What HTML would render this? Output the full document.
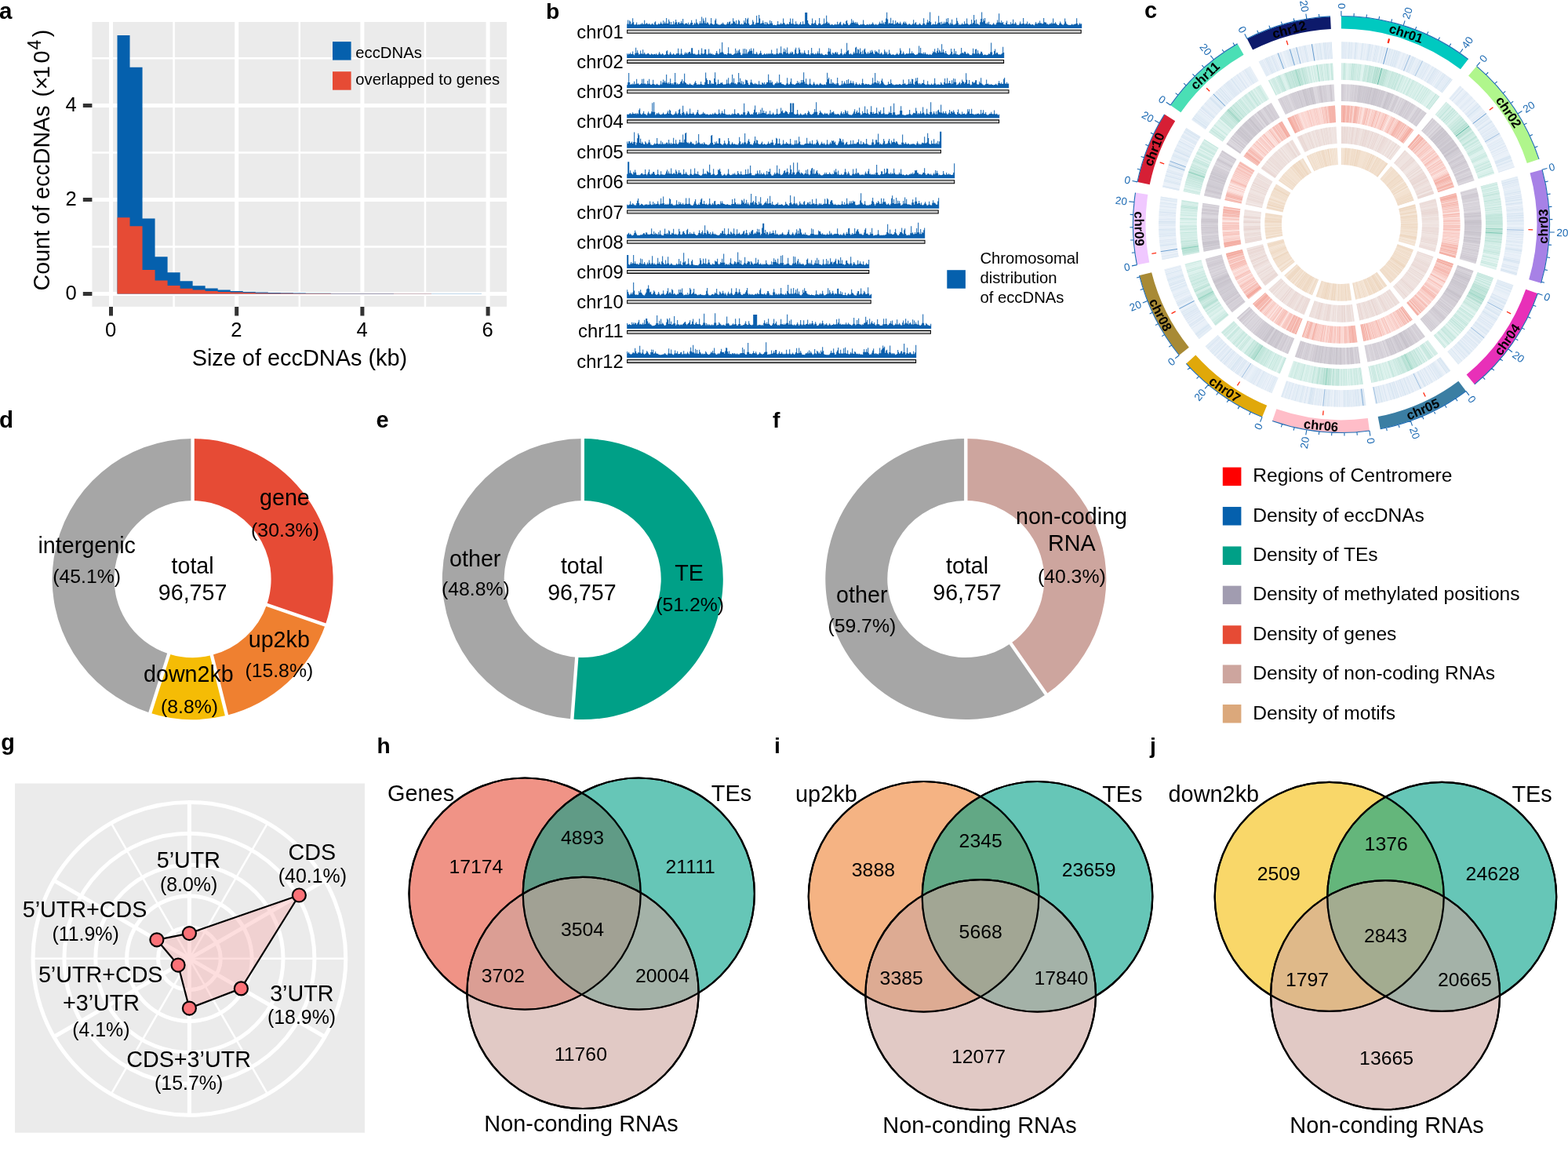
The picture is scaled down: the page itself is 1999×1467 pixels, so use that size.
<!DOCTYPE html>
<html lang="en"><head><meta charset="utf-8"><title>eccDNA figure</title>
<style>
html,body{margin:0;padding:0;background:#fff}
body{width:1999px;height:1467px;overflow:hidden}
svg{display:block;font-family:"Liberation Sans",sans-serif;fill:#000}
</style></head><body>
<svg width="1999" height="1467" viewBox="0 0 1999 1467">
<rect width="1999" height="1467" fill="#fff"/>
<text x="-1" y="23.6" font-size="29.5" font-weight="bold">a</text>
<text x="696" y="23.6" font-size="28.3" font-weight="bold">b</text>
<text x="1459" y="23.4" font-size="29" font-weight="bold">c</text>
<text x="-1" y="545.4" font-size="29.5" font-weight="bold">d</text>
<text x="479.5" y="545.3" font-size="29" font-weight="bold">e</text>
<text x="985" y="545.3" font-size="28.3" font-weight="bold">f</text>
<text x="1.2" y="956.4" font-size="28.8" font-weight="bold">g</text>
<text x="480.5" y="959.8" font-size="28.1" font-weight="bold">h</text>
<text x="987" y="959.8" font-size="28.3" font-weight="bold">i</text>
<text x="1466" y="959.8" font-size="28.3" font-weight="bold">j</text>
<g id="pa">
<rect x="117.4" y="28" width="528.6" height="362.9" fill="#ebebeb"/>
<path d="M221.6 28V390.9M381.8 28V390.9M542 28V390.9M117.4 314.55H646M117.4 194.45H646M117.4 74.35H646" stroke="#fff" stroke-width="2.5" fill="none"/>
<path d="M141.5 28V390.9M301.7 28V390.9M461.9 28V390.9M622.1 28V390.9M117.4 374.6H646M117.4 254.5H646M117.4 134.4H646" stroke="#fff" stroke-width="5" fill="none"/>
<path d="M149.51 374.6V44.93H165.53V85.76H181.55V278.52H197.57V327.34H213.59V347.22H229.61V358.21H245.63V364.21H261.65V367.39H277.67V369.62H293.69V371H309.71V371.9H325.73V372.5H341.75V372.92H357.77V373.22H373.79V373.46H389.81V373.64H405.83V373.76H421.85V373.88H437.87V373.94H453.89V374H469.91V374.06H485.93V374.12H501.95V374.18H517.97V374.18H533.99V374.24H550.01V374.24H566.03V374.3H582.05V374.3H598.07V374.3H614.09V374.6Z" fill="#0560ad"/>
<path d="M149.51 374.6V277.32H165.53V288.13H181.55V343.97H197.57V357.43H213.59V364.03H229.61V367.63H245.63V369.62H261.65V371H277.67V371.9H293.69V372.56H309.71V373.04H325.73V373.4H341.75V373.64H357.77V373.82H373.79V373.94H389.81V374.06H405.83V374.12H421.85V374.18H437.87V374.24H453.89V374.24H469.91V374.3H485.93V374.3H501.95V374.36H517.97V374.36H533.99V374.36H550.01V374.42H566.03V374.42H582.05V374.42H598.07V374.42H614.09V374.6Z" fill="#e64b35"/>
<path d="M141.5 390.9V402.5M301.7 390.9V402.5M461.9 390.9V402.5M622.1 390.9V402.5M105.8 374.6H117.4M105.8 254.5H117.4M105.8 134.4H117.4" stroke="#333" stroke-width="5" fill="none"/>
<text x="141.1" y="429.3" font-size="25.6" text-anchor="middle">0</text>
<text x="301.3" y="429.3" font-size="25.6" text-anchor="middle">2</text>
<text x="461.5" y="429.3" font-size="25.6" text-anchor="middle">4</text>
<text x="621.7" y="429.3" font-size="25.6" text-anchor="middle">6</text>
<text x="97.8" y="382.4" font-size="25.6" text-anchor="end">0</text>
<text x="97.8" y="262.3" font-size="25.6" text-anchor="end">2</text>
<text x="97.8" y="142.2" font-size="25.6" text-anchor="end">4</text>
<text x="381.9" y="465.8" font-size="28.9" text-anchor="middle">Size of eccDNAs (kb)</text>
<text transform="translate(62.9,370.4) rotate(-90)" font-size="28.7">Count of eccDNAs <tspan dx="3">(</tspan><tspan dx="-0.4">×</tspan><tspan dx="-2.5">1</tspan><tspan dx="3.5">0</tspan><tspan dy="-11.2" font-size="23" dx="1">4</tspan><tspan dy="11.2" dx="3.5">)</tspan></text>
<rect x="424" y="53.1" width="23.6" height="23.5" fill="#0560ad"/>
<rect x="424" y="91.2" width="23.6" height="23.5" fill="#e64b35"/>
<text x="453.3" y="74.1" font-size="20.3">eccDNAs</text>
<text x="453.3" y="108.2" font-size="20.3">overlapped to genes</text>
</g>
<g id="pb">
<text x="794.8" y="48.75" font-size="23.8" text-anchor="end">chr01</text>
<text x="794.8" y="86.9" font-size="23.8" text-anchor="end">chr02</text>
<text x="794.8" y="125.2" font-size="23.8" text-anchor="end">chr03</text>
<text x="794.8" y="163.3" font-size="23.8" text-anchor="end">chr04</text>
<text x="794.8" y="201.6" font-size="23.8" text-anchor="end">chr05</text>
<text x="794.8" y="240.2" font-size="23.8" text-anchor="end">chr06</text>
<text x="794.8" y="278.5" font-size="23.8" text-anchor="end">chr07</text>
<text x="794.8" y="316.7" font-size="23.8" text-anchor="end">chr08</text>
<text x="794.8" y="354.9" font-size="23.8" text-anchor="end">chr09</text>
<text x="794.8" y="393.2" font-size="23.8" text-anchor="end">chr10</text>
<text x="794.8" y="430.2" font-size="23.8" text-anchor="end">chr11</text>
<text x="794.8" y="468.9" font-size="23.8" text-anchor="end">chr12</text>
<path d="M799.2 35.9V30.47h1V25.6h1V30.7h1V26.14h1V27.45h1V30.92h1V29.59h1V23.32h1V28.13h1V31.33h1V31.64h1V30.87h1V28.51h1V31.43h1V31.56h1V31.08h1V31.5h1V30.6h1V30.84h1V29.28h1V30.84h1V30.73h1V25.72h1V30.73h1V30.23h1V29.28h1V30.62h1V31.03h1V29.65h1V31.03h1V31.62h1V30.84h1V29.81h1V31.11h1V31.43h1V28.52h1V27.29h1V31.12h1V31.8h1V31.12h1V29.83h1V31.12h1V30.03h1V27.65h1V30.03h1V30.84h1V26.18h1V30.11h1V27.81h1V30.06h1V23.05h1V30.06h1V30h1V24.78h1V27.54h1V31.19h1V27.92h1V31.28h1V31.12h1V27.26h1V31.12h1V28.67h1V24.94h1V28.24h1V31.08h1V28.75h1V27.88h1V30.14h1V29.52h1V26.64h1V29.52h1V23.88h1V30.27h1V31.15h1V29.9h1V29.53h1V29.84h1V31.12h1V28.72h1V31.48h1V30.63h1V29.08h1V25.76h1V29.08h1V32.01h1V30.67h1V28.94h1V30.45h1V24.61h1V28.79h1V30.32h1V31.36h1V29.73h1V27.05h1V29.68h1V21.51h1V29.68h1V23.53h1V26.51h1V29.45h1V22.59h1V29.95h1V28.33h1V29.32h1V30.86h1V31.74h1V30.05h1V22.98h1V30.05h1V31.09h1V31.58h1V30.81h1V26.04h1V23.71h1V30.23h1V30.46h1V31.43h1V31.18h1V31.79h1V31.29h1V30.18h1V30.57h1V28.75h1V30.57h1V31.32h1V31.5h1V31.42h1V30.26h1V28.12h1V30.26h1V28.11h1V27.34h1V31.13h1V30.1h1V30.09h1V23.16h1V27.26h1V27.83h1V30.11h1V26.1h1V30.82h1V30.62h1V25.3h1V26.75h1V30.93h1V31.24h1V30.07h1V31.24h1V30.84h1V26.16h1V28.76h1V22.93h1V30.03h1V24.43h1V22.8h1V30h1V31.65h1V31.95h1V31.49h1V30.67h1V25.48h1V27.85h1V31.26h1V31.33h1V29.29h1V19.97h1V29.29h1V29.07h1V19.08h1V23.58h1V30.19h1V29.7h1V29.37h1V26.34h1V29.37h1V30.88h1V28.06h1V31.31h1V28.35h1V29.64h1V30.73h1V30.8h1V26h1V29.7h1V27h1V29.7h1V31.84h1V31.92h1V31.43h1V31.92h1V32.23h1V31.03h1V26.92h1V31.03h1V31.27h1V30.79h1V29.23h1V30.82h1V30.17h1V23.47h1V29.06h1V30.41h1V31.41h1V31.18h1V29.95h1V31.08h1V30.68h1V28.03h1V23.47h1V30.17h1V30.23h1V23.71h1V30.23h1V31.25h1V31.09h1V27.17h1V30.44h1V30.38h1V31.38h1V31.31h1V30.22h1V27.94h1V31.29h1V31.09h1V27.15h1V30.73h1V30.71h1V15.9h1V15.9h1V15.9h1V25.92h1V29.83h1V31.11h1V31.95h1V32.05h1V30.11h1V23.57h1V30.11h1V30.58h1V28.98h1V25.7h1V30.73h1V31.95h1V31.83h1V30.02h1V22.88h1V30.02h1V31.46h1V31.65h1V31.07h1V30.17h1V23.47h1V30.17h1V29.25h1V19.79h1V27.71h1V29.89h1V28.73h1V30.56h1V31.8h1V31.5h1V30.85h1V31.62h1V32.08h1V31.39h1V30.38h1V31.39h1V31.26h1V27.85h1V31.26h1V30.62h1V28.85h1V27.65h1V31.21h1V32.18h1V30.76h1V29.13h1V30.76h1V31.07h1V27.1h1V25.63h1V29.83h1V31.66h1V31.96h1V30.98h1V29.57h1V24.29h1V29.01h1V26.36h1V28.48h1V29.5h1V27.9h1V30.27h1V28.14h1V30.27h1V31.48h1V31.94h1V31.62h1V30.84h1V31.62h1V30.67h1V25.49h1V30.67h1V31.74h1V31.94h1V31.47h1V30.85h1V31.43h1V31.49h1V30.57h1V31.49h1V30.72h1V30.46h1V28.51h1V30.46h1V31.58h1V31.39h1V30.38h1V31.39h1V31.84h1V31.33h1V30.12h1V27.85h1V30.12h1V30.17h1V26.34h1V30.17h1V28.51h1V30.79h1V27.9h1V23.39h1V15.85h1V24.58h1V30.45h1V28.88h1V29.96h1V22.63h1V29.96h1V29.81h1V25.82h1V30.76h1V30.7h1V26.23h1V29.89h1V28.49h1V28.61h1V30.34h1V30.03h1V27.66h1V30.03h1V31.83h1V30.54h1V28.68h1V27.38h1V30.09h1V27.78h1V30.09h1V31.38h1V31.39h1V30.39h1V30.18h1V31.29h1V31.73h1V31.35h1V30.3h1V25.31h1V30.63h1V29.18h1V28.27h1V31.36h1V31.51h1V31.56h1V30.72h1V29.58h1V30.99h1V31.88h1V31.7h1V30.09h1V23.15h1V30.09h1V31.64h1V31.16h1V28.87h1V25.34h1V28.87h1V26.99h1V15.59h1V28.2h1V31.7h1V31.27h1V30.14h1V31.27h1V30.95h1V27.57h1V31.19h1V30.82h1V29.35h1V20.21h1V29.35h1V28.24h1V31.26h1V27.84h1V30.62h1V30.1h1V27.81h1V30.1h1V28.13h1V23.87h1V28.13h1V23.04h1V30.06h1V31.5h1V28.8h1V30.51h1V24.86h1V30.51h1V31.85h1V31.3h1V31.17h1V29.95h1V22.77h1V26.83h1V29.62h1V31.66h1V30.95h1V31.67h1V31h1V29.59h1V31h1V31.12h1V27.29h1V30.46h1V30.16h1V23.45h1V30.16h1V31.2h1V31.74h1V31.09h1V30.52h1V24.88h1V30.52h1V29.07h1V19.09h1V26.1h1V30.49h1V24.76h1V30.49h1V30.14h1V31.27h1V31.69h1V28.24h1V24.07h1V15.53h1V28.18h1V23.78h1V26.62h1V23.07h1V30.07h1V30.51h1V28.61h1V30.51h1V27.72h1V31.23h1V30.69h1V31.55h1V31.64h1V30.85h1V29.31h1V30.85h1V31.65h1V30.91h1V28.91h1V25.42h1V28.6h1V17.19h1V28.6h1V29.3h1V26.19h1V29.3h1V27.93h1V30.96h1V31.32h1V31.52h1V28.88h1V26.58h1V30.94h1V31.07h1V30.93h1V31.37h1V28.28h1V30.87h1V30.11h1V24.71h1V30.48h1V30.32h1V28.25h1V30.32h1V32.01h1V31.62h1V32.01h1V30.28h1V27.6h1V30.28h1V30.86h1V30.08h1V23.12h1V30.08h1V31.25h1V30.35h1V30.37h1V27.39h1V31.15h1V30.32h1V29.6h1V31h1V31.54h1V31.29h1V30.86h1V31.63h1V32.2h1V30.23h1V28.06h1V30.23h1V30.61h1V28.83h1V29.5h1V26.6h1V29.5h1V29.48h1V30.47h1V30.04h1V22.98h1V28.21h1V28.43h1V28.63h1V30.63h1V30.61h1V31.5h1V31.12h1V29.83h1V30.56h1V28.71h1V30.15h1V23.39h1V29.89h1V29.79h1V28.26h1V30.28h1V31.34h1V32.11h1V31.9h1V29.91h1V27.41h1V29.54h1V30.97h1V31.54h1V31.76h1V30.19h1V23.57h1V27.59h1V30.25h1V31.32h1V31.39h1V31.89h1V31.76h1V31.95h1V31.5h1V30.6h1V31.5h1V31.5h1V30.61h1V30.92h1V30.08h1V23.13h1V30.08h1V31.88h1V30.78h1V29.17h1V30.78h1V30.29h1V35.9ZM799.2 74.05V68.3h1V69.44h1V68.32h1V68.93h1V67.3h1V68.93h1V68.73h1V65.44h1V69.27h1V70.25h1V68.11h1V60.79h1V67.46h1V64.36h1V67.46h1V69.56h1V69.03h1V64.46h1V68.2h1V68.69h1V63.13h1V68.69h1V66.97h1V68.76h1V69.59h1V68.63h1V68.32h1V67.68h1V69.01h1V69.78h1V69.41h1V68.26h1V69.06h1V69.72h1V69.09h1V68.86h1V69.42h1V68.29h1V69.42h1V70.05h1V68.43h1V66.32h1V68.43h1V69.38h1V69.23h1V67.9h1V69.23h1V70.15h1V69.8h1V69.23h1V65.27h1V64.33h1V68.99h1V69.9h1V68.44h1V66.33h1V68.44h1V69.8h1V69.31h1V68.06h1V69.31h1V70.08h1V69.27h1V67.99h1V68.32h1V61.63h1V68.32h1V70.08h1V68.5h1V62.36h1V68.5h1V70.01h1V69.71h1V68.57h1V66.59h1V68.57h1V67.01h1V68.78h1V66.98h1V66h1V66.12h1V68.21h1V61.17h1V61.26h1V68.23h1V68.89h1V68.22h1V69.39h1V69.41h1V69.68h1V68.87h1V63.85h1V68.87h1V70.03h1V68.31h1V61.59h1V68.31h1V68.91h1V68.12h1V62.91h1V63.09h1V68.68h1V69.69h1V68.51h1V62.38h1V68.51h1V67.58h1V69.07h1V68.34h1V69.45h1V69.34h1V69.94h1V69.77h1V67.78h1V65.02h1V67.78h1V69.37h1V68.5h1V62.35h1V67.3h1V66.44h1V54.1h1V66.44h1V68.22h1V69.13h1V69.07h1V69.19h1V69.87h1V67.99h1V60.29h1V67.99h1V68.95h1V67.96h1V69.25h1V69.93h1V69.78h1V69.01h1V68.36h1V61.78h1V68.36h1V64.53h1V67.59h1V64.62h1V62.86h1V66.95h1V69.65h1V70.36h1V68.51h1V62.37h1V68.42h1V62.02h1V68.42h1V62.96h1V68.53h1V66.51h1V65.55h1V62.82h1V65.03h1V61.45h1V64.66h1V68.38h1V61.87h1V68.38h1V69.06h1V68.38h1V66.2h1V68.38h1V69.64h1V68.73h1V67.71h1V64.86h1V67.71h1V69.71h1V69.84h1V69.17h1V68.08h1V69.31h1V69.28h1V68.01h1V69.28h1V68.05h1V69.12h1V67.69h1V68.78h1V63.45h1V68.16h1V68.47h1V69.51h1V68.85h1V69.51h1V68.36h1V61.81h1V68.33h1V68.93h1V67.3h1V67.73h1V59.29h1V67.73h1V69.3h1V66.16h1V61.76h1V66.16h1V63.17h1V68.07h1V60.61h1V67.53h1V69.04h1V68.28h1V66.16h1V67.99h1V65.74h1V66.72h1V69.33h1V68.7h1V63.16h1V60.81h1V68.12h1V69.01h1V68.11h1V60.77h1V63.36h1V66.95h1V68.79h1V67.03h1V68.79h1V67.38h1V64.21h1V67.38h1V68.86h1V69.21h1V68.89h1V63.92h1V68.89h1V70.32h1V68.17h1V61.02h1V68.17h1V67.53h1V69.04h1V69.16h1V67.78h1V69.16h1V67.95h1V65.61h1V68.26h1V61.39h1V68.26h1V69.18h1V67.81h1V69.18h1V69.98h1V70.26h1V69.72h1V68.89h1V69.58h1V70.06h1V65.86h1V61.16h1V65.86h1V62.33h1V68.49h1V69.67h1V67.04h1V67.87h1V68.73h1V66.9h1V65.88h1V68.34h1V66.48h1V69.14h1V69.84h1V69.13h1V68.05h1V62.29h1V68.48h1V70.16h1V69.05h1V67.55h1V69.05h1V66.59h1V54.73h1V64.64h1V63.67h1V68.83h1V69.28h1V68.01h1V69.28h1V69.83h1V68.24h1V65.93h1V68.1h1V60.76h1V59.83h1V67.87h1V62.51h1V63.15h1V68.26h1V61.4h1V66.25h1V69.02h1V64.41h1V68.74h1V63.33h1V61.68h1V66.39h1V68.47h1V68.42h1V66.3h1V68.42h1V67.57h1V64.59h1V66.89h1V63.69h1V65.8h1V68.17h1V68.97h1V64.24h1V66.14h1V65.31h1V66.4h1V68.06h1V62.88h1V68.63h1V68.61h1V66.68h1V68.61h1V69.7h1V68.71h1V63.19h1V65.86h1V68.21h1V66.24h1V69.47h1V68.79h1V63.5h1V67.8h1V69.18h1V69.92h1V69.62h1V69.13h1V69.84h1V70.17h1V69.83h1V69.07h1V67.58h1V69.07h1V69.94h1V68.26h1V61.39h1V64.53h1V69.04h1V68.15h1V65.75h1V68.15h1V69.83h1V69.11h1V67.97h1V68.54h1V68.41h1V68.24h1V61.39h1V68.26h1V68.08h1V65.62h1V68.08h1V67.46h1V69h1V69.63h1V69.94h1V69.33h1V69.13h1V67.52h1V58.42h1V67.52h1V61.07h1V68.18h1V67.82h1V68.74h1V66.74h1V68.65h1V66.76h1V68.65h1V69.46h1V68.82h1V69.68h1V69.7h1V68.86h1V69.7h1V69.78h1V68.05h1V65.54h1V66.39h1V62.22h1V66.39h1V67.67h1V64.8h1V61.24h1V67.08h1V63.6h1V65.17h1V66.95h1V56.14h1V66.74h1V62.94h1V66.74h1V68.23h1V65.07h1V67.78h1V68.9h1V69.52h1V69.98h1V69.41h1V68.44h1V62.11h1V65.94h1V69.4h1V68.42h1V62.04h1V68.42h1V65.32h1V69.24h1V69.24h1V69.65h1V69.89h1V69.24h1V68.16h1V61h1V67.66h1V67.11h1V68.14h1V65.72h1V66.07h1V68.31h1V68.99h1V67.43h1V68.19h1V69.37h1V70.24h1V70.03h1V70.18h1V68.33h1V61.68h1V68.33h1V68.6h1V62.73h1V62.46h1V68.53h1V64.17h1V67.84h1V69.19h1V68.17h1V65.78h1V66.03h1V68.29h1V70.32h1V69.89h1V69.22h1V69.89h1V70.19h1V69.96h1V69.38h1V68.33h1V68.94h1V66.56h1V54.59h1V66.56h1V70.21h1V69.17h1V65.03h1V62.39h1V68.51h1V66.96h1V67.33h1V68.94h1V69.73h1V68.92h1V69.65h1V68.75h1V67.74h1V59.74h1V66.89h1V74.05ZM799.2 112.35V108.31h1V104.88h1V92.97h1V104.88h1V107.99h1V107.12h1V107.73h1V106.6h1V107.58h1V103.76h1V107.58h1V106.85h1V100.83h1V106.85h1V106.2h1V107.53h1V107.97h1V107.09h1V106.19h1V100.81h1V106.74h1V100.4h1V106.74h1V106.39h1V107.62h1V107.33h1V103.02h1V106.83h1V100.75h1V106.83h1V108.02h1V107.97h1V107.06h1V101.69h1V107.06h1V107.66h1V108.17h1V107.48h1V106.67h1V107.76h1V108.18h1V108.51h1V107.45h1V103.24h1V107.45h1V105.22h1V101.58h1V105.22h1V102.97h1V105.4h1V95.05h1V105.4h1V106.8h1V104.74h1V106.72h1V100.32h1V106.11h1V107.45h1V106.05h1V107.45h1V104.91h1V93.07h1V104.91h1V107.51h1V106.18h1V107.51h1V107.37h1V106.68h1V104.5h1V103.4h1V100.88h1V106.22h1V103.6h1V93.79h1V105.08h1V105.95h1V107.4h1V107.22h1V108.03h1V107.54h1V106.23h1V107.54h1V107.97h1V108.21h1V108.39h1V107.05h1V105.26h1V103.35h1V106.1h1V108.12h1V107.44h1V107.58h1V107.87h1V107.23h1V104.12h1V107.15h1V108h1V108.15h1V108.04h1V104.79h1V92.62h1V99.75h1V101.9h1V107.11h1V107.14h1V102.01h1V102.7h1V107.31h1V105.86h1V106.97h1V106.63h1V99.95h1V92.13h1V104.67h1V108.23h1V107.01h1V101.49h1V107.01h1V107.01h1V105.56h1V105.76h1V105.11h1V106.98h1V107.99h1V107.14h1V107.85h1V106.85h1V101.43h1V106.47h1V99.34h1V106.47h1V107.48h1V106.12h1V104.63h1V94.97h1V105.38h1V99.66h1V106.55h1V106.37h1V107.61h1V107.3h1V104.92h1V93.12h1V104.92h1V99.86h1V106.6h1V103.21h1V107.44h1V104.25h1V107.7h1V107.03h1V101.59h1V102.36h1V102.4h1V105.63h1V108.02h1V108.29h1V105.21h1V101.57h1V105.21h1V106.62h1V107.34h1V107.3h1V105.76h1V107.13h1V106.69h1V107.77h1V107.43h1V103.16h1V107.43h1V107.86h1V107.96h1V105.3h1V105.78h1V107.31h1V104.92h1V107.87h1V106.77h1V104.69h1V105.04h1V94.79h1V102.28h1V105.57h1V102.2h1V105.41h1V104.28h1V107.71h1V108.48h1V107.35h1V105.86h1V106.37h1V103.9h1V106.37h1V105.41h1V95.09h1V105.41h1V105.01h1V106.93h1V107.28h1V107.15h1V108h1V108.54h1V108.17h1V106.47h1V99.34h1V106.47h1V107.88h1V106.92h1V104.42h1V100.06h1V106.65h1V107.52h1V107.24h1V108.05h1V107.77h1V106.69h1V106.01h1V103.17h1V106.01h1V104.61h1V106.73h1V105.43h1V102.01h1V105.17h1V102.09h1V92.27h1V104.2h1V106.71h1V100.29h1V106.71h1V107.81h1V108.22h1V106.78h1V100.58h1V106.78h1V108.08h1V108.45h1V106.68h1V104.5h1V106.68h1V108.39h1V107.78h1V106.71h1V107.78h1V108.48h1V107.32h1V105.8h1V106.76h1V107.81h1V107.85h1V108.17h1V107.48h1V107.55h1V108.2h1V104.84h1V92.8h1V100.95h1V99.02h1V106.39h1V106.87h1V100.91h1V106.87h1V105.09h1V105.65h1V107.25h1V106.49h1V107.67h1V106.36h1V98.91h1V106.36h1V108.56h1V108.63h1V108.55h1V107.4h1V103.05h1V107.4h1V106.28h1V103.71h1V106.28h1V107.15h1V102.04h1V106.86h1V100.88h1V106.86h1V105.82h1V102.79h1V105.82h1V106.14h1V103.44h1V106.14h1V108.48h1V106.89h1V104.94h1V106.89h1V108.14h1V107.7h1V106.55h1V107.7h1V108.25h1V106.18h1V100.5h1V105.97h1V107.41h1V107.83h1V106.81h1V106.98h1V107.73h1V107.15h1V107.36h1V108.11h1V108.37h1V107.89h1V106.47h1V99.32h1V106.47h1V104.91h1V93.1h1V104.91h1V106.21h1V102.87h1V106.17h1V103.72h1V107.57h1V106.41h1V102.78h1V100.16h1V104.5h1V106.45h1V107.65h1V108.16h1V108.44h1V108.23h1V107.69h1V104.19h1V106.95h1V106.94h1V101.22h1V105.91h1V107.38h1V107.41h1V108.13h1V108.16h1V108.07h1V107.28h1V108.07h1V107.55h1V107.92h1V106.98h1V107.21h1V108.03h1V108.13h1V107.01h1V101.5h1V107.01h1V106.11h1V107.48h1V107.98h1V107.77h1V106.87h1V100.93h1V106.87h1V103.92h1V106.75h1V100.45h1V100.92h1V106.87h1V107.92h1V104.15h1V99.46h1V103.18h1V98.92h1V106.37h1V107.38h1V105.91h1V107.38h1V107.34h1V105.83h1V105.94h1V101.86h1V107.1h1V107.84h1V108.17h1V107.46h1V103.31h1V107.46h1V107.6h1V108.23h1V107.63h1V106.42h1V107.63h1V107.97h1V106.57h1V99.74h1V106.57h1V108.23h1V107.61h1V107.82h1V107.16h1V108.01h1V107.82h1V104.73h1V106.55h1V107.7h1V107.88h1V104.98h1V99.92h1V106.62h1V106.49h1V99.42h1V106.49h1V105.91h1V102.97h1V105.91h1V107.22h1V102.33h1V106.63h1V99.96h1V104.68h1V100.52h1V104.68h1V108.21h1V107.82h1V107.35h1V105.86h1V104.44h1V107.45h1V106.05h1V101.46h1V103.72h1V104.52h1V106.68h1V104.97h1V93.34h1V101.72h1V107.07h1V106.52h1V102.01h1V107.14h1V108.52h1V107.7h1V104.25h1V104.59h1V106.08h1V104.74h1V102.13h1V102.31h1V107.21h1V107.79h1V107.59h1V103.79h1V105.77h1V99.22h1V106.44h1V107.58h1V108.22h1V108.6h1V108.3h1V107.03h1V101.59h1V107.03h1V106.55h1V107.7h1V107.48h1V107.97h1V107.08h1V107.97h1V107.92h1V108.39h1V108.05h1V107.86h1V106.86h1V107.86h1V108.62h1V106.05h1V103.26h1V106.05h1V107.06h1V105.27h1V107.06h1V106.81h1V100.69h1V99.07h1V106.41h1V106.77h1V104.7h1V106.77h1V106.42h1V112.35ZM799.2 150.45V145.8h1V145.81h1V145.79h1V144.63h1V144.22h1V145.58h1V145.16h1V143.37h1V145.09h1V144.65h1V145.23h1V144.33h1V145.59h1V144.24h1V145.28h1V140.27h1V138.17h1V144.75h1V146.03h1V145.55h1V144.16h1V141.69h1V145.14h1V145.33h1V146.14h1V146.8h1V144.58h1V142.21h1V144.58h1V145.54h1V144.61h1V142.27h1V131.14h1V142.8h1V130.33h1V142.8h1V146.5h1V145.46h1V143.98h1V145.27h1V143.59h1V145.27h1V146.07h1V146.2h1V145.45h1V145.17h1V143.38h1V145.17h1V146.09h1V145.22h1V145.29h1V143.62h1V141.34h1V145.12h1V139.63h1V140.9h1V144.89h1V145.92h1V146.43h1V146.13h1V145.38h1V144.48h1V142h1V144.48h1V145.64h1V144.33h1V140.1h1V138.65h1V144.88h1V146.59h1V143.91h1V134.78h1V142.63h1V144.79h1V146.57h1V144.47h1V141.98h1V144.47h1V146.05h1V144.84h1V138.53h1V144.84h1V145.28h1V145.08h1V143.21h1V145.08h1V146.5h1V146.32h1V144.84h1V142.73h1V139.88h1V144.85h1V145.9h1V146.17h1V145.4h1V145.44h1V144.72h1V142.72h1V144.84h1V144.49h1V145.72h1V145.81h1V145.29h1V146.12h1V146.43h1V145.9h1V145.3h1V146.12h1V145.78h1V144.62h1V145.78h1V144.85h1V143.52h1V144.91h1V145.38h1V146.04h1V145.09h1V139.53h1V144.34h1V145.65h1V144.19h1V141.43h1V144.19h1V145.05h1V139.36h1V145.05h1V146.34h1V145.74h1V146.34h1V146.21h1V145.46h1V146.21h1V146.58h1V145.71h1V144.47h1V145.71h1V145.05h1V139.35h1V145.02h1V145.98h1V145.43h1V143.92h1V144.5h1V145.73h1V146.65h1V146.09h1V145.23h1V146.04h1V143.16h1V131.8h1V143.16h1V146.41h1V146.33h1V144.24h1V141.53h1V142.51h1V144.73h1V145.99h1V145.99h1V145.03h1V145.99h1V143.38h1V139.8h1V134.46h1V143.51h1V142.76h1V145.9h1V145.13h1V143.31h1V145.13h1V139.79h1V144.6h1V137.54h1V144h1V141.04h1V144h1V144.44h1V142.06h1V145.63h1V145.79h1V144.64h1V145.55h1V141.35h1V145.48h1V145.96h1V145.18h1V143.41h1V145.18h1V146.49h1V146.04h1V144.9h1V138.74h1V144.9h1V146.01h1V145.07h1V144.6h1V137.54h1V141.9h1V140.45h1V143.7h1V144.35h1V142.84h1V141.35h1V141.89h1V142.95h1V144.95h1V145.42h1V143.33h1V131.45h1V131.45h1V143.04h1V131.45h1V131.45h1V145.3h1V145.73h1V145.9h1V145.19h1V139.9h1V145.19h1V146.69h1V145.7h1V144.45h1V145.7h1V146.6h1V146.36h1V145.77h1V145.53h1V144.11h1V145.53h1V146.41h1V144.07h1V141.19h1V142.71h1V145.18h1V145.85h1V146.17h1V145.38h1V144.97h1V143.29h1V139.02h1V142.8h1V130.35h1V142.8h1V146.51h1V146.31h1V143.98h1V141.01h1V142.91h1V144.23h1V144.85h1V145.9h1V145.32h1V143.69h1V145.32h1V144.71h1V144.58h1V145.76h1V146.39h1V144.42h1V140h1V144.42h1V142.78h1V143.27h1V141.81h1V144.38h1V146.01h1V145.06h1V146.01h1V145.21h1V144.89h1V145.92h1V146.74h1V144.45h1V141.95h1V144.45h1V145.58h1V143.02h1V145.27h1V140.24h1V141.71h1V144.33h1V141.48h1V145.58h1V146.07h1V146.51h1V146.32h1V146.64h1V145.73h1V144.51h1V142.22h1V139.16h1V145h1V142.82h1V140.86h1V143.91h1V143.35h1V137.19h1V144.51h1V146.61h1V145.67h1V141.84h1V144.57h1V144.07h1V135.42h1V144.07h1V145h1V139.14h1V144.23h1V145.59h1V145.88h1V142.68h1V135.33h1V143.01h1V144.88h1V142.81h1V144.88h1V144.9h1V143.89h1V137.32h1V144.54h1V145.64h1V141.73h1V143.08h1V140.51h1V145.34h1V145.32h1V144.43h1V136.87h1V144.43h1V145.94h1V144.93h1V145.94h1V145.56h1V144.77h1V142.58h1V144.03h1V135.36h1V144.05h1V146.27h1V143.14h1V131.71h1V143.14h1V146.18h1V146.56h1V146.41h1V145.87h1V145.93h1V145.49h1V141.12h1V135.28h1V141.12h1V146.37h1V146.32h1V146.63h1V146.68h1V146.73h1V146.33h1V145.71h1V146.33h1V145.23h1V140.06h1V145.23h1V146.3h1V146.5h1V145.31h1V143.66h1V144h1V144.59h1V137.5h1V141.57h1V145.42h1V143.88h1V145.42h1V144.48h1V141.87h1V145.34h1V144.32h1V136.42h1V143.53h1V145.24h1V146.51h1V144.87h1V138.63h1V144.87h1V145.28h1V146.1h1V142.77h1V130.24h1V142.77h1V145.79h1V144.51h1V142.06h1V144.51h1V145.71h1V142h1V145.42h1V140.81h1V139.66h1V142.67h1V143.61h1V133.58h1V143.61h1V144.49h1V142.03h1V144.24h1V144.41h1V141.86h1V144.41h1V145.86h1V145.39h1V143.83h1V139.97h1V145.01h1V142.32h1V141.96h1V143.68h1V140.41h1V142.86h1V144.9h1V145.84h1V145.94h1V142.9h1V139.39h1V145.06h1V144.6h1V145.77h1V145.82h1V142.45h1V145.18h1V145.06h1V144.56h1V145.75h1V145.73h1V144.51h1V139.14h1V142.2h1V139.33h1V145.04h1V144.9h1V138.74h1V144.9h1V145.42h1V145.52h1V146.14h1V145.32h1V145.84h1V144.74h1V145.06h1V144.58h1V145.76h1V145.24h1V140.11h1V145.24h1V143.8h1V140.16h1V145.25h1V145.06h1V142.99h1V145.83h1V146.51h1V146.46h1V145.85h1V144.74h1V144.91h1V142.87h1V144.91h1V145.43h1V145.15h1V140.42h1V145.15h1V145.85h1V144.74h1V145.85h1V146.8h1V145.85h1V150.45ZM799.2 188.75V180.62h1V183.08h1V180.17h1V179.9h1V182.58h1V181.73h1V180.55h1V182.9h1V181.07h1V168.54h1V181.07h1V184.63h1V181.75h1V176.2h1V170.04h1V172.32h1V182.02h1V176.79h1V182.97h1V180.69h1V182.42h1V183.83h1V184.01h1V180.27h1V181.65h1V183.45h1V183.14h1V181.47h1V178.24h1V181.75h1V184.2h1V184.53h1V184.89h1V184.63h1V183.84h1V182.43h1V183.84h1V182.96h1V176.09h1V182.96h1V184.11h1V182.96h1V183.84h1V179.62h1V183.84h1V181.31h1V183.22h1V184.03h1V182.82h1V183.56h1V181.87h1V181.8h1V183.42h1V177.93h1V182.6h1V183.66h1V182.06h1V183.66h1V182.89h1V175.81h1V182.89h1V183.52h1V178.35h1V182.67h1V183.96h1V183.2h1V181.59h1V177.92h1V181.59h1V181.27h1V181.79h1V171.42h1V181.79h1V177.65h1V170.05h1V168.88h1V181.16h1V182.21h1V181.38h1V183.32h1V181.82h1V180.6h1V181.2h1V183.23h1V182.81h1V183.87h1V184.56h1V183.82h1V179.54h1V183.36h1V181.69h1V171.03h1V181.69h1V183.49h1V183.18h1V183.39h1V182.52h1V183.88h1V181.3h1V182.86h1V184.05h1V183.72h1V184.49h1V184.83h1V184.53h1V183.81h1V182.2h1V173.04h1V171.89h1V181.91h1V184.25h1V184.1h1V180.65h1V182.69h1V180.13h1V182.69h1V182.97h1V176.13h1V176.23h1V182.99h1V183.76h1V184.48h1V184.43h1V183.01h1V179.37h1V182.39h1V183.82h1V184.58h1V182.92h1V175.92h1V179.65h1V183.85h1V184.57h1V183.26h1V181.27h1V183.26h1V184.09h1V182.94h1V184.09h1V184.57h1V184.09h1V184.64h1V182.65h1V174.83h1V180.27h1V184h1V183.27h1V181.63h1V183.44h1V181.44h1V170.01h1V181.44h1V183.78h1V182.43h1V179.61h1V177.15h1V180.7h1V184.11h1V183.58h1V184.41h1V184.4h1V182.49h1V179.74h1V173.99h1V182.44h1V178.3h1V178.89h1V182.9h1V184.08h1V183.87h1V183.78h1V182.31h1V180.61h1V184.09h1V184.09h1V182.94h1V184.09h1V184.45h1V183.98h1V182.92h1V180.58h1V182.92h1V183.49h1V181.74h1V181.74h1V178.22h1V181.74h1V184.79h1V184.75h1V182.86h1V175.7h1V176.8h1V183.14h1V183.11h1V176.7h1V183.11h1V184.81h1V184.38h1V183.57h1V178.54h1V183.33h1V183.66h1V183.1h1V180.95h1V183.1h1V182.77h1V184.01h1V183.16h1V176.88h1V183.16h1V184.67h1V184.08h1V184.67h1V183.6h1V178.64h1V183.57h1V178.73h1V183.57h1V182.51h1V174.29h1V180.54h1V183.99h1V184.73h1V184.29h1V184.77h1V184.54h1V183.83h1V183.04h1V182.89h1V175.81h1V182.79h1V183.2h1V182.8h1V180.34h1V182.8h1V183.61h1V178.69h1V183.61h1V184.17h1V183.1h1V184.17h1V182.25h1V177.97h1V180.14h1V182.7h1V184.66h1V184.51h1V183.03h1V180.81h1V183.03h1V183.74h1V182.27h1V183.76h1V184.71h1V183.48h1V178.15h1V183.48h1V184.42h1V183.29h1V181.33h1V183.29h1V178.98h1V180.04h1V179.05h1V181.76h1V180.43h1V183.95h1V185.02h1V184.71h1V182.7h1V180.16h1V176.35h1V176.9h1V179.38h1V181.42h1V177.59h1V181.42h1V184.52h1V183.52h1V181.79h1V180.78h1V183.92h1V184.58h1V183.97h1V183.69h1V179h1V183.69h1V183.6h1V178.65h1V183.6h1V183.08h1V183.59h1V183.32h1V181.39h1V181.22h1V177.53h1V183.32h1V183.88h1V179.77h1V183.88h1V183.41h1V180.95h1V182.43h1V183.84h1V183.17h1V176.92h1V183.17h1V184.3h1V184.4h1V184.82h1V184.87h1V184.49h1V181.43h1V177.61h1V181.43h1V184.38h1V183.49h1V178.22h1V178.25h1V181.58h1V170.56h1V181.58h1V183.99h1V182.72h1V183.99h1V184.35h1V182.44h1V177.1h1V179.66h1V183.85h1V183.32h1V183.47h1V182.38h1V179.51h1V177.03h1V182.25h1V183.75h1V179.28h1V181.47h1V181.04h1V176.83h1V181.04h1V182.25h1V180.02h1V180.82h1V183.03h1V184.26h1V184.55h1V183.92h1V184.58h1V181.82h1V171.53h1V181.82h1V183.43h1V183.3h1V181.35h1V183.3h1V183.97h1V182.69h1V183.28h1V184.26h1V184.2h1V183.14h1V184.1h1V182.95h1V183.56h1V183.48h1V184.36h1V184.69h1V182.7h1V180.15h1V182.7h1V184.25h1V183.25h1V184.25h1V183.56h1V181.86h1V182.22h1V182.47h1V174.15h1V182.47h1V182.38h1V181.4h1V169.84h1V175.88h1V182.91h1V183.89h1V183.77h1V179.33h1V183.1h1V183.28h1V177.37h1V183.28h1V183.45h1V181.65h1V183.45h1V179.64h1V183.7h1V180.37h1V167.75h1V167.75h1V188.75ZM799.2 227.35V221.68h1V206.35h1V206.35h1V220.59h1V217.34h1V220.59h1V221.59h1V222.55h1V218.66h1V220.13h1V216.41h1V219.74h1V222.82h1V223h1V223.31h1V222.76h1V223.31h1V222.37h1V220.89h1V220.7h1V222.27h1V222.61h1V221.91h1V216.08h1V221.91h1V223.25h1V221.49h1V219.13h1V216.04h1V221.9h1V222.68h1V221.51h1V221.18h1V218.92h1V219h1V221.42h1V222.89h1V222.96h1V221.98h1V216.37h1V221.98h1V223.28h1V222.47h1V218.34h1V222.15h1V222.41h1V222.58h1V222.97h1V222.6h1V221.23h1V218.6h1V216.37h1V221.17h1V218.48h1V221.17h1V221.53h1V214.56h1V221.53h1V222.1h1V220.87h1V220.42h1V221.96h1V216.29h1V218.45h1V222.08h1V220.31h1V216.97h1V220.41h1V219.93h1V221.87h1V222.86h1V221.84h1V215.8h1V221.84h1V221.5h1V219.15h1V221.5h1V222.83h1V223.09h1V223.47h1V221.75h1V215.45h1V221.75h1V222.82h1V223.05h1V221.48h1V214.38h1V221.48h1V221.53h1V221.93h1V218.56h1V222.34h1V223.09h1V223.48h1V223.63h1V223.25h1V221.71h1V215.3h1V221.71h1V221.53h1V221.32h1V222.17h1V217.67h1V218.91h1V220.34h1V209.81h1V220.34h1V222.69h1V222.8h1V221.73h1V215.36h1V221.73h1V223.22h1V223.3h1V223.07h1V221.93h1V216.17h1V216.77h1V214.9h1V218.74h1V222.32h1V223.63h1V223.39h1V222.68h1V221.52h1V222.68h1V223.76h1V222.71h1V221.58h1V215.43h1V221.75h1V223.1h1V223.31h1V222.77h1V222.52h1V221.18h1V222.19h1V220.52h1V222.19h1V222.92h1V222.35h1V217.95h1V220.66h1V222.26h1V222.35h1V218.4h1V221.98h1V222.91h1V222.25h1V223.05h1V221.89h1V215.99h1V221.89h1V221.79h1V215.6h1V221.79h1V220.66h1V211.09h1V220.66h1V223.33h1V223.31h1V223.13h1V223.46h1V222.51h1V221.17h1V221.74h1V217.43h1V220.74h1V222.13h1V216.97h1V222.13h1V220.43h1V222.14h1V222h1V220.14h1V222h1V223.19h1V222.36h1V217.91h1V222.36h1V218.9h1V219.09h1V215.01h1V221.64h1V223.44h1V223.64h1V223.46h1V222.36h1V219.93h1V222.08h1V220.59h1V210.79h1V220.59h1V221.67h1V215.14h1V221.67h1V223.32h1V222.8h1V222.18h1V220.5h1V217.9h1V216.91h1V220.38h1V219.35h1V214.85h1V219.35h1V222.61h1V220.54h1V210.61h1V216.06h1V221.9h1V219.67h1V207.13h1V219.67h1V222.84h1V221.83h1V219.69h1V207.2h1V218.83h1V216.5h1V220.17h1V221.76h1V219.67h1V220.68h1V221.53h1V222.65h1V221.44h1V221.06h1V216.66h1V221.81h1V215.69h1V221.81h1V223.25h1V222.27h1V217.52h1V214.75h1V214.11h1V221.41h1V215.74h1V221.82h1V221.22h1V218.59h1V217.02h1V220.44h1V222.61h1V221.36h1V222.61h1V223.25h1V223.39h1V223.21h1V222.57h1V221.94h1V220.03h1V221.88h1V219.91h1V221.88h1V222.01h1V221.77h1V219.7h1V221.77h1V221.71h1V222.61h1V221.37h1V222.12h1V217.15h1V219.56h1V215.28h1V219.56h1V222.24h1V217.41h1V222.24h1V223.05h1V222.72h1V221.58h1V222.72h1V222.84h1V222.29h1V219.6h1V215.35h1V219.6h1V222.49h1V221.13h1V218.77h1V221.31h1V223.19h1V223.39h1V223.5h1V221.79h1V215.6h1V221.43h1V222.31h1V220.78h1V214.64h1V221.55h1V220.06h1V220.47h1V222.16h1V223.13h1V222.41h1V222.68h1V222.6h1V222.6h1V223.22h1V221.25h1V218.65h1V221.25h1V221.65h1V218.27h1V215.21h1V221.69h1V221.43h1V222.64h1V222.02h1V222.45h1V222.52h1V221.58h1V222.72h1V220.37h1V209.94h1V220.37h1V222.73h1V222.83h1V223.34h1V221.88h1V218.21h1V218.38h1V222.04h1V221.64h1V215.02h1V221.27h1V219.64h1V214.71h1V215.37h1V221.62h1V221.17h1V221.95h1V220.04h1V221.95h1V221.02h1V221.58h1V214.76h1V220.55h1V222.06h1V222.76h1V221.67h1V222.74h1V221.63h1V219.66h1V221.75h1V215.46h1V221.75h1V223.03h1V222.22h1V223.03h1V223.46h1V222.91h1V221.97h1V222.71h1V223.28h1V222.84h1V221.83h1V222.35h1V220.86h1V221.94h1V220.03h1V221.94h1V220.87h1V217.09h1V217.54h1V216.84h1V220.35h1V220.51h1V222.18h1V221.83h1V222.23h1V222.76h1V222.03h1V220.2h1V219.94h1V214.36h1V221.35h1V223.05h1V222.57h1V221.28h1V221.2h1V221.76h1V222.64h1V221.44h1V222.64h1V223.45h1V222.19h1V220.54h1V222.13h1V216.98h1V220.82h1V217.79h1V220.82h1V223.18h1V222.51h1V223.02h1V223.28h1V222.96h1V222.41h1V218.1h1V221.56h1V222.71h1V222.87h1V219.92h1V222.2h1V222.56h1V221.28h1V222.56h1V222.26h1V223.05h1V223.11h1V222.38h1V219.92h1V208.14h1V227.35ZM799.2 265.65V260.79h1V261.4h1V261.31h1V260.48h1V256.48h1V260.73h1V260.63h1V259.11h1V260.25h1V261.2h1V261.62h1V261.5h1V258.97h1V255.78h1V252.95h1V258.92h1V261.41h1V261h1V259.85h1V260.04h1V261.09h1V261.78h1V261.33h1V260.51h1V260.63h1V260.17h1V261.16h1V260.78h1V260.71h1V256.38h1V260.19h1V261.17h1V260.87h1V257.01h1V260.53h1V258.92h1V260.53h1V260.37h1V259.8h1V256.5h1V259.8h1V261.31h1V259.81h1V252.8h1V259.81h1V259.21h1V250.4h1V259.21h1V261.03h1V259.92h1V260.97h1V259.8h1V260.97h1V259.77h1V252.63h1V254.1h1V260.14h1V259.45h1V260.8h1V261.63h1V261.32h1V261.73h1V260.42h1V255.22h1V260.42h1V260.67h1V257.24h1V259.98h1V258.11h1V260.13h1V260.49h1V258.83h1V260.49h1V261.03h1V259.72h1V252.42h1V259.72h1V260.22h1V259.76h1V252.58h1V259.76h1V261.19h1V261.61h1V261.88h1V261.3h1V259.4h1V256.66h1V254.07h1V259.79h1V261.17h1V260.89h1V259.62h1V260.89h1V257.76h1V254.26h1V252.81h1V259.82h1V259.95h1V255.93h1V259.95h1V260.77h1V259.39h1V260.77h1V261.13h1V259.85h1V252.96h1V259.85h1V261.37h1V260.49h1V258.84h1V260.49h1V256.51h1V255.93h1V260.6h1V261.16h1V260.36h1V260.02h1V260.19h1V260.72h1V256.41h1V259.29h1V256.43h1V259.29h1V260.1h1V259.88h1V260.91h1V260.58h1V260.82h1V260.03h1V261.09h1V261.33h1V260.92h1V261.41h1V260.1h1V253.96h1V260.1h1V259.86h1V252.97h1V257.95h1V260.05h1V260.79h1V259.43h1V260.79h1V259.76h1V260.95h1V259.75h1V254.79h1V255.83h1V258.26h1V253.39h1V259.96h1V258.82h1V254.82h1V260.17h1V258.19h1V260.17h1V261.52h1V258.39h1V247.11h1V258.39h1V257.6h1V255.98h1V260.61h1V257.84h1V250.01h1V259.11h1V261.06h1V260.83h1V256.95h1V259.42h1V251.23h1V259.42h1V261.4h1V261.37h1V260.4h1V258.65h1V258.34h1V256.44h1V259.29h1V252.9h1V259.84h1V259.06h1V249.8h1V259.06h1V260.85h1V256.96h1V260.85h1V260.95h1V261.55h1V260.98h1V259.8h1V260.35h1V258.36h1V261.2h1V261.02h1V260.83h1V261.1h1V260.05h1V261.1h1V261.71h1V261.82h1V260.95h1V257.36h1V259.69h1V260.61h1V261.38h1V261.9h1V258.89h1V249.1h1V258.14h1V260.15h1V260.54h1V259.23h1V250.46h1V259.23h1V260.47h1V258.78h1V260.47h1V262.03h1V260.8h1V256.74h1V259.29h1V260.72h1V259.78h1V260.96h1V257.58h1V256.15h1V260.65h1V261.37h1V260.12h1V258.09h1V258.35h1V260.25h1V256.99h1V260.86h1V260.13h1V254.06h1V259.77h1V258.96h1V260.55h1V259.92h1V253.24h1V259.92h1V261.53h1V260.54h1V258.94h1V260.38h1V259.18h1V260.67h1V260.94h1V259.73h1V259.65h1V253.39h1V259.65h1V259.78h1V252.67h1V254.28h1V260.18h1V260.38h1V257.11h1V255.2h1V255.22h1V258.68h1V260.42h1V261.01h1V259.86h1V261.01h1V261.15h1V261.28h1V260.42h1V260.91h1V261.02h1V261.21h1V260.27h1V256.46h1V260.27h1V261.07h1V257.85h1V261.07h1V259.8h1V252.74h1V259.42h1V260.78h1V259.37h1V256.59h1V259.37h1V256.4h1V258.94h1V255.74h1V257.37h1V256.87h1V260.83h1V261.53h1V260.91h1V261.27h1V260.4h1V260.52h1V255.62h1V246.13h1V258.14h1V259.61h1V260.88h1V260.14h1V256.35h1V260.7h1V261.83h1V261.53h1V261.55h1V261.48h1V260.81h1V261.16h1V260.08h1V256.22h1V252.12h1V257.14h1V259.79h1V261.69h1V260.11h1V258.08h1V259.01h1V255.94h1V257.82h1V259.99h1V259.78h1V252.67h1V259.78h1V257.58h1V253.01h1V257.58h1V256.9h1V259.53h1V261.05h1V260.18h1V259.37h1V260.76h1V261.54h1V259.78h1V252.66h1V249.27h1V258.93h1V254.01h1V260.12h1V259.64h1V252.11h1V259.64h1V255.85h1V259.19h1V256.23h1V259.19h1V261.72h1V261.28h1V260.62h1V256.04h1V259.47h1V251.44h1V259.47h1V253.8h1V260.06h1V261.09h1V260.02h1V261.09h1V260.74h1V261.44h1V258.2h1V254.26h1V258.2h1V260.66h1V256.78h1V251.42h1V256.78h1V260.05h1V259.04h1V255.94h1V259.04h1V260.66h1V258.19h1V261.16h1V261.4h1V260.65h1V259.24h1V257.32h1V259.74h1V261.42h1V261.86h1V260.79h1V256.71h1V260.74h1V261.44h1V261.41h1V258.66h1V255.16h1V258.4h1V258.42h1V259.48h1V260.66h1V260.72h1V256.44h1V252.29h1V265.65ZM799.2 303.85V299.11h1V297.86h1V296.76h1V299.02h1V297.7h1V299.02h1V300.15h1V299.95h1V299.14h1V297.1h1V293.84h1V296.42h1V298.39h1V299.97h1V299.72h1V300.04h1V299.84h1V299.32h1V299.25h1V299.33h1V298.3h1V297.07h1V297.52h1V298.94h1V296.22h1V296.53h1V298.46h1V298.92h1V298.43h1V298.9h1V298.07h1V291.23h1V298.07h1V298.98h1V294.89h1V298.55h1V296.74h1V298.55h1V298.04h1V299.17h1V296.12h1V298.67h1V293.64h1V298.67h1V299.63h1V299.99h1V299.93h1V298.11h1V291.41h1V298.11h1V298.62h1V296.89h1V298.62h1V293.59h1V294.77h1V298.91h1V298.86h1V296.75h1V297.62h1V291.85h1V298.22h1V299.07h1V297.79h1V299.07h1V299.51h1V298.18h1V291.67h1V295.04h1V298.82h1V299.23h1V298.26h1V295.28h1V294.57h1V297.09h1V298.72h1V298.56h1V293.17h1V291.83h1V298.22h1V298.16h1V295.96h1V298.16h1V297.6h1V298.15h1V297.95h1V295.55h1V297.95h1V299.09h1V299.72h1V299.85h1V299.34h1V296.92h1V293.49h1V296.92h1V298.23h1V296.12h1V293.79h1V298.71h1V297.07h1V287.24h1V297.07h1V298.57h1V293.21h1V295.08h1V297.72h1V298.31h1V295.99h1V299.16h1V297.82h1V295.29h1V297.82h1V298.81h1V297.71h1V299.03h1V299.2h1V299.78h1V299.65h1V299.85h1V298.67h1V296.99h1V297.38h1V294.42h1V294.16h1V298.03h1V291.07h1V298.03h1V299.39h1V299.37h1V298.05h1V291.16h1V298.05h1V299.05h1V295.14h1V296.53h1V298.44h1V297.39h1V291.18h1V298.06h1V299.69h1V298.31h1V292.18h1V298.31h1V297.66h1V296.52h1V298.43h1V299.33h1V298.31h1V297.78h1V295.21h1V293.88h1V298.73h1V297.22h1V292.88h1V297.22h1V299.52h1V299.33h1V296.29h1V297.67h1V294.99h1V293.5h1V293.08h1V298.53h1V297.69h1V296.51h1V297.76h1V295.17h1V291.7h1V296.27h1V292.18h1V296.27h1V299.62h1V297.89h1V290.53h1V284.85h1V284.85h1V296.94h1V292.91h1V298.49h1V295.4h1V296.16h1V299.3h1V297.86h1V295.37h1V297.86h1V297.45h1V297.08h1V293.81h1V297.08h1V298.65h1V293.55h1V298.65h1V297.77h1V298.86h1V299.6h1V299.21h1V298.18h1V298.99h1V297.63h1V296.18h1V298.26h1V299.5h1V298.65h1V299.48h1V299.19h1V298.03h1V295.44h1V292.69h1V298.44h1V299.14h1V299.4h1V298.28h1V296.21h1V298.28h1V299.82h1V298.39h1V296.42h1V292.3h1V298.34h1V293.91h1V297.64h1V290.97h1V292.26h1V296.47h1V298.41h1V299.1h1V297.86h1V299.1h1V296.44h1V299.13h1V298.91h1V299.63h1V300.05h1V300.11h1V299.57h1V298.06h1V291.2h1V298.06h1V292.27h1V298.33h1V299.19h1V299.33h1V298.72h1V299.43h1V298.69h1V293.7h1V295.09h1V295.01h1V297.68h1V298.82h1V297.3h1V298.82h1V298.9h1V298.71h1V299.53h1V298.92h1V297.49h1V298.92h1V298.9h1V294.56h1V298.56h1V296.77h1V298.56h1V299.56h1V298.77h1V298.32h1V297.65h1V298.23h1V298.05h1V291.16h1V298.05h1V299.17h1V299.48h1V298.61h1V299.32h1V299.83h1V298.61h1V296.87h1V298.61h1V300.11h1V297.99h1V295.63h1V297.99h1V291.36h1V290.67h1V297.93h1V299.52h1V298.66h1V296.97h1V298.66h1V298.01h1V291.01h1V297.63h1V294.91h1V293.2h1V291.91h1V295.16h1V297.75h1V298.46h1V297.74h1V298.86h1V299.61h1V299.21h1V296.53h1V292.7h1V290.68h1V297.93h1V297.45h1V298.86h1V299.43h1V299.24h1V295.9h1V297.96h1V290.77h1V297.96h1V300.23h1V299.94h1V299.53h1V299.49h1V299.58h1V298.58h1V293.28h1V298.58h1V300.01h1V299.67h1V299.81h1V299.78h1V299.86h1V299.55h1V299.74h1V299.13h1V298.76h1V295.9h1V285.72h1V296.69h1V298.37h1V292.42h1V298.37h1V297.86h1V299.1h1V298.75h1V298.16h1V295.97h1V291.82h1V297.35h1V298.85h1V299.91h1V299.82h1V297.89h1V295.43h1V296.01h1V290.51h1V297.25h1V298.58h1V293.29h1V291.19h1V298.06h1V299.71h1V299.86h1V299.74h1V299.14h1V299.74h1V297.32h1V288.21h1V297.32h1V296.32h1V298.5h1V298.23h1V296.12h1V298.04h1V291.11h1V296.22h1V283.81h1V296.22h1V298.28h1V292.07h1V298.28h1V295.78h1V296.81h1V293.27h1V290.62h1V303.85ZM799.2 342.05V325.05h1V325.05h1V336.73h1V337.83h1V336.3h1V334.04h1V336.3h1V335.18h1V325.05h1V335.95h1V333.35h1V335.95h1V336.85h1V336.12h1V337.33h1V336.96h1V334.96h1V329.58h1V336.31h1V330.15h1V336.45h1V336.32h1V334.1h1V336.32h1V337.75h1V336.57h1V334.59h1V336.57h1V331.54h1V335.37h1V336.96h1V335.46h1V326.2h1V335.46h1V337.04h1V335.52h1V337.04h1V337.56h1V336.11h1V328.79h1V336.11h1V333.76h1V336.16h1V337.23h1V333.28h1V326.41h1V335.03h1V336.79h1V336.78h1V331.48h1V336.78h1V335.73h1V327.25h1V335.73h1V337.64h1V337.01h1V335.46h1V336.5h1V337.53h1V337.84h1V337.42h1V337.98h1V337.13h1V335.71h1V337.13h1V336.44h1V330.1h1V336.44h1V332.73h1V337.09h1V337.91h1V334.44h1V322.13h1V334.44h1V332.96h1V337.15h1V337.12h1V336.3h1V329.54h1V336.3h1V338.02h1V337.19h1V333.1h1V330.94h1V336.65h1V337.95h1V337.58h1V338.06h1V338.1h1V338.1h1V338.15h1V337.55h1V336.16h1V328.99h1V331.68h1V336.83h1V336.34h1V329.73h1V335.31h1V336.32h1V329.61h1V336.32h1V336.81h1V334.67h1V330.79h1V334.67h1V336.88h1V337.51h1V337.15h1V335.76h1V336.76h1V336.95h1V332.17h1V333.3h1V333.39h1V329.86h1V336.15h1V337.35h1V336.29h1V334.03h1V335.02h1V329.69h1V334.81h1V323.57h1V334.81h1V337.39h1V336.23h1V336.79h1V337.54h1V336.53h1V337.54h1V334.76h1V329.27h1V336.23h1V336.18h1V337.36h1V335.76h1V332.96h1V333.89h1V336.22h1V334.32h1V321.62h1V334.32h1V331.16h1V336.24h1V331.94h1V336.9h1V337.79h1V336.89h1V335.23h1V327.76h1V335.71h1V336.79h1V335.03h1V332.8h1V333.43h1V333.4h1V337.14h1V332.9h1V334.38h1V336.14h1V337.16h1V335.77h1V336.12h1V328.84h1V336.12h1V334.44h1V330.72h1V336.59h1V337.01h1V335.47h1V336.79h1V337.42h1V336.28h1V337.21h1V336.44h1V336.83h1V331.66h1V335.48h1V337.02h1V337.24h1V337.63h1V336.8h1V337.25h1V333.37h1V337.25h1V333.95h1V329.34h1V333.95h1V330.96h1V333.77h1V335.4h1V329.81h1V336.36h1V336.87h1V335.18h1V325.97h1V335.22h1V325.22h1V335.22h1V337.68h1V336.81h1V337.5h1V336.45h1V336.1h1V328.77h1V336.1h1V337.76h1V337.72h1V338.14h1V337.52h1V335.63h1V326.86h1V335.63h1V327.33h1V334.76h1V336.65h1V332.57h1V329.92h1V336.39h1V334.41h1V336.62h1V336.39h1V337.12h1V335.7h1V337.12h1V338.33h1V337.6h1V336.63h1V330.89h1V329.6h1V335.14h1V336.6h1V334.65h1V336.6h1V331.49h1V336.79h1V337.8h1V336.92h1V335.3h1V331.7h1V336.11h1V328.81h1V336.11h1V331.34h1V336.75h1V336.92h1V337.29h1V337.9h1V336.53h1V330.47h1V336.53h1V337.45h1V336.36h1V330.01h1V336.42h1V332.33h1V336.9h1V336.22h1V329.25h1V334.36h1V333.62h1V336.48h1V334.41h1V333.96h1V332.33h1V329.79h1V336.36h1V336.58h1V330.65h1V331.94h1V335.92h1V328.03h1V335.92h1V331.54h1V336.8h1V336.71h1V337.63h1V336.99h1V332.32h1V332.05h1V335.3h1V336.04h1V337.3h1V335.74h1V327.32h1V335.74h1V338.22h1V336.32h1V334.09h1V335.8h1V337.17h1V337.77h1V336.82h1V331.65h1V336.82h1V335.95h1V333.35h1V335.95h1V336.87h1V337.22h1V333.23h1V337.22h1V337.88h1V336.85h1V335.15h1V336.85h1V336.64h1V330.91h1V342.05ZM799.2 380.35V369.3h1V372.12h1V374.48h1V376.29h1V374.94h1V373.03h1V374.94h1V372.63h1V359.99h1V370.52h1V375.27h1V376.09h1V375.33h1V376.09h1V375.4h1V371.06h1V373.01h1V369.16h1V373.01h1V374.48h1V375.66h1V376.33h1V376.4h1V374.85h1V372.84h1V368.45h1V367.65h1V363.51h1V368.14h1V372.49h1V371.8h1V374.87h1V375.22h1V373.58h1V370.21h1V371.77h1V374.86h1V375.85h1V375.8h1V374.41h1V371.97h1V374.41h1V376.17h1V375.49h1V374.62h1V374.62h1V370.19h1V374.62h1V376h1V375.19h1V374.1h1V371.35h1V367.36h1V374.48h1V372.79h1V372.39h1V374.62h1V368.52h1V369.72h1V375.07h1V373.72h1V374.78h1V375.82h1V375.72h1V374.59h1V374.86h1V368.9h1V372.88h1V368.91h1V372.88h1V367.42h1V374.49h1V376.14h1V375.73h1V375.9h1V374.95h1V375.9h1V373.23h1V375.64h1V374.41h1V367.09h1V369.09h1V374.91h1V374.1h1V372.61h1V368.01h1V374.64h1V374.5h1V374.74h1V375.74h1V376.22h1V375.59h1V375.85h1V374.85h1V375.13h1V375.99h1V375.86h1V376.35h1V376.1h1V376.33h1V375.35h1V370.84h1V366.98h1V374.38h1V376.19h1V376.23h1V376.54h1V375.98h1V375.1h1V374.77h1V375.81h1V374.78h1V372.7h1V374h1V367.99h1V374.63h1V375.82h1V375.54h1V371.59h1V372.83h1V374.84h1V373.81h1V370.77h1V373.81h1V375.22h1V373.18h1V375.22h1V376.51h1V374.29h1V371.73h1V374.29h1V375.24h1V373.62h1V367.49h1V374.51h1V375.95h1V375.66h1V374.48h1V372.04h1V367.24h1V372.04h1V374.34h1V372.62h1V368.39h1V372.62h1V374.91h1V375.88h1V375.63h1V374.42h1V374.74h1V374.22h1V372.25h1V369.93h1V366.89h1V374.36h1V375.7h1V374.55h1V375.17h1V375.78h1V374.7h1V375.61h1V375.83h1V375.85h1V374.86h1V374.6h1V375.13h1V373.41h1V374.59h1V375.09h1V369.81h1V367.56h1V374.53h1V374.92h1V374.75h1V375.28h1V373.7h1V375.28h1V375.77h1V373.89h1V370.94h1V371.23h1V374.04h1V376.13h1V375.61h1V376.23h1V376.16h1V372.61h1V368.36h1V372.61h1V375.52h1V374.19h1V375.52h1V375.51h1V374.18h1V375.51h1V374.37h1V366.92h1V374.37h1V375.31h1V374.68h1V375.77h1V375.42h1V373.98h1V375.39h1V371.03h1V363.06h1V373.4h1V374.83h1V374.61h1V367.87h1V374.61h1V374.4h1V367.05h1V374.4h1V373.28h1V369.3h1V374.6h1V367.86h1V374.6h1V371.61h1V375.54h1V376.29h1V376.15h1V375.03h1V369.58h1V373.04h1V367.33h1V370.69h1V371.06h1V373.7h1V374.75h1V375.53h1V375.25h1V376.05h1V376h1V375.14h1V376h1V376.08h1V376.19h1V376.52h1V375.18h1V370.19h1V375.18h1V375.15h1V376h1V375.3h1V373.74h1V375.3h1V374.59h1V370.79h1V374.59h1V376.31h1V376.31h1V375.77h1V374.93h1V374.45h1V367.26h1V374.45h1V369.75h1V372.71h1V375.11h1V373.83h1V370.8h1V373.83h1V375.52h1V374.3h1V374.29h1V374.66h1V368.07h1V367.79h1V374.59h1V374.83h1V371.18h1V375.01h1V372.46h1V375.75h1V375.94h1V375.88h1V372.98h1V375.88h1V376.58h1V375.29h1V373.72h1V375.29h1V375.79h1V374.73h1V368.67h1V373.29h1V374.01h1V375.43h1V376.13h1V376.49h1V376.57h1V374.1h1V371.34h1V370.98h1V375.38h1V374.51h1V367.5h1V374.51h1V375.49h1V373.77h1V370.69h1V372.53h1V374.69h1V374.9h1V374.18h1V366.18h1V374.18h1V376.45h1V375.86h1V374.86h1V380.35ZM799.2 418.95V412.11h1V413.78h1V413.71h1V413.01h1V413.98h1V414.3h1V410.85h1V413.37h1V411.3h1V413.34h1V411.23h1V412.11h1V413.78h1V412.22h1V410.52h1V407.77h1V413.53h1V412.85h1V413.38h1V413.5h1V411.55h1V413.5h1V407.67h1V413.1h1V406.05h1V405.93h1V409.41h1V412.43h1V411.27h1V413.36h1V413.62h1V414.54h1V415.22h1V415.27h1V415.09h1V414.68h1V413.9h1V412.12h1V402.11h1V412.12h1V413.8h1V408.84h1V413.21h1V406.48h1V413.21h1V411.42h1V412.8h1V414.13h1V414.9h1V414.35h1V410.69h1V405.93h1V407.58h1V412.96h1V405.48h1V412.96h1V409.77h1V414.03h1V413.16h1V412.34h1V403.01h1V412.34h1V414.73h1V413.6h1V408.06h1V413.6h1V413.57h1V414.51h1V413.64h1V413.4h1V414.22h1V412.98h1V411.95h1V410.76h1V410.04h1V412.75h1V414.22h1V413h1V412.01h1V410.84h1V408.25h1V413.65h1V413.05h1V409.81h1V406.43h1V413.19h1V413.91h1V412.37h1V410.43h1V412.94h1V413.29h1V413.13h1V406.16h1V413.13h1V414.62h1V414.67h1V413.88h1V411.53h1V399.75h1V411.53h1V414.56h1V411.88h1V414.41h1V413.37h1V414.41h1V413.6h1V414.53h1V414.42h1V413.38h1V414.42h1V414.18h1V411.42h1V399.33h1V411.42h1V414.86h1V414.27h1V413.98h1V410.65h1V412.29h1V413.35h1V414.4h1V414.19h1V414.57h1V413.69h1V414.51h1V414.98h1V412.48h1V403.57h1V412.48h1V411.79h1V413.62h1V414.95h1V414.44h1V414.42h1V413.38h1V412.25h1V413.85h1V413.16h1V406.29h1V413.16h1V414.98h1V414.51h1V412.99h1V405.63h1V412.99h1V414.94h1V414.44h1V414.72h1V413.98h1V413.81h1V412.18h1V409.62h1V412.9h1V414.18h1V413.9h1V409.24h1V412.54h1V414h1V414.24h1V414.57h1V413.68h1V400.95h1V400.95h1V400.95h1V400.95h1V400.95h1V414.77h1V414.2h1V414.25h1V413.68h1V414.2h1V414.68h1V413.92h1V414.68h1V411.84h1V408.24h1V411.84h1V413.12h1V410.79h1V413.12h1V406.17h1V412.78h1V414.12h1V414.98h1V415.02h1V413.74h1V412.03h1V406.52h1V413.22h1V411.95h1V409.86h1V413.75h1V414.69h1V413.92h1V414.69h1V413.26h1V406.7h1V413.26h1V412.93h1V414.02h1V412.59h1V414.02h1V412.86h1V411.77h1V400.74h1V411.77h1V413.75h1V408.66h1V413.43h1V407.37h1V413.43h1V414.34h1V414.42h1V413.38h1V414.42h1V414.55h1V413.24h1V411.03h1V413.24h1V414.98h1V413.62h1V408.11h1V413.62h1V414.45h1V413.44h1V408.16h1V413.63h1V414.17h1V412.89h1V412.82h1V407.38h1V413.43h1V413.56h1V411.68h1V413.56h1V412.27h1V409.09h1V412.27h1V414.29h1V412.81h1V410.17h1V412.81h1V415.05h1V414.97h1V414.15h1V412.85h1V411.57h1V413.51h1V412.16h1V408.87h1V412.16h1V414.41h1V413.36h1V413.75h1V412.05h1V413.75h1V415.04h1V413.87h1V412.3h1V413.87h1V414.67h1V413.88h1V413.96h1V412.78h1V413.5h1V413.66h1V413.33h1V406.95h1V413.33h1V411.13h1V406.3h1V413.16h1V412.51h1V413.98h1V413.25h1V413.54h1V413.38h1V413.42h1V413.4h1V411.34h1V413.4h1V413.46h1V411.48h1V413.21h1V413.57h1V414.09h1V414.77h1V414.34h1V412.83h1V404.96h1V412.83h1V414.48h1V413.5h1V407.99h1V413h1V405.63h1V413h1V413.79h1V413.47h1V414.38h1V413.31h1V413.65h1V411.85h1V411.53h1V403.74h1V410.41h1V407.97h1V413.58h1V413.17h1V406.33h1V413.17h1V411.36h1V409.27h1V412.33h1V412.89h1V411.1h1V413.87h1V414.66h1V413.31h1V406.91h1V413.31h1V413.3h1V414.38h1V415h1V414.76h1V414.76h1V413.16h1V406.27h1V413.16h1V413.07h1V405.94h1V413.07h1V414.54h1V413.91h1V412.38h1V411.98h1V409.2h1V412.76h1V408.48h1V413.71h1V414.85h1V413.91h1V412.36h1V413.42h1V407.34h1V413.42h1V413.59h1V411.72h1V413.59h1V414.51h1V414.38h1V411.18h1V408.4h1V413.69h1V412.2h1V406.28h1V411.47h1V412.81h1V408.83h1V413.58h1V412.09h1V411.1h1V413.28h1V413.4h1V407.25h1V413.4h1V408.56h1V413.11h1V410.77h1V413.11h1V413.7h1V408.46h1V413.7h1V414.69h1V414.82h1V413.63h1V411.72h1V400.54h1V411.72h1V414.56h1V414.5h1V411.65h1V412.89h1V414.17h1V414.62h1V414.9h1V415.17h1V412.77h1V418.95ZM799.2 456.05V447.89h1V450.22h1V448.81h1V450.68h1V451.27h1V451.7h1V450.99h1V449.43h1V449.15h1V450.33h1V443.67h1V447.77h1V450.16h1V450.75h1V448.96h1V449.59h1V440.71h1V449.59h1V450.98h1V449.41h1V445.46h1V450.78h1V451.83h1V451.1h1V449.86h1V447.16h1V448.52h1V450.53h1V451.75h1V452.1h1V449.03h1V445.51h1V449.03h1V445.68h1V450.83h1V450.26h1V447.98h1V450.26h1V450.97h1V450.84h1V451.69h1V451.9h1V452.22h1V452.27h1V452.02h1V451.74h1V451.43h1V451.29h1V450.03h1V451.29h1V452.01h1V452.4h1V450.45h1V444.14h1V450.45h1V450.78h1V445.48h1V450.78h1V451.86h1V452.2h1V450.55h1V446.38h1V450.55h1V450.26h1V447.65h1V451.32h1V451.1h1V450.9h1V449.25h1V448.68h1V451.58h1V451.21h1V447.18h1V451.21h1V450.55h1V451.55h1V450.56h1V448.58h1V450.56h1V451.56h1V447.65h1V442.75h1V447.65h1V449.32h1V439.64h1V449.32h1V450.6h1V444.77h1V450.6h1V445.98h1V450.86h1V450.85h1V445.75h1V448.67h1V450.61h1V451.47h1V450.38h1V451.47h1V450.71h1V451.34h1V447.72h1V449.24h1V450.89h1V451.8h1V451.98h1V451.41h1V450.52h1V448.5h1V449.61h1V447.03h1V450.27h1V443.42h1V450.27h1V451.6h1V452.07h1V451.34h1V450.13h1V451.34h1V450.25h1V447.95h1V444.83h1V448.69h1V448.97h1V448.78h1V450.67h1V447.39h1V443.15h1V443.51h1V448.03h1V450.81h1V447.48h1V451.28h1V450.94h1V451.41h1V450.27h1V450.29h1V451.32h1V450.09h1V451.32h1V451.54h1V450.52h1V451.54h1V451.42h1V451.44h1V450.33h1V450.35h1V450.01h1V442.93h1V450.01h1V445.24h1V450.72h1V451.93h1V451.78h1V448.65h1V436.94h1V448.65h1V451.11h1V450.77h1V451.21h1V451.35h1V450.03h1V447.51h1V450.03h1V450.4h1V448.25h1V450.4h1V452.13h1V451.71h1V450.84h1V449.12h1V450.51h1V450.93h1V451.74h1V451.23h1V450.78h1V449h1V448.5h1V436.36h1V448.5h1V452.08h1V451.87h1V451.19h1V451.82h1V451.05h1V446.54h1V451.05h1V449.87h1V447.19h1V449.87h1V445.98h1V445.95h1V450.9h1V451.4h1V450.26h1V447.67h1V451.09h1V450.71h1V448.87h1V450.71h1V451.59h1V450.63h1V451.59h1V450.82h1V445.64h1V450.73h1V451.51h1V450.75h1V445.35h1V450.75h1V451.66h1V451.06h1V449.57h1V451.06h1V451.93h1V450.75h1V448.94h1V443.78h1V450.36h1V450.26h1V443.41h1V449.87h1V447.18h1V449.87h1V451.82h1V451.99h1V452.01h1V452.19h1V451.3h1V450.05h1V450.54h1V448.52h1V450.54h1V446.6h1V450.34h1V448.12h1V449.84h1V451.19h1V452.23h1V450.64h1V444.91h1V450.23h1V451.18h1V447.06h1V448.23h1V450.39h1V449.29h1V450.92h1V446.63h1V448.77h1V442.17h1V447.19h1V451.21h1V451.9h1V451.94h1V452.25h1V452.37h1V452.2h1V452.24h1V451.42h1V449.81h1V447.07h1V449.81h1V449.84h1V444.19h1V449.84h1V452.04h1V451.52h1V448.41h1V446.47h1V443h1V450.16h1V450.85h1V445.76h1V450.47h1V450.56h1V450.43h1V444.07h1V450.13h1V442.86h1V450.13h1V451h1V446.59h1V451h1V451.8h1V450.68h1V448.81h1V450.5h1V444.36h1V450.5h1V451.07h1V448.01h1V448.86h1V450.71h1V451.25h1V450.8h1V451.6h1V450.65h1V451.6h1V451.85h1V451.43h1V451.99h1V448.87h1V444.88h1V448.87h1V448.77h1V444.98h1V448.77h1V443.19h1V450.21h1V452.01h1V451.47h1V451.48h1V449.61h1V446.66h1V444.26h1V450.48h1V451.29h1V450.04h1V451.29h1V450.98h1V451.77h1V450.31h1V443.58h1V450.16h1V446.3h1V444.42h1V440.62h1V443.41h1V441.84h1V449.87h1V446.74h1V445.79h1V449.8h1V451.17h1V448.99h1V440.6h1V449.56h1V451.32h1V450.09h1V451.24h1V449.99h1V451.27h1V452.32h1V451.75h1V450.94h1V446.12h1V448.86h1V450.71h1V450.23h1V447.91h1V447.33h1V450.69h1V448.9h1V437.95h1V448.9h1V451.75h1V450.22h1V443.24h1V450.22h1V450.91h1V449.26h1V448.89h1V450.66h1V451.6h1V451.35h1V447.74h1V451.35h1V449.32h1V439.64h1V456.05Z" fill="#0b5fad"/>
<path d="M799.7 38.3H1378.2V42.2H799.7ZM799.7 76.45H1279.6V80.35H799.7ZM799.7 114.75H1286V118.65H799.7ZM799.7 152.85H1273.6V156.75H799.7ZM799.7 191.15H1199.4V195.05H799.7ZM799.7 229.75H1216.7V233.65H799.7ZM799.7 268.05H1196.2V271.95H799.7ZM799.7 306.25H1179V310.15H799.7ZM799.7 344.45H1107.8V348.35H799.7ZM799.7 382.75H1110.2V386.65H799.7ZM799.7 421.35H1186.4V425.25H799.7ZM799.7 458.45H1167.6V462.35H799.7Z" fill="#cdcdcd" stroke="#000" stroke-width="1.05"/>
<rect x="1207.3" y="344.2" width="23.6" height="23.5" fill="#0560ad"/>
<text x="1249.4" y="335.8" font-size="20.3">Chromosomal</text>
<text x="1249.4" y="360.7" font-size="20.3">distribution</text>
<text x="1249.4" y="385.7" font-size="20.3">of eccDNAs</text>
</g>
<g id="pc" fill="none">
<path d="M1709.9 28.7A257.3 257.3 0 0 1 1866.75 82.04" stroke="#00c9c0" stroke-width="15.8"/>
<path d="M1877.21 90.53A257.3 257.3 0 0 1 1954.27 205.46" stroke="#b0f68c" stroke-width="15.8"/>
<path d="M1958.15 218.35A257.3 257.3 0 0 1 1956.77 358.5" stroke="#a781e6" stroke-width="15.8"/>
<path d="M1952.64 371.33A257.3 257.3 0 0 1 1874.65 483.64" stroke="#e830b8" stroke-width="15.8"/>
<path d="M1864.08 491.99A257.3 257.3 0 0 1 1758.15 538.74" stroke="#3b7ea3" stroke-width="15.8"/>
<path d="M1744.86 540.91A257.3 257.3 0 0 1 1624.79 528.81" stroke="#ffbdc8" stroke-width="15.8"/>
<path d="M1612.19 524.03A257.3 257.3 0 0 1 1518.4 457.85" stroke="#e0a80a" stroke-width="15.8"/>
<path d="M1509.67 447.59A257.3 257.3 0 0 1 1460.48 349.18" stroke="#a88a35" stroke-width="15.8"/>
<path d="M1457.51 336.03A257.3 257.3 0 0 1 1455.6 246.8" stroke="#f0c8ff" stroke-width="15.8"/>
<path d="M1458 233.54A257.3 257.3 0 0 1 1491.48 150" stroke="#d61f35" stroke-width="15.8"/>
<path d="M1498.9 138.76A257.3 257.3 0 0 1 1581.64 62.95" stroke="#4adfb5" stroke-width="15.8"/>
<path d="M1593.49 56.54A257.3 257.3 0 0 1 1696.43 29.05" stroke="#0d1a6b" stroke-width="15.8"/>
<g stroke-width="21.6">
<path d="M1709.9 64A222 222 0 0 1 1845.23 110.02M1854.26 117.35A222 222 0 0 1 1920.74 216.51M1924.09 227.64A222 222 0 0 1 1922.9 348.56M1919.34 359.62A222 222 0 0 1 1852.05 456.52M1842.93 463.73A222 222 0 0 1 1751.53 504.06M1740.06 505.94A222 222 0 0 1 1636.46 495.5M1625.6 491.37A222 222 0 0 1 1544.67 434.27M1537.14 425.42A222 222 0 0 1 1494.7 340.51M1492.14 329.17A222 222 0 0 1 1490.49 252.18M1492.56 240.74A222 222 0 0 1 1521.45 168.66M1527.85 158.96A222 222 0 0 1 1599.24 93.55M1609.46 88.02A222 222 0 0 1 1698.28 64.3" stroke="#e9f0f8"/>
<path d="M1709.9 64A222 222 0 0 1 1845.23 110.02" stroke="#a9c6e2" stroke-opacity="0.08" stroke-dasharray="3.99 4.4 6.58 3.43 4.29 4.73 2.52 3.89 4.96 8.17 2.02 2.11 2 8.59 5.31 0.51 6.9 17.03 5.1 5.08 2.37 0.38 4.41 0.61 2.55 1.68 1.67 3.42 3.92 9.54 4.36 5.41 4.25 5.73" stroke-dashoffset="1.37"/>
<path d="M1854.26 117.35A222 222 0 0 1 1920.74 216.51" stroke="#a9c6e2" stroke-opacity="0.08" stroke-dasharray="3.03 30.58 6.98 9.47 5.39 2.19 2.76 2.01 1.89 7.57 3.7 9.67 3.63 16.16 6.16 0.3 2.65 12.35" stroke-dashoffset="1.41"/>
<path d="M1924.09 227.64A222 222 0 0 1 1922.9 348.56" stroke="#a9c6e2" stroke-opacity="0.08" stroke-dasharray="6.89 2.83 1.9 5.26 5.78 1.87 1.98 2.32 6.8 7.39 2.15 1.71 2.06 0.61 5.88 1.28 4.58 3.27 2.55 6.88 2.22 5.46 2.14 3.03 2.67 1.87 6.84 8.43 3.17 11.11 2.66 2.81" stroke-dashoffset="2.56"/>
<path d="M1919.34 359.62A222 222 0 0 1 1852.05 456.52" stroke="#a9c6e2" stroke-opacity="0.08" stroke-dasharray="5.03 0.83 6.94 1.5 2.92 7.71 3.31 2.06 1.9 0.77 4.71 1.69 4.81 2.62 3.99 16.29 4.16 4.57 6.27 1.31 2.35 12.25 6 1.74 2.54 7.02 6.67 1.39" stroke-dashoffset="2.85"/>
<path d="M1842.93 463.73A222 222 0 0 1 1751.53 504.06" stroke="#a9c6e2" stroke-opacity="0.08" stroke-dasharray="6.35 4.93 3.82 0.85 1.71 16.74 2.81 6.4 2.91 8.98 4.78 2.04 2.46 6.67 1.88 1.6 4.58 9.87 4.88 1.94 6.55 1.44" stroke-dashoffset="0.05"/>
<path d="M1740.06 505.94A222 222 0 0 1 1636.46 495.5" stroke="#a9c6e2" stroke-opacity="0.08" stroke-dasharray="2.98 3.25 1.83 1.27 3.53 4.55 2.22 2.55 6.4 19.99 5.11 6.18 4.71 1.06 1.69 0.39 6.51 6.34 6.8 0.41 5 3.59 5.52 2.22 7 0.69" stroke-dashoffset="1.64"/>
<path d="M1625.6 491.37A222 222 0 0 1 1544.67 434.27" stroke="#a9c6e2" stroke-opacity="0.08" stroke-dasharray="5.55 11.82 5.55 6.38 5.86 12.63 3.44 6.08 6.45 10.54 3.79 8.12 6.25 4.55 4.94 2.71" stroke-dashoffset="1.75"/>
<path d="M1537.14 425.42A222 222 0 0 1 1494.7 340.51" stroke="#a9c6e2" stroke-opacity="0.08" stroke-dasharray="4.85 0.72 5.02 25.34 6.34 6.81 3.64 6.94 4.7 3.2 6.11 0.74 5.63 0.45 4.81 3.58 2.77 6.29" stroke-dashoffset="1.49"/>
<path d="M1492.14 329.17A222 222 0 0 1 1490.49 252.18" stroke="#a9c6e2" stroke-opacity="0.08" stroke-dasharray="4.88 12.96 2.91 0.36 3.16 5.97 2.61 1.23 6.48 5.69 3.93 11.42 3.3 5.78 2.59 3.12 5.93 12.58" stroke-dashoffset="2.64"/>
<path d="M1492.56 240.74A222 222 0 0 1 1521.45 168.66" stroke="#a9c6e2" stroke-opacity="0.08" stroke-dasharray="3.61 4.67 3.24 1.03 4.23 9.37 6.17 6.51 6.73 1.92 2.43 3.3 3.01 1.5 3.78 5.21 4.22 2.19 6.12 20.4" stroke-dashoffset="1.36"/>
<path d="M1527.85 158.96A222 222 0 0 1 1599.24 93.55" stroke="#a9c6e2" stroke-opacity="0.08" stroke-dasharray="1.91 0.46 6.3 0.51 5.4 4.53 3.2 8.14 1.61 1.03 4 0.43 6.06 1.66 2.27 0.54 4.96 3.26 4.96 5.62 5.94 16.21 5.26 1.41 4.11 1.28" stroke-dashoffset="0.03"/>
<path d="M1609.46 88.02A222 222 0 0 1 1698.28 64.3" stroke="#a9c6e2" stroke-opacity="0.08" stroke-dasharray="4.1 6.56 2.49 1.89 3.4 6.28 4.36 5.07 5.66 2.8 5.86 12.13 1.98 13.79 5.47 1 3.99 5.21 6.5 2.66" stroke-dashoffset="1.71"/>
<path d="M1709.9 64A222 222 0 0 1 1845.23 110.02" stroke="#a9c6e2" stroke-opacity="0.24" stroke-dasharray="1.09 3.01 1.15 1.36 0.87 0.69 0.94 3.2 0.86 2.45 0.45 4.21 1.18 6.74 0.76 2.96 0.55 4.39 1.06 1.03 0.33 1.29 0.77 2.79 0.71 0.35 1.02 0.41 1.01 0.62 0.57 2.94 0.38 0.57 0.74 2.49 1.05 2.29 1.15 1.45 1.15 0.45 0.46 1.57 0.53 2.52 0.86 1.56 1.05 1.7 0.55 1.12 1.05 4.22 0.45 3.53 1.17 1.56 0.79 0.68 0.76 1.49 0.82 0.35 1.17 1.53 0.63 3.05 0.78 1.45 0.91 0.42 0.76 1.21 1.16 4.67 0.51 1.39 0.37 1.27 1.02 4.22 0.7 0.95 0.43 1.94 1.13 0.54 0.99 0.34 0.43 0.74 0.9 0.96 0.59 1.94 0.35 2.53 0.37 1.51 0.49 0.67 0.75 1.28 0.61 1.21 0.75 0.6 0.44 2 0.86 1.58" stroke-dashoffset="2.55"/>
<path d="M1854.26 117.35A222 222 0 0 1 1920.74 216.51" stroke="#a9c6e2" stroke-opacity="0.24" stroke-dasharray="0.83 3.6 0.47 2.6 1.02 4.26 0.55 0.94 1.13 0.72 1.2 4.01 0.38 0.77 0.94 0.81 0.34 3.33 0.65 2.95 0.37 1.18 0.9 0.33 0.44 2.25 1.12 6.17 0.36 1.5 0.97 1.49 0.9 0.66 0.32 0.49 0.29 1.66 0.74 1.73 0.39 0.65 0.44 3.42 1.19 4.75 0.34 0.41 1.15 1.35 0.98 0.97 0.69 1.53 0.66 1.86 0.26 2.35 1.05 0.64 0.68 2.59 0.64 0.67 0.41 1.52 0.26 4.1 1.01 2.37 1.07 1.99 0.63 1.86 0.73 7.2 1.01 0.81 1.12 2.62 0.99 3.17 0.64 4.16" stroke-dashoffset="2.64"/>
<path d="M1924.09 227.64A222 222 0 0 1 1922.9 348.56" stroke="#a9c6e2" stroke-opacity="0.24" stroke-dasharray="0.91 2.78 0.98 1.18 0.94 0.42 0.57 1.38 0.26 1.05 0.86 1.96 0.47 5.22 0.88 1 0.88 1.73 0.76 1.14 1.2 2.05 0.92 2.74 1.18 0.34 0.83 2.58 0.49 1.17 0.3 0.67 0.61 0.48 0.49 4.31 0.77 1.51 1.17 1.73 1.2 2.03 1.02 0.43 0.82 2.72 0.29 4.82 0.4 1.38 0.41 1.46 0.83 0.4 1.15 1.23 0.75 1.85 0.6 0.87 0.87 1.7 0.52 2.44 0.53 0.32 0.48 0.37 0.4 2.69 0.62 4.17 0.96 0.39 1.19 5.21 0.32 4.31 0.66 1.4 1.17 0.77 0.75 5.01 0.94 1.37 1.18 3.18 0.82 0.51 0.84 1.33" stroke-dashoffset="0.61"/>
<path d="M1919.34 359.62A222 222 0 0 1 1852.05 456.52" stroke="#a9c6e2" stroke-opacity="0.24" stroke-dasharray="0.3 1.58 0.37 1.29 0.88 1.33 0.5 1.78 0.65 2.86 0.75 10.58 1.16 2.55 0.48 0.51 1.1 2.91 0.84 1.06 0.51 2.26 0.79 1.82 0.85 2.68 0.43 0.79 1.18 4.51 1.08 0.37 0.31 0.84 0.65 1.96 0.35 1.63 0.32 0.45 0.89 1.66 0.85 1.09 0.7 0.7 0.58 2.62 1.05 0.43 0.36 3.12 0.84 2.79 0.45 1.24 0.5 3.12 0.6 2.1 1.19 0.97 0.77 2.63 1.12 1.25 0.6 0.47 1.08 0.44 0.33 1.71 0.71 2.27 0.53 2.84 0.32 0.71 0.88 0.44 0.54 2.49 0.91 0.87 0.39 1.05 0.94 1.08 0.36 2.4 0.79 4.56" stroke-dashoffset="2.82"/>
<path d="M1842.93 463.73A222 222 0 0 1 1751.53 504.06" stroke="#a9c6e2" stroke-opacity="0.24" stroke-dasharray="1.12 1.28 1.01 0.92 0.55 1.17 1.14 4.13 0.49 1.06 0.6 1.07 0.63 1.13 0.44 1.71 1.01 1.62 1.04 1.71 0.42 2.72 1.09 0.86 0.27 1.53 0.77 1.72 1.17 2.09 1.01 0.41 0.77 2.94 0.33 0.44 0.95 4.2 0.33 2.01 0.39 2.63 0.87 0.78 0.46 2.76 0.75 2.76 0.62 1 1.17 2.2 0.72 1.61 0.93 2.39 1.12 1.2 1.03 2.17 1.06 3.09 1.04 4.03 1.16 2.04 0.75 2.4 1.01 1.23 0.65 0.57 0.95 8.31" stroke-dashoffset="1.13"/>
<path d="M1740.06 505.94A222 222 0 0 1 1636.46 495.5" stroke="#a9c6e2" stroke-opacity="0.24" stroke-dasharray="0.41 0.69 0.65 0.89 1.17 0.4 0.54 0.51 0.87 2.84 0.42 0.41 0.69 1.79 1.11 0.36 0.35 0.65 0.46 0.76 0.93 1.84 0.46 0.65 0.52 0.62 0.97 0.94 0.77 3.19 0.71 0.81 1.09 4.48 0.57 1.65 1.16 1.42 0.46 0.39 1.15 3.05 0.62 1.57 0.74 0.85 1.19 2.12 0.48 0.32 0.7 1.09 1.01 2.42 0.83 0.59 0.4 0.96 0.5 3.76 0.74 2.02 1.19 0.83 0.76 0.58 0.98 0.3 1.03 3.48 1.03 0.45 0.51 2.44 0.34 1.41 0.7 5.59 0.81 3.61 0.54 2.95 0.65 4.53 0.34 3.28 0.45 1.63" stroke-dashoffset="1.58"/>
<path d="M1625.6 491.37A222 222 0 0 1 1544.67 434.27" stroke="#a9c6e2" stroke-opacity="0.24" stroke-dasharray="0.4 3.33 0.55 0.93 0.32 0.92 0.69 2.43 0.59 2.28 0.35 1.15 0.69 6.09 1.04 2.1 0.26 1.1 0.92 0.76 0.79 1.34 0.26 8.43 1.01 0.69 0.84 0.88 0.61 1.62 0.53 1 0.62 2.17 0.49 0.68 0.94 0.98 1.15 1.71 0.94 0.99 1.04 0.46 0.38 0.47 0.89 2.39 0.42 1.17 1.05 1.83 0.34 0.74 0.4 0.53 0.64 0.43 1.12 1.25 0.74 2.07 0.98 3.23 0.62 0.98 0.64 0.33 0.63 2.35 1.18 2.95 0.88 1.89 0.27 0.98 0.58 2.09 0.35 1.11 0.73 2.94 1.03 1.91" stroke-dashoffset="0.48"/>
<path d="M1537.14 425.42A222 222 0 0 1 1494.7 340.51" stroke="#a9c6e2" stroke-opacity="0.24" stroke-dasharray="0.98 4.27 0.77 1.04 0.73 0.56 0.93 7.65 0.74 2.44 1.04 0.67 1.15 1.98 0.44 0.45 0.48 1.76 0.91 0.98 1.13 1.06 0.69 0.53 1.17 0.55 1.11 1.63 0.78 1.7 0.5 4.38 1.19 3.19 0.82 0.52 1.03 0.88 1.1 0.77 0.79 3.32 0.43 1.65 0.32 0.36 0.42 7.68 1.14 2.13 0.54 2.19 0.95 1.12 0.81 3.07 0.27 0.68 0.69 0.56 0.62 1.73 0.42 1.55 0.5 1.73 0.57 2.04 0.29 2.19 0.39 5.74" stroke-dashoffset="1.8"/>
<path d="M1492.14 329.17A222 222 0 0 1 1490.49 252.18" stroke="#a9c6e2" stroke-opacity="0.24" stroke-dasharray="0.7 1.2 0.84 2.29 0.97 2.67 0.71 9.18 1.05 3.58 0.64 1.27 0.79 4.31 0.75 1.57 0.66 4.29 0.55 0.4 0.94 4.22 0.95 1.85 0.96 0.92 0.81 0.42 0.37 1.31 0.73 1.16 0.3 2.32 0.75 0.76 0.54 1.16 0.47 0.42 1.12 6.07 0.88 3.72 0.65 3.08 0.46 2.63" stroke-dashoffset="1.7"/>
<path d="M1492.56 240.74A222 222 0 0 1 1521.45 168.66" stroke="#a9c6e2" stroke-opacity="0.24" stroke-dasharray="1.11 0.48 1 0.52 0.76 5.43 0.25 0.78 0.53 0.97 0.31 4.13 1.02 1.16 0.59 1.8 0.29 0.35 1.1 0.93 0.72 4.92 1.18 1.39 0.45 0.9 1.13 4.16 0.44 3.39 0.59 1.39 0.41 3.9 1.2 0.68 0.85 0.66 1.09 0.39 0.35 2.5 0.55 4.22 1.08 2.42 0.38 2.32 1.14 1.3 0.33 0.73 0.54 2.41 0.44 0.64 0.47 2.16 1 1.09" stroke-dashoffset="1.99"/>
<path d="M1527.85 158.96A222 222 0 0 1 1599.24 93.55" stroke="#a9c6e2" stroke-opacity="0.24" stroke-dasharray="1.09 1.82 0.47 0.91 1.13 2.17 0.51 2.04 0.34 7.23 0.67 1.58 0.75 0.38 0.82 0.87 0.49 3.06 0.33 0.87 0.97 0.78 0.52 1.65 0.43 4.16 1.19 0.36 0.69 2.66 0.62 4.8 0.72 0.64 0.78 2.06 0.59 2.13 0.99 1.54 0.73 3.47 0.9 1.55 1.15 0.62 0.99 0.61 0.83 0.76 0.67 2.82 1 2.96 0.47 1.44 0.46 1.78 0.72 0.36 0.82 2.43 0.79 3.81 0.42 0.58 0.27 1.47 0.66 1.29 0.5 3.02 0.32 4.34" stroke-dashoffset="1.71"/>
<path d="M1609.46 88.02A222 222 0 0 1 1698.28 64.3" stroke="#a9c6e2" stroke-opacity="0.24" stroke-dasharray="0.77 2.97 0.48 0.57 0.55 0.37 0.55 1.95 0.75 0.82 0.81 0.46 1.03 0.62 0.49 0.6 0.91 3.32 1 0.41 0.64 1.07 0.46 6.29 0.29 1.44 0.97 7.58 0.39 1.33 0.96 0.37 0.48 4.05 0.38 1.15 0.53 1.24 0.32 0.36 1.2 2.75 0.95 0.74 0.49 1.66 0.48 1.35 1.14 1.07 0.57 7.06 0.83 0.37 0.63 2.08 0.31 1.01 0.91 3.7 0.81 4 0.69 1.15 1.05 1.12 0.99 0.71 0.58 0.64 0.77 0.6 0.44 0.71" stroke-dashoffset="1.4"/>
<path d="M1709.9 64A222 222 0 0 1 1845.23 110.02" stroke="#fff" stroke-opacity="0.25" stroke-dasharray="0.48 1.66 0.99 2.91 0.9 0.83 0.54 0.47 0.77 1.34 0.46 0.34 0.39 1 0.54 6.21 0.79 1.02 0.52 0.68 0.95 1.33 0.82 3.26 0.93 0.35 0.49 1.42 0.31 5.22 0.49 3.69 0.64 0.43 0.55 0.93 0.28 0.68 0.7 0.37 0.48 1.57 0.66 0.64 0.78 0.99 0.79 2.82 0.36 0.83 0.46 3.17 0.55 1.42 0.9 0.89 0.47 1.27 0.41 0.4 0.27 2.59 0.67 4.1 0.98 1.11 0.75 6.08 0.41 2.99 0.75 7.44 0.9 0.91 0.72 0.52 0.57 1.45 0.3 1.41 0.5 1.88 0.46 0.7 0.55 1.78 0.38 2.82 0.43 0.52 0.51 1.56 0.36 2.31 0.78 2.15 0.78 0.35 0.54 1.34 0.3 1.49 0.29 1.87 0.69 1.76 0.49 0.97 0.27 1.28 0.92 2.22 0.45 2.84 0.39 1.76 0.71 7.42" stroke-dashoffset="1.09"/>
<path d="M1854.26 117.35A222 222 0 0 1 1920.74 216.51" stroke="#fff" stroke-opacity="0.25" stroke-dasharray="0.68 6.86 0.83 2.57 0.72 1.52 0.56 1.04 0.87 5.17 0.54 5.83 0.28 0.64 0.63 1.15 0.52 8.97 0.36 0.79 0.42 2.92 0.43 0.3 0.66 1.45 0.43 1.87 0.74 2.13 0.72 2.19 0.87 8.28 0.5 1.28 0.91 1.16 0.79 3.03 0.76 7.94 0.87 0.7 0.72 1.85 0.67 1.36 0.46 3.48 0.65 0.92 0.44 1.2 0.38 1.96 0.34 0.45 0.3 0.55 0.78 0.58 0.59 3.7 0.61 0.71 0.9 4.99 0.29 0.97 0.63 3.96 0.54 3.19 0.44 3.19" stroke-dashoffset="0.98"/>
<path d="M1924.09 227.64A222 222 0 0 1 1922.9 348.56" stroke="#fff" stroke-opacity="0.25" stroke-dasharray="0.5 3.58 0.88 4.36 0.68 1.56 0.78 2.54 0.87 4.02 0.34 1.39 0.75 0.9 0.39 0.33 0.69 6.81 0.98 0.63 0.77 1.55 0.72 1.46 0.95 10.63 0.29 3.17 0.34 0.4 0.46 3.32 1 0.59 0.5 0.36 0.66 1.82 0.53 1.15 0.85 4.5 0.46 1.44 0.71 3.63 0.99 1.43 0.77 2.12 0.85 0.67 0.38 0.56 0.95 0.97 0.62 0.59 0.49 0.34 0.67 0.66 0.72 1.04 0.42 1.81 0.52 0.99 0.29 0.45 0.92 1.15 0.31 0.76 0.61 13.79 0.4 4.94 0.61 1.53 0.86 1.46 0.29 2.14" stroke-dashoffset="1.97"/>
<path d="M1919.34 359.62A222 222 0 0 1 1852.05 456.52" stroke="#fff" stroke-opacity="0.25" stroke-dasharray="0.72 1.05 0.95 4.9 1 1.65 0.88 3.27 0.38 0.36 0.38 0.59 0.31 1.32 0.82 1.15 0.64 0.32 0.41 7.66 0.26 2.02 0.86 3.91 0.8 1.47 0.85 4.34 0.83 10.11 0.33 7.21 0.55 3.11 0.44 5.83 0.27 2.28 0.42 1.43 0.53 2.76 0.86 1.34 0.73 1.31 0.46 5.72 0.49 0.53 0.5 3.41 0.41 3.43 0.66 2.92 0.38 0.56 0.36 1.29 0.57 0.32 0.63 1.49 0.49 2.07 0.96 0.83 0.91 1.19 0.82 0.56 0.99 1.59 0.97 0.87" stroke-dashoffset="1.22"/>
<path d="M1842.93 463.73A222 222 0 0 1 1751.53 504.06" stroke="#fff" stroke-opacity="0.25" stroke-dasharray="0.78 0.75 0.46 2.9 0.96 1.19 0.39 1.32 0.99 0.67 0.73 1.39 0.73 0.85 0.71 5.33 0.89 2.58 0.63 2.23 0.34 4.48 0.77 1.69 0.75 1.55 0.54 0.9 0.7 2.26 0.64 0.38 0.72 1.66 0.7 2.38 0.95 0.68 0.6 11.67 0.8 1.16 0.8 10.76 0.55 4.95 0.35 10.91 0.62 0.91 0.88 2.71 0.95 4.37" stroke-dashoffset="2.39"/>
<path d="M1740.06 505.94A222 222 0 0 1 1636.46 495.5" stroke="#fff" stroke-opacity="0.25" stroke-dasharray="0.63 11.95 0.3 4.99 0.78 0.96 0.86 1.69 0.65 4.92 0.4 1.05 0.73 0.48 0.67 3.86 0.62 0.94 0.85 4.74 0.83 2.13 0.93 3.96 0.36 1.35 0.33 0.39 0.51 4.9 0.88 0.59 0.39 1.43 0.89 2.51 0.93 0.47 0.99 0.83 0.72 5.11 0.8 0.8 0.75 1.6 0.26 1.25 0.49 2.58 0.46 2.43 0.77 0.76 0.35 3.02 0.6 0.62 0.34 6.81 0.71 1.32 0.4 12.41" stroke-dashoffset="2.07"/>
<path d="M1625.6 491.37A222 222 0 0 1 1544.67 434.27" stroke="#fff" stroke-opacity="0.25" stroke-dasharray="0.8 1.33 0.48 1.51 0.36 2.59 0.57 4.25 0.56 1.7 0.63 6.84 0.51 3.1 0.43 2.29 0.46 5.04 0.46 4.73 0.76 1.7 0.95 1.43 0.81 2.41 0.59 0.45 0.56 1.06 0.58 7.41 0.47 3.03 0.75 0.95 0.56 0.63 0.92 0.97 0.57 1.26 0.87 4.67 0.69 2.12 0.32 5.52 0.32 1.34 0.53 3.25 0.75 1.27 0.92 7.17 0.27 2.61" stroke-dashoffset="1.41"/>
<path d="M1537.14 425.42A222 222 0 0 1 1494.7 340.51" stroke="#fff" stroke-opacity="0.25" stroke-dasharray="0.52 1.74 0.49 2.86 0.7 8.4 0.98 11.59 0.55 4.36 0.74 3.08 1 0.46 0.6 1.48 0.74 0.87 0.99 0.84 0.53 0.65 0.55 3.41 0.31 0.72 0.74 2.54 0.81 0.97 0.86 3.32 0.83 0.59 0.6 0.34 0.89 6.95 0.92 0.36 0.51 2.07 0.65 0.57 0.84 1.13 0.63 0.61 0.68 0.62 0.32 1.95 0.47 3.76 0.44 1.53 0.29 0.86 0.59 2.18 0.59 4.67" stroke-dashoffset="0.31"/>
<path d="M1492.14 329.17A222 222 0 0 1 1490.49 252.18" stroke="#fff" stroke-opacity="0.25" stroke-dasharray="0.89 0.69 0.98 2.01 0.55 2.48 0.9 7.93 0.56 0.32 0.37 4.22 0.8 3.17 0.37 2.04 0.27 0.57 0.48 8.09 0.73 4.63 0.28 1.54 0.31 1 0.33 6.08 0.5 1.84 0.74 5.31 0.96 2.23 0.63 5.69 0.55 1.12 0.8 0.99 0.53 1.59 0.61 1.32" stroke-dashoffset="1.29"/>
<path d="M1492.56 240.74A222 222 0 0 1 1521.45 168.66" stroke="#fff" stroke-opacity="0.25" stroke-dasharray="0.59 0.42 0.88 0.45 0.65 2.12 0.55 0.88 0.32 1.37 0.49 1.82 0.42 3.48 0.62 0.32 0.55 8.1 0.26 2.37 0.97 1.35 0.7 1.36 0.48 2.46 0.69 1.17 0.62 1.97 0.82 0.43 0.32 0.97 0.45 3.95 0.57 4.82 0.55 1.07 0.76 0.51 0.99 4.4 0.5 1.18 0.86 3.87 0.73 0.43 0.82 0.41 0.72 2.15 0.95 2.64 0.27 6.56" stroke-dashoffset="2.26"/>
<path d="M1527.85 158.96A222 222 0 0 1 1599.24 93.55" stroke="#fff" stroke-opacity="0.25" stroke-dasharray="0.68 0.31 0.8 1.55 0.76 9.77 0.94 0.48 0.84 1.64 0.81 1.39 0.59 1.62 0.34 1.19 0.8 0.47 0.34 4.43 0.75 2.13 0.33 0.59 0.48 7.38 0.67 6.18 0.41 1.53 0.65 4.5 0.34 5.06 0.6 0.37 0.57 1.39 0.76 6.36 0.62 2.99 0.54 3.77 0.33 3.42 0.37 2.33 0.4 1.28 0.37 1.29 0.69 1.99 0.54 2.26 0.88 1.32 0.69 1.81" stroke-dashoffset="2.94"/>
<path d="M1609.46 88.02A222 222 0 0 1 1698.28 64.3" stroke="#fff" stroke-opacity="0.25" stroke-dasharray="0.5 3.05 0.43 1 0.8 2.27 0.44 0.45 0.87 1.39 0.79 1.6 0.71 2.19 0.98 5.83 0.59 1.83 0.42 3.52 0.33 1.14 0.89 0.38 0.77 2.23 0.66 1.23 0.36 7.23 0.82 4.07 0.32 3.83 0.41 0.81 0.65 2.46 0.34 3.63 0.69 5.58 0.94 2.99 0.52 7.24 0.79 1.09 0.89 3.29 0.45 0.96 0.27 2.07 0.44 1.1 0.44 0.62" stroke-dashoffset="1.45"/>
</g>
<g stroke-width="21.6">
<path d="M1709.9 91.04A194.96 194.96 0 0 1 1828.75 131.46M1836.68 137.89A194.96 194.96 0 0 1 1895.06 224.97M1898 234.74A194.96 194.96 0 0 1 1896.96 340.94M1893.83 350.65A194.96 194.96 0 0 1 1834.73 435.75M1826.73 442.08A194.96 194.96 0 0 1 1746.46 477.5M1736.39 479.15A194.96 194.96 0 0 1 1645.41 469.98M1635.87 466.36A194.96 194.96 0 0 1 1564.8 416.21M1558.18 408.44A194.96 194.96 0 0 1 1520.91 333.87M1518.66 323.91A194.96 194.96 0 0 1 1517.22 256.3M1519.03 246.25A194.96 194.96 0 0 1 1544.4 182.95M1550.02 174.43A194.96 194.96 0 0 1 1612.72 116.99M1621.7 112.13A194.96 194.96 0 0 1 1699.7 91.31" stroke="#dbf1ec"/>
<path d="M1738.67 93.17A194.96 194.96 0 0 1 1778.2 103.39M1853.35 153.98A194.96 194.96 0 0 1 1874.07 180.84M1904.5 274.24A194.96 194.96 0 0 1 1903.55 308.6M1889.55 361.73A194.96 194.96 0 0 1 1873.93 391.38M1808 454.48A194.96 194.96 0 0 1 1782.58 466.9M1706.05 480.92A194.96 194.96 0 0 1 1676.67 478.11M1616.29 457.02A194.96 194.96 0 0 1 1592.72 441.81M1543.95 388.32A194.96 194.96 0 0 1 1531.46 364.54M1518.66 323.91A194.96 194.96 0 0 1 1515.87 304.98M1522.18 233.38A194.96 194.96 0 0 1 1529.27 212.64M1563.42 157.34A194.96 194.96 0 0 1 1582.91 138.07M1641.96 103.26A194.96 194.96 0 0 1 1666.89 95.84" stroke="#8fd0bd" stroke-opacity="0.2"/>
<path d="M1751.24 95.47A194.96 194.96 0 0 1 1766.09 99.31M1860.33 161.98A194.96 194.96 0 0 1 1868.1 172.06M1904.86 284.98A194.96 194.96 0 0 1 1904.5 297.88M1885.22 371.28A194.96 194.96 0 0 1 1879.36 382.41M1800.26 458.76A194.96 194.96 0 0 1 1790.72 463.42M1696.83 480.52A194.96 194.96 0 0 1 1685.8 479.46M1608.69 452.63A194.96 194.96 0 0 1 1599.85 446.93M1539.69 381.07A194.96 194.96 0 0 1 1535.01 372.15M1517.89 319.79A194.96 194.96 0 0 1 1516.65 311.73M1524.14 226.81A194.96 194.96 0 0 1 1526.8 219.03M1569.22 151.03A194.96 194.96 0 0 1 1576.53 143.79M1649.64 100.59A194.96 194.96 0 0 1 1659 97.8" stroke="#8fd0bd" stroke-opacity="0.2"/>
<path d="M1709.9 91.04A194.96 194.96 0 0 1 1828.75 131.46" stroke="#8fd0bd" stroke-opacity="0.1" stroke-dasharray="3 1.98 3.03 3.86 6.31 1.17 6.23 9.95 4.85 4.22 5.54 4.12 5.13 12.88 5.76 1.8 1.8 14.1 3.49 8.04 2.78 3.32 3.54 6.83 6.69 3.82" stroke-dashoffset="1.7"/>
<path d="M1836.68 137.89A194.96 194.96 0 0 1 1895.06 224.97" stroke="#8fd0bd" stroke-opacity="0.1" stroke-dasharray="3.42 1.62 6.72 0.88 6.67 5.65 1.89 11.9 2.06 4.47 2.16 22.77 3.2 10.58 1.84 5.79 1.87 0.45 4.64 20.62" stroke-dashoffset="2.06"/>
<path d="M1898 234.74A194.96 194.96 0 0 1 1896.96 340.94" stroke="#8fd0bd" stroke-opacity="0.1" stroke-dasharray="6.2 7.98 4.37 0.7 4.4 1.32 4.4 2.49 4.24 1.4 5.38 3 4.17 0.71 4.18 4.38 6.85 4.42 2.24 2.08 3.35 6.35 6.66 18.95" stroke-dashoffset="2.85"/>
<path d="M1893.83 350.65A194.96 194.96 0 0 1 1834.73 435.75" stroke="#8fd0bd" stroke-opacity="0.1" stroke-dasharray="6.59 10.08 6.64 0.4 4.19 4.77 5.27 5.04 4.87 13.83 1.98 3.96 6.78 0.46 2.11 10.46 6.76 0.42 1.68 9.15" stroke-dashoffset="2.07"/>
<path d="M1826.73 442.08A194.96 194.96 0 0 1 1746.46 477.5" stroke="#8fd0bd" stroke-opacity="0.1" stroke-dasharray="4.36 4.64 5.67 8.55 1.5 0.65 5.87 18.83 6.08 2.92 3.35 2.43 1.58 7.65 2.94 4.71 4.39 2.34 5.21 3.33" stroke-dashoffset="0.7"/>
<path d="M1736.39 479.15A194.96 194.96 0 0 1 1645.41 469.98" stroke="#8fd0bd" stroke-opacity="0.1" stroke-dasharray="6.35 1.27 2.32 1.76 4.13 7.95 3.33 1.66 5.1 1.81 4.38 1.77 6.32 1.32 2.78 2.09 3.31 6.78 5.21 8.11 4.47 0.71 5.7 1.7 2.7 2.98" stroke-dashoffset="2.97"/>
<path d="M1635.87 466.36A194.96 194.96 0 0 1 1564.8 416.21" stroke="#8fd0bd" stroke-opacity="0.1" stroke-dasharray="3.54 2.5 6.51 23.56 3.63 1.03 5.84 7.92 3.36 8.11 3.59 1.99 4.76 7.06 4.12 8.83" stroke-dashoffset="0.04"/>
<path d="M1558.18 408.44A194.96 194.96 0 0 1 1520.91 333.87" stroke="#8fd0bd" stroke-opacity="0.1" stroke-dasharray="4.24 2.69 1.86 12.6 2.29 1.45 6.33 16.46 6.62 2.39 6.62 1.06 5.43 14.86" stroke-dashoffset="0.58"/>
<path d="M1518.66 323.91A194.96 194.96 0 0 1 1517.22 256.3" stroke="#8fd0bd" stroke-opacity="0.1" stroke-dasharray="2.25 5.97 6.35 6.78 6.72 3.32 3.55 0.94 3 14.27 1.89 1.32 3.41 0.55 3.19 1.31 2.18 4.04" stroke-dashoffset="1.62"/>
<path d="M1519.03 246.25A194.96 194.96 0 0 1 1544.4 182.95" stroke="#8fd0bd" stroke-opacity="0.1" stroke-dasharray="4.62 7.48 4.4 15 1.95 1.56 1.92 2.15 5.68 13.2 4.27 1.17 3.32 4.5" stroke-dashoffset="0.88"/>
<path d="M1550.02 174.43A194.96 194.96 0 0 1 1612.72 116.99" stroke="#8fd0bd" stroke-opacity="0.1" stroke-dasharray="5.86 18.28 4.03 4.92 6.15 3.43 2.55 14.72 6.88 0.42 5.69 2.86 1.79 1.19 2.45 6.97" stroke-dashoffset="0.63"/>
<path d="M1621.7 112.13A194.96 194.96 0 0 1 1699.7 91.31" stroke="#8fd0bd" stroke-opacity="0.1" stroke-dasharray="1.61 1.54 5.9 3.76 5.09 3.43 2.5 0.38 3.17 0.51 2.93 5.12 3.53 3.5 4.93 2.21 3.46 11.07 4.7 3 4.47 3.38 3.33 12.55" stroke-dashoffset="0.7"/>
<path d="M1709.9 91.04A194.96 194.96 0 0 1 1828.75 131.46" stroke="#8fd0bd" stroke-opacity="0.32" stroke-dasharray="1.14 3.56 1.09 0.6 0.73 7.39 0.52 0.62 0.94 0.76 0.8 0.59 1.15 0.87 0.34 2.28 0.58 1.69 0.72 4.65 0.74 1.11 0.25 1.47 0.51 1.75 0.85 1.35 0.34 1.47 0.71 2.04 1.17 0.86 0.67 0.45 1.01 0.75 1.04 3.02 0.49 4.26 0.73 1.24 0.78 5.26 0.72 1.42 0.53 3.43 0.73 1.01 0.44 0.71 1.04 3.07 1.18 4.53 0.9 3.01 0.93 3.12 1.01 0.63 1.02 0.91 0.48 4.58 0.27 1.52 0.58 2.97 0.83 4.41 1.14 2.06 0.31 2.17 0.35 7.15 1.08 0.93 0.43 2.31" stroke-dashoffset="2.27"/>
<path d="M1836.68 137.89A194.96 194.96 0 0 1 1895.06 224.97" stroke="#8fd0bd" stroke-opacity="0.32" stroke-dasharray="1.19 1.96 0.37 2.51 0.31 3.74 0.98 2.92 1.08 1.73 1.15 2.03 0.72 1.12 0.59 0.34 0.4 3 0.47 2.1 0.99 2.32 0.74 0.95 0.51 0.65 0.87 2.27 1.15 0.98 1.13 4.42 0.53 5.46 0.84 5.88 0.99 0.99 0.52 1.56 0.71 0.36 1.07 1.6 0.7 2.62 0.49 0.68 0.8 0.77 0.56 0.42 0.3 1.05 0.75 5.36 0.86 1.21 0.64 0.76 0.7 5.73 0.37 1.26 0.9 2.74 0.78 2.04 1.14 4.26 0.49 1.62" stroke-dashoffset="2.99"/>
<path d="M1898 234.74A194.96 194.96 0 0 1 1896.96 340.94" stroke="#8fd0bd" stroke-opacity="0.32" stroke-dasharray="0.75 0.66 0.98 0.4 0.39 1.66 0.51 2.46 0.94 0.95 0.98 2.07 0.92 1.34 0.66 0.49 0.7 5.56 1.09 0.4 0.32 0.83 0.91 1.28 0.37 1.24 0.79 2.62 0.63 2.08 0.9 1.93 0.29 2.41 0.37 0.4 0.7 0.33 0.32 1.14 0.7 0.49 1.16 3.55 0.71 1.81 0.55 7.29 0.36 0.92 0.46 3.71 0.73 1.2 0.63 4.01 0.49 2.96 0.92 1.31 0.6 1.28 0.68 0.94 0.84 1.2 0.54 2.82 0.68 1.39 1.09 1.33 0.61 4.18 1.18 2.92 0.63 2.19 0.95 0.9 0.94 5.39" stroke-dashoffset="1.97"/>
<path d="M1893.83 350.65A194.96 194.96 0 0 1 1834.73 435.75" stroke="#8fd0bd" stroke-opacity="0.32" stroke-dasharray="0.89 1.27 0.87 0.74 0.98 1.62 1.18 1.01 0.93 0.33 0.65 2.77 0.5 1.92 0.46 1.16 1.19 0.67 1.12 0.4 0.8 3.23 1.05 1.14 0.81 2.42 0.97 2.63 0.8 0.79 0.92 1.7 0.77 7.69 0.38 2.88 0.56 2.5 1.15 0.85 0.79 1.58 0.72 0.61 0.84 4.11 0.88 0.88 1.02 1.23 0.39 1.88 0.69 1.58 1.19 1.73 1.16 1.04 0.97 0.43 0.54 2.3 0.91 3.3 0.61 0.84 0.59 1.61 0.27 1.1 0.87 0.57 0.55 3.8 1.14 0.79 0.42 0.51 0.33 2.99 0.95 0.82 0.71 2.32" stroke-dashoffset="0.08"/>
<path d="M1826.73 442.08A194.96 194.96 0 0 1 1746.46 477.5" stroke="#8fd0bd" stroke-opacity="0.32" stroke-dasharray="1.03 3.64 0.45 2.37 0.91 1 1.08 0.72 0.7 0.94 0.67 3.14 0.79 1.9 1.19 0.73 0.46 1.94 0.39 5.96 0.57 1.29 0.66 3.29 1.12 2.22 0.41 1.05 0.92 0.71 1.09 3.8 0.47 1.07 0.47 2.46 0.29 2.32 0.31 3.43 0.77 1.79 0.34 0.38 0.59 7.41 0.82 3.67 0.31 0.48 0.27 2.33 0.42 0.84 0.88 2.32 0.56 1.37 0.52 1.7 0.59 1.06 0.49 0.89" stroke-dashoffset="0.78"/>
<path d="M1736.39 479.15A194.96 194.96 0 0 1 1645.41 469.98" stroke="#8fd0bd" stroke-opacity="0.32" stroke-dasharray="0.27 0.93 0.81 0.83 0.36 3.48 0.7 1.52 0.55 4.01 0.97 1.96 0.88 2.3 0.73 1.21 0.62 1.49 0.7 1.58 0.76 2.94 1.1 0.73 0.27 0.91 0.28 3.01 0.84 0.87 0.43 3.75 1.04 2.26 0.91 2.62 0.68 1.16 0.78 3.91 1.19 4.53 1.04 0.43 0.48 6.32 0.77 1.53 0.54 3.67 0.74 8.19 0.32 8.81" stroke-dashoffset="0.04"/>
<path d="M1635.87 466.36A194.96 194.96 0 0 1 1564.8 416.21" stroke="#8fd0bd" stroke-opacity="0.32" stroke-dasharray="0.39 1.14 0.86 0.5 0.78 5.06 0.66 2.74 0.81 1.78 0.41 1.36 1.11 2.21 0.46 1.31 0.77 1 0.8 2 0.27 0.72 0.87 0.71 0.32 2.74 0.57 5.68 0.78 0.48 0.85 0.82 1.02 2.49 0.97 0.4 0.28 3.02 0.38 0.68 0.28 0.6 0.7 5.69 0.56 0.81 1.04 0.65 0.85 1.92 1.14 0.38 0.79 1.12 1.03 0.79 0.93 0.65 0.72 6.17 0.48 0.86 1.12 2.21 0.31 0.65 0.48 0.88 1.05 2.35 1.18 2.18" stroke-dashoffset="1.88"/>
<path d="M1558.18 408.44A194.96 194.96 0 0 1 1520.91 333.87" stroke="#8fd0bd" stroke-opacity="0.32" stroke-dasharray="0.61 2.45 0.72 0.4 0.72 1.12 0.75 0.38 0.28 7.21 0.6 0.98 0.39 1.83 1.12 0.64 0.73 1.48 0.98 1.72 0.48 0.66 0.94 0.44 1.07 0.36 0.43 1.37 1.05 1.94 0.96 2.73 0.94 0.39 1.03 0.57 0.4 0.37 0.28 3.86 0.61 0.45 0.29 3.48 0.82 4.52 0.29 0.5 0.52 0.66 0.36 0.68 0.86 0.61 0.41 1.6 0.61 0.58 0.79 1.51 0.62 1.39 0.29 1.92 0.43 1 0.26 4.02 0.81 1.15 0.76 5.08 0.38 1.12" stroke-dashoffset="2.12"/>
<path d="M1518.66 323.91A194.96 194.96 0 0 1 1517.22 256.3" stroke="#8fd0bd" stroke-opacity="0.32" stroke-dasharray="0.6 2.39 1.11 0.37 0.52 0.89 0.96 2.91 0.91 4.7 0.43 1.15 1.06 2.77 0.36 6.93 0.95 3.72 0.59 1.88 1.16 4.18 0.8 4.05 1.2 3.41 0.87 5.79 0.39 1.18 0.79 0.54 0.99 0.41 0.85 0.86 0.56 1.89 0.43 1.31 1.06 7.66" stroke-dashoffset="0.79"/>
<path d="M1519.03 246.25A194.96 194.96 0 0 1 1544.4 182.95" stroke="#8fd0bd" stroke-opacity="0.32" stroke-dasharray="0.6 2.31 0.43 3.52 0.44 1.68 0.57 0.3 0.25 0.3 0.56 0.85 1.19 2.03 0.31 2.44 0.47 1.42 0.94 3.6 1.14 1.23 0.55 1.16 0.55 2.6 0.69 2.27 0.39 2.9 1.17 0.69 0.84 0.6 0.28 1.21 0.42 2.53 0.79 2.21 1.17 0.4 0.34 0.36 0.69 3.26 0.9 1.65 1.06 1.09 0.36 2.04 0.27 0.74 0.28 0.6 0.31 1.59 0.37 1.87 1.03 1.02" stroke-dashoffset="0.36"/>
<path d="M1550.02 174.43A194.96 194.96 0 0 1 1612.72 116.99" stroke="#8fd0bd" stroke-opacity="0.32" stroke-dasharray="0.89 2.52 1.09 1.67 0.8 3.68 0.89 6.56 0.52 2.83 0.85 1.37 0.26 1.4 0.5 1.86 0.73 1.51 0.31 0.54 0.83 2.25 1.19 2.98 0.53 1.33 0.73 3.07 0.62 4.61 0.71 1.16 0.71 1.05 1.2 0.38 0.63 0.44 0.89 0.58 0.39 1.24 0.82 2.75 0.67 0.89 0.6 4.03 0.45 0.32 1.09 1.42 0.38 0.55 1.1 2.65 0.31 2.21 0.45 1.3 0.82 0.39 1.14 0.99 0.39 2.88" stroke-dashoffset="0.33"/>
<path d="M1621.7 112.13A194.96 194.96 0 0 1 1699.7 91.31" stroke="#8fd0bd" stroke-opacity="0.32" stroke-dasharray="0.29 2.09 0.7 4.22 1 0.69 0.29 1.87 0.7 0.91 1.12 0.7 0.86 0.43 1.13 5.35 0.84 0.96 0.94 4.27 1.01 0.37 0.73 0.56 0.77 5.39 1.07 0.79 0.77 0.95 0.41 2.61 0.97 1 0.65 2.33 0.94 1.36 0.36 0.47 0.41 3.28 0.72 2.06 0.6 1.08 0.42 6.54 0.83 0.53 0.92 1.85 0.83 2.8 0.83 3.86 1.17 1.19" stroke-dashoffset="1.95"/>
<path d="M1709.9 91.04A194.96 194.96 0 0 1 1828.75 131.46" stroke="#fff" stroke-opacity="0.3" stroke-dasharray="0.53 1.52 0.52 2.7 0.51 1.3 0.89 4 0.76 4.57 0.54 2.67 0.44 1.17 0.33 3.98 0.94 1.13 0.53 0.59 0.36 2.64 0.92 0.5 0.44 3.57 0.42 5.13 0.51 1.78 0.4 1.09 0.57 1.05 0.8 0.37 0.73 4.03 0.49 0.79 0.34 0.49 0.84 2.42 0.26 1.69 0.7 1.18 0.28 1.56 0.52 8.55 0.52 6.18 0.9 2.26 0.34 4.09 0.32 2.17 0.32 0.52 0.56 0.69 0.99 2.28 0.92 7.51 0.82 2.69 0.6 3.76 0.75 0.7 0.65 1.53 0.64 3.17 0.77 2.24 0.84 4.31" stroke-dashoffset="0.28"/>
<path d="M1836.68 137.89A194.96 194.96 0 0 1 1895.06 224.97" stroke="#fff" stroke-opacity="0.3" stroke-dasharray="0.36 0.41 0.37 7.65 0.48 1.63 0.6 2.21 0.46 3.77 0.5 4.6 0.85 0.3 0.66 0.52 0.91 0.47 0.45 3.67 0.69 2.83 0.56 1.99 0.4 1.73 0.44 2.89 0.33 0.64 0.4 2.05 0.69 0.31 0.99 4.45 0.53 0.7 0.87 8.97 0.38 3.54 0.86 6.67 0.41 0.6 0.37 0.9 0.93 5.84 0.61 0.61 0.51 0.93 0.74 3.23 0.83 1.62 0.59 1.75 0.53 1.7 0.76 3.16 0.49 2.22 0.36 0.41 0.54 1.32" stroke-dashoffset="0.1"/>
<path d="M1898 234.74A194.96 194.96 0 0 1 1896.96 340.94" stroke="#fff" stroke-opacity="0.3" stroke-dasharray="0.31 1.58 0.96 4.48 0.27 1.18 0.53 1.16 0.35 2.35 0.88 1.41 0.38 0.56 0.26 3.63 0.42 3.26 0.84 0.5 0.39 1.17 0.83 3.37 0.48 1.68 0.52 1.77 0.85 1 0.86 6.11 0.7 7.66 0.95 0.73 0.99 0.81 0.85 0.6 0.48 1.64 0.88 2.93 0.4 5.55 0.9 1.94 0.29 1.07 0.47 1.55 0.96 2.38 0.86 0.47 0.43 3.32 0.51 0.89 0.3 0.42 0.56 2.12 0.55 2.21 0.47 0.34 0.76 1.24 0.62 1.39 0.45 0.42 0.47 1.11 0.34 0.37 0.61 0.35 0.91 1.33 0.58 2.02 0.27 0.55 0.84 2.17" stroke-dashoffset="1.48"/>
<path d="M1893.83 350.65A194.96 194.96 0 0 1 1834.73 435.75" stroke="#fff" stroke-opacity="0.3" stroke-dasharray="0.51 3.5 0.63 3.92 0.88 5.46 0.79 2.88 0.6 2.05 0.68 2.01 0.86 4.79 0.29 3.51 0.71 2.4 0.93 0.42 0.61 1.38 0.96 0.71 0.67 0.66 0.82 1.84 0.8 1.14 0.91 0.32 0.42 3.34 0.91 3.75 0.46 0.49 0.78 3.32 0.3 6.58 0.65 0.38 0.61 1.25 0.33 5.28 0.95 0.6 0.58 1.03 0.75 0.57 0.5 1.51 0.6 1.61 0.7 6.78 0.95 5.77 0.87 0.9 0.43 1.72 0.73 2.44" stroke-dashoffset="1.05"/>
<path d="M1826.73 442.08A194.96 194.96 0 0 1 1746.46 477.5" stroke="#fff" stroke-opacity="0.3" stroke-dasharray="0.99 1.16 0.26 0.52 0.41 3.32 0.88 0.4 0.43 0.94 0.84 5.54 0.45 0.55 0.98 8.48 0.79 1.77 0.81 3.65 0.63 1.03 0.64 2.8 0.49 2.65 0.36 8.43 0.41 0.89 0.97 7.19 0.94 4.53 0.89 4.26 0.68 0.48 0.8 4.45 0.88 0.4 0.3 3.32 0.62 5.45 0.99 1.66" stroke-dashoffset="2.03"/>
<path d="M1736.39 479.15A194.96 194.96 0 0 1 1645.41 469.98" stroke="#fff" stroke-opacity="0.3" stroke-dasharray="0.75 3.02 0.53 2.65 0.3 5.6 0.79 4.03 0.6 0.83 0.59 2.92 0.66 0.56 0.25 1.47 0.43 0.89 0.42 1.54 0.77 5.92 0.76 0.35 0.9 2.46 0.8 2.49 0.52 1.25 0.3 2.81 0.29 2.93 0.93 2.84 0.7 4.1 0.97 4.15 0.99 1.72 0.26 2.49 0.73 4.87 0.71 1.34 0.25 4.38 0.72 10.01" stroke-dashoffset="1.78"/>
<path d="M1635.87 466.36A194.96 194.96 0 0 1 1564.8 416.21" stroke="#fff" stroke-opacity="0.3" stroke-dasharray="0.89 3.7 0.99 1.73 0.92 1.46 0.26 1.21 0.51 11.5 0.55 1.04 0.77 0.54 0.48 1.46 0.34 2.4 0.57 4.03 0.5 9.01 0.4 2.04 0.42 0.33 0.48 5.5 0.47 1.84 0.64 1.01 0.65 0.46 0.51 1.07 0.86 3.68 0.78 2.38 0.9 3.41 0.29 0.62 0.81 4.51 0.99 3.73 0.37 2.23 0.72 2.43" stroke-dashoffset="0.4"/>
<path d="M1558.18 408.44A194.96 194.96 0 0 1 1520.91 333.87" stroke="#fff" stroke-opacity="0.3" stroke-dasharray="0.98 1.94 0.45 9.41 0.54 0.47 0.75 0.99 0.41 1.13 0.71 1.19 0.75 5.72 0.99 5.36 0.94 0.97 0.87 0.52 0.69 0.48 0.32 7.13 0.35 3.2 0.65 0.3 0.84 0.44 0.91 4.23 0.62 1.66 0.27 3.07 0.28 2.02 0.94 2.91 0.34 3.24 0.78 1.22 0.83 2.29 0.56 2.02 0.46 1.08 0.92 1.29 0.83 1.35 0.39 0.3" stroke-dashoffset="2.89"/>
<path d="M1518.66 323.91A194.96 194.96 0 0 1 1517.22 256.3" stroke="#fff" stroke-opacity="0.3" stroke-dasharray="0.81 9.52 0.69 0.45 0.37 0.42 0.71 2.54 0.97 1.11 0.42 0.87 0.36 0.37 0.62 1.55 0.53 7.24 0.49 4.34 0.65 0.55 0.27 2.46 0.91 0.42 0.78 0.91 0.77 4.42 0.8 0.95 0.37 8.16 0.94 6.21 0.66 0.42 0.53 5.84" stroke-dashoffset="0.2"/>
<path d="M1519.03 246.25A194.96 194.96 0 0 1 1544.4 182.95" stroke="#fff" stroke-opacity="0.3" stroke-dasharray="0.47 0.4 0.91 1.3 0.31 1.31 0.4 1.61 0.71 2.77 0.32 2.06 0.29 1.64 0.86 1 0.87 0.94 0.54 3.92 0.25 2.16 0.65 3.19 0.96 3.03 0.42 0.81 0.61 1.06 0.66 0.52 0.77 1.54 0.29 0.6 0.95 4.65 0.91 1.44 0.99 0.73 0.79 6.84 0.41 0.31 0.34 0.5 0.85 2.44 0.61 0.58 0.73 0.64 0.35 2.37 0.73 4.01" stroke-dashoffset="2.48"/>
<path d="M1550.02 174.43A194.96 194.96 0 0 1 1612.72 116.99" stroke="#fff" stroke-opacity="0.3" stroke-dasharray="0.35 1.13 0.36 1.85 0.27 4.95 0.76 4.1 0.62 5.89 0.88 4.36 0.85 0.86 0.51 0.43 0.82 1.78 0.99 1.09 0.57 4.93 0.98 3.55 0.91 6.22 0.45 2.51 0.3 2.9 0.96 1.92 0.36 2.24 0.3 1.72 0.31 1.54 0.86 3.39 0.89 1.71 0.58 0.43 0.84 2.24 0.56 0.66 0.59 0.45 0.34 0.49 0.57 0.64 0.87 2.47 0.9 2.15" stroke-dashoffset="0.48"/>
<path d="M1621.7 112.13A194.96 194.96 0 0 1 1699.7 91.31" stroke="#fff" stroke-opacity="0.3" stroke-dasharray="0.46 4.51 0.69 2.69 0.72 0.41 0.4 1.6 0.88 6.91 0.69 0.99 0.28 2.18 0.56 6.44 0.4 0.83 0.26 0.37 0.86 5.01 0.37 0.34 0.68 0.95 0.71 5.88 0.81 1.06 0.7 1.09 0.82 0.99 0.9 2.91 0.92 1.28 0.97 2.31 0.44 2.69 0.48 0.58 0.28 2.47 0.43 0.54 0.83 0.65 0.82 1.03 0.52 6.5 0.87 4.44" stroke-dashoffset="2.94"/>
</g>
<g stroke-width="21.6">
<path d="M1709.9 118.08A167.92 167.92 0 0 1 1812.27 152.89M1819.09 158.43A167.92 167.92 0 0 1 1869.38 233.43M1871.91 241.85A167.92 167.92 0 0 1 1871.02 333.32M1868.32 341.69A167.92 167.92 0 0 1 1817.42 414.98M1810.52 420.43A167.92 167.92 0 0 1 1741.39 450.94M1732.71 452.36A167.92 167.92 0 0 1 1654.35 444.47M1646.14 441.34A167.92 167.92 0 0 1 1584.92 398.15M1579.22 391.46A167.92 167.92 0 0 1 1547.12 327.23M1545.19 318.65A167.92 167.92 0 0 1 1543.94 260.42M1545.51 251.77A167.92 167.92 0 0 1 1567.35 197.24M1572.19 189.9A167.92 167.92 0 0 1 1626.2 140.43M1633.93 136.25A167.92 167.92 0 0 1 1701.11 118.31" stroke="#d9d5dc"/>
<path d="M1730.32 119.33A167.92 167.92 0 0 1 1772.83 130.32M1830.95 169.62A167.92 167.92 0 0 1 1853.24 198.53M1877.25 272.17A167.92 167.92 0 0 1 1876.22 309.14M1866 347.88A167.92 167.92 0 0 1 1849.19 379.78M1797.02 429.55A167.92 167.92 0 0 1 1769.66 442.92M1709.76 453.92A167.92 167.92 0 0 1 1678.15 450.89M1631.94 434.72A167.92 167.92 0 0 1 1606.57 418.37M1568.5 376.58A167.92 167.92 0 0 1 1555.06 350.98M1545.19 318.65A167.92 167.92 0 0 1 1542.57 300.01M1547.59 242.96A167.92 167.92 0 0 1 1555.23 220.63M1581.81 177.42A167.92 167.92 0 0 1 1602.78 156.68M1648.77 129.6A167.92 167.92 0 0 1 1675.59 121.62" stroke="#b5afbb" stroke-opacity="0.2"/>
<path d="M1709.9 118.08A167.92 167.92 0 0 1 1812.27 152.89" stroke="#b5afbb" stroke-opacity="0.16" stroke-dasharray="4.82 13.99 4.92 4.66 3.28 2.68 4.63 1.72 5.03 10.28 5.46 1.58 1.65 2.59 3.89 9.67 4.51 3.95 4.83 4.33 5.23 4.38 4.54 1.65" stroke-dashoffset="0.37"/>
<path d="M1819.09 158.43A167.92 167.92 0 0 1 1869.38 233.43" stroke="#b5afbb" stroke-opacity="0.16" stroke-dasharray="3.92 11.18 6.71 2.04 4.66 3.95 4 1.28 5.84 0.75 2.75 1.93 2.62 1.37 1.94 4.01 2.45 5.44 4.8 5.2 4.14 5.04 3.13 3.42" stroke-dashoffset="2.07"/>
<path d="M1871.91 241.85A167.92 167.92 0 0 1 1871.02 333.32" stroke="#b5afbb" stroke-opacity="0.16" stroke-dasharray="2.68 6.91 4.72 18.68 4.89 4.28 5.72 2 3.55 3.13 5.54 6.65 2.52 15.7 6.9 3.72" stroke-dashoffset="2.99"/>
<path d="M1868.32 341.69A167.92 167.92 0 0 1 1817.42 414.98" stroke="#b5afbb" stroke-opacity="0.16" stroke-dasharray="4.92 2.73 1.98 0.39 4.75 6.64 4.89 7.93 3.9 7.08 4.82 5.33 4.52 5.8 4.58 0.77 5.21 6.38 3.85 17.82" stroke-dashoffset="1.44"/>
<path d="M1810.52 420.43A167.92 167.92 0 0 1 1741.39 450.94" stroke="#b5afbb" stroke-opacity="0.16" stroke-dasharray="2.41 3.88 3.47 1.2 6.39 1.28 5.42 1.23 4.34 28.99 1.99 10.09 1.53 19.26" stroke-dashoffset="2.73"/>
<path d="M1732.71 452.36A167.92 167.92 0 0 1 1654.35 444.47" stroke="#b5afbb" stroke-opacity="0.16" stroke-dasharray="3.97 5.38 4.03 1.19 3.46 3.21 6.28 0.91 4.47 3.49 4.54 8.16 4.8 2.25 6.75 4.87 2.99 4.26 6.27 0.54" stroke-dashoffset="1.94"/>
<path d="M1646.14 441.34A167.92 167.92 0 0 1 1584.92 398.15" stroke="#b5afbb" stroke-opacity="0.16" stroke-dasharray="4.18 2 2.38 1.62 3.91 3.04 4.81 1.88 4.91 3.51 5.88 8.46 2.8 19.14 4.51 2.34 2.9 6.54" stroke-dashoffset="1.31"/>
<path d="M1579.22 391.46A167.92 167.92 0 0 1 1547.12 327.23" stroke="#b5afbb" stroke-opacity="0.16" stroke-dasharray="5.26 1.78 6.23 1.84 6.29 3.19 3.71 4.61 4.38 4.27 4.58 15.28 5.59 0.78 6.93 0.38" stroke-dashoffset="0.16"/>
<path d="M1545.19 318.65A167.92 167.92 0 0 1 1543.94 260.42" stroke="#b5afbb" stroke-opacity="0.16" stroke-dasharray="6 1.91 1.66 1.27 4.22 9.58 1.61 1.2 1.57 0.57 3.23 3.68 6.83 5.52 6.2 4.77" stroke-dashoffset="2.73"/>
<path d="M1545.51 251.77A167.92 167.92 0 0 1 1567.35 197.24" stroke="#b5afbb" stroke-opacity="0.16" stroke-dasharray="5.2 1.67 3.55 3.57 2.1 13.2 4.16 1.42 4.2 8.48 3 4.73 2 1.68 2.53 3.82" stroke-dashoffset="2.06"/>
<path d="M1572.19 189.9A167.92 167.92 0 0 1 1626.2 140.43" stroke="#b5afbb" stroke-opacity="0.16" stroke-dasharray="2.75 6.14 4.72 7.25 6.98 2.33 6.98 3.34 4.3 1.28 1.97 5.48 2.07 0.48 1.96 4.21 2.58 1.83 5.72 3.26" stroke-dashoffset="0.44"/>
<path d="M1633.93 136.25A167.92 167.92 0 0 1 1701.11 118.31" stroke="#b5afbb" stroke-opacity="0.16" stroke-dasharray="5.24 26.57 4.92 3.24 4.46 6.37 6.11 8 2.87 7.87" stroke-dashoffset="0.31"/>
<path d="M1709.9 118.08A167.92 167.92 0 0 1 1812.27 152.89" stroke="#b5afbb" stroke-opacity="0.3" stroke-dasharray="0.37 1.5 0.43 1.7 0.52 5.18 0.66 3.17 1.15 1.32 0.98 1.45 0.63 0.53 0.88 4.63 0.9 0.95 0.75 1.05 0.62 2.82 0.26 1.42 0.74 0.57 0.95 0.8 0.63 0.78 0.82 1.26 0.9 1.24 0.99 1.66 0.35 1.45 0.49 0.9 1.15 1.41 0.95 0.59 0.85 0.51 0.46 0.53 0.27 4.35 1.17 1.08 0.26 2.55 0.88 0.38 0.98 0.42 0.47 2.86 0.98 0.75 0.73 3.04 0.82 1.57 0.43 0.42 0.43 1.56 0.82 1.35 0.85 1.71 0.86 1.2 1.05 1.59 1.09 7.55 1.04 2.81 0.91 1.67 0.49 0.48 0.88 0.78 0.83 1.65" stroke-dashoffset="1.82"/>
<path d="M1819.09 158.43A167.92 167.92 0 0 1 1869.38 233.43" stroke="#b5afbb" stroke-opacity="0.3" stroke-dasharray="0.66 0.77 0.54 2.33 1.09 0.95 0.55 1.31 0.66 2 0.97 2.78 1.02 2.5 1.17 1.31 0.67 2.09 0.55 3.31 0.65 1.68 0.74 1.07 0.26 0.85 0.7 5.43 0.38 4.26 1.17 2.96 0.52 0.33 1.09 0.42 0.53 5.05 0.89 3.25 1.04 0.63 0.73 0.47 0.61 1.46 1.03 0.88 0.88 0.56 0.49 0.4 0.8 1.8 0.93 1.23 1.14 2.48 0.79 3.81 0.42 0.89 0.77 1.86 1.16 2.23 0.29 5.21" stroke-dashoffset="1.4"/>
<path d="M1871.91 241.85A167.92 167.92 0 0 1 1871.02 333.32" stroke="#b5afbb" stroke-opacity="0.3" stroke-dasharray="0.45 2.74 0.85 3.58 0.77 0.8 0.7 1.37 0.58 1.78 0.39 0.8 0.36 0.35 0.75 2.57 0.63 4.25 0.83 2.13 0.52 4.2 0.58 3.47 0.48 5.46 0.9 0.63 0.95 0.59 0.62 1.11 0.57 1.06 0.4 1.17 0.34 3 0.59 2.42 0.66 6.54 1.09 2.38 1.05 4.46 1.13 1.21 0.81 0.42 0.6 0.98 0.84 0.31 0.97 0.43 0.65 1.43 1.05 2 0.39 2.17 0.47 1.93 0.64 5.61" stroke-dashoffset="1.35"/>
<path d="M1868.32 341.69A167.92 167.92 0 0 1 1817.42 414.98" stroke="#b5afbb" stroke-opacity="0.3" stroke-dasharray="0.51 0.93 1.16 1.03 0.48 1.6 0.89 5.1 0.33 0.98 0.94 1.46 0.91 2.21 0.34 0.39 0.42 0.92 0.42 0.87 0.36 0.34 0.75 2.71 0.4 0.47 0.94 0.44 0.38 1.45 0.53 2.91 0.73 1.56 0.61 0.35 1.03 1.14 1.04 0.49 0.66 1.62 0.4 0.43 1.14 5.04 1.2 1.64 0.95 1.86 0.7 0.62 0.86 1.3 0.89 0.37 0.53 0.5 0.97 1.41 0.52 2.89 0.74 0.88 0.62 0.3 0.31 0.36 1.16 3.88 0.77 5.11 0.76 2.25 0.35 1.27 0.83 1.19 0.87 1.01 0.87 0.7" stroke-dashoffset="1.47"/>
<path d="M1810.52 420.43A167.92 167.92 0 0 1 1741.39 450.94" stroke="#b5afbb" stroke-opacity="0.3" stroke-dasharray="0.66 1.57 0.3 0.77 0.93 0.61 0.7 9.13 0.83 2.55 0.98 6.17 0.62 1.16 0.97 0.34 0.7 0.84 0.78 2.54 1.07 1.5 0.91 0.44 0.88 4.81 0.83 1.45 0.74 1.2 0.42 0.67 1 1.53 0.29 1.92 1.04 2.09 0.42 5.46 0.42 1.51 0.69 0.61 0.5 0.65 0.41 0.37 0.86 2.17 0.49 5.45 0.65 1.34" stroke-dashoffset="2.78"/>
<path d="M1732.71 452.36A167.92 167.92 0 0 1 1654.35 444.47" stroke="#b5afbb" stroke-opacity="0.3" stroke-dasharray="0.87 1.37 0.96 2.59 0.54 0.42 0.95 2.64 0.82 0.51 0.96 0.63 1.01 1.95 0.85 0.43 0.6 2.54 0.36 0.37 0.64 3.56 0.85 0.74 0.33 3.38 1.05 2.35 0.45 2.66 0.26 0.62 0.55 5.64 0.28 0.6 0.95 2.74 0.5 0.43 1.06 6.28 1.11 1.72 0.33 2.59 0.87 3.33 0.97 1.49 1.18 1.35 0.67 2.02 1 1.81 1.14 0.84" stroke-dashoffset="2.69"/>
<path d="M1646.14 441.34A167.92 167.92 0 0 1 1584.92 398.15" stroke="#b5afbb" stroke-opacity="0.3" stroke-dasharray="1.08 1.02 0.28 1.86 0.84 5.76 0.78 2.49 0.97 0.61 0.88 1.28 0.46 0.85 0.59 2.56 0.77 0.96 0.3 2.93 0.97 3.38 1 0.41 0.52 1.36 0.53 3.25 0.44 0.32 0.68 0.39 0.28 1.88 0.82 1.63 0.32 1.7 0.75 0.92 0.46 0.59 0.71 1.08 0.81 2.21 0.51 1.89 0.5 2.63 0.44 1.83 0.95 3.03 0.75 4.43 1.19 2.97" stroke-dashoffset="1.08"/>
<path d="M1579.22 391.46A167.92 167.92 0 0 1 1547.12 327.23" stroke="#b5afbb" stroke-opacity="0.3" stroke-dasharray="0.5 1.97 0.37 0.63 0.34 2.09 0.62 4.63 1.02 1.59 0.57 0.96 0.3 0.5 1.08 0.9 0.26 6.96 0.61 2.83 0.68 6.17 0.33 1.39 0.86 0.34 1.12 1 0.89 0.44 0.32 0.45 1 5.14 1.12 1.59 0.34 2.85 0.73 2.89 0.85 1.72 0.41 0.56 0.33 1.26 0.52 5.54 0.3 2.72" stroke-dashoffset="0.36"/>
<path d="M1545.19 318.65A167.92 167.92 0 0 1 1543.94 260.42" stroke="#b5afbb" stroke-opacity="0.3" stroke-dasharray="0.35 4.66 0.46 1.84 0.81 1.17 0.58 0.56 0.91 1.09 0.82 3.2 0.32 1.24 0.59 4.87 0.84 0.67 0.69 0.32 0.74 0.42 0.38 1.51 0.76 0.71 0.8 0.93 0.92 0.39 1.05 1.31 0.41 0.88 0.85 0.47 1.12 0.72 0.64 0.43 0.68 5.84 0.43 0.63 0.77 2.04 0.39 0.72 0.82 0.77 0.28 2.32 1.08 3.09" stroke-dashoffset="2.57"/>
<path d="M1545.51 251.77A167.92 167.92 0 0 1 1567.35 197.24" stroke="#b5afbb" stroke-opacity="0.3" stroke-dasharray="0.45 0.93 0.82 1.93 0.84 1.67 0.47 0.76 0.33 0.4 0.8 0.45 1.08 5.73 0.39 6.05 0.84 0.31 0.61 1.06 0.54 0.42 0.48 0.33 0.68 1.42 0.47 4.69 1.09 1.48 1.01 1.04 0.97 2.86 0.58 2.59 0.58 0.62 0.65 0.51 0.93 0.79 0.72 3.11 0.82 4.37" stroke-dashoffset="2.18"/>
<path d="M1572.19 189.9A167.92 167.92 0 0 1 1626.2 140.43" stroke="#b5afbb" stroke-opacity="0.3" stroke-dasharray="0.91 2.6 0.91 4.57 0.81 2.14 0.77 1.6 1.14 0.91 0.43 1.48 0.55 2.43 0.85 0.3 0.45 1.94 0.63 2.24 0.7 0.5 0.91 6.47 0.34 1.93 0.83 1.91 0.73 1.5 1.19 3.8 0.66 3.15 0.88 3.08 1.2 0.43 0.45 0.75 1.03 4.68 0.47 1.43 1.1 2.48 0.81 4.1" stroke-dashoffset="2.77"/>
<path d="M1633.93 136.25A167.92 167.92 0 0 1 1701.11 118.31" stroke="#b5afbb" stroke-opacity="0.3" stroke-dasharray="0.34 6.04 0.53 1.92 0.97 0.89 0.54 4.31 1 6.68 0.34 1.97 0.95 5.63 0.94 0.86 0.35 0.62 0.5 1.74 0.56 0.57 0.33 2.27 1.02 0.52 0.74 6.97 0.59 1.6 1.02 0.34 1.08 2.83 0.95 1.01 0.72 5.1 0.31 0.45 0.86 5.48" stroke-dashoffset="0.45"/>
<path d="M1709.9 118.08A167.92 167.92 0 0 1 1812.27 152.89" stroke="#fff" stroke-opacity="0.18" stroke-dasharray="0.39 1.72 0.84 2.21 0.74 0.42 0.4 2.33 0.79 0.52 0.32 1.17 0.56 1.23 0.38 0.48 0.73 7.36 0.73 6.09 0.35 2.5 0.52 4.62 0.7 2.49 0.94 7.47 0.35 1.62 0.31 2.19 0.42 3.06 0.52 0.32 0.92 0.61 0.45 1.99 0.29 3.7 0.79 0.59 0.72 0.62 0.65 0.53 0.46 1.68 0.66 2.74 0.95 1.24 0.51 0.84 0.8 1.35 0.41 0.79 0.57 4.46 0.58 4.16 0.6 2.3 0.44 1.51 0.79 0.5 0.59 0.97 0.47 1.25 0.4 2.28 0.28 0.93 0.45 0.76 0.88 2.97" stroke-dashoffset="2.66"/>
<path d="M1819.09 158.43A167.92 167.92 0 0 1 1869.38 233.43" stroke="#fff" stroke-opacity="0.18" stroke-dasharray="0.35 0.78 0.49 1.93 0.88 4.44 0.89 0.34 0.27 1.24 0.57 0.31 0.51 0.61 0.91 0.84 0.49 0.74 0.89 0.57 0.58 0.87 0.43 12.3 0.79 3.37 0.52 9.02 0.97 2.62 0.42 0.41 0.66 1.83 0.9 15.04 0.86 0.94 0.99 2.48 0.28 0.84 0.97 3.95 0.81 2.79 0.27 6.65 0.47 3.7" stroke-dashoffset="1.62"/>
<path d="M1871.91 241.85A167.92 167.92 0 0 1 1871.02 333.32" stroke="#fff" stroke-opacity="0.18" stroke-dasharray="0.62 2.02 0.94 4.45 0.55 4.7 0.38 1.29 0.49 0.41 0.55 0.3 0.98 4.21 0.61 0.45 0.45 3.71 0.47 0.53 0.57 2.29 0.34 1.39 0.67 3.44 0.56 11.22 0.44 3.49 0.31 5.97 0.66 0.74 0.86 5.24 0.35 5.22 0.97 1.31 0.84 3.23 0.68 1.43 0.48 4.19 0.84 6.99" stroke-dashoffset="0.2"/>
<path d="M1868.32 341.69A167.92 167.92 0 0 1 1817.42 414.98" stroke="#fff" stroke-opacity="0.18" stroke-dasharray="0.68 3.11 0.41 0.35 0.92 3.79 0.78 1.23 0.58 4.15 0.32 3.25 0.78 1.73 0.96 2.6 0.91 0.8 0.56 1.09 0.62 3.53 0.99 5.85 0.89 8.84 0.8 3.37 0.32 1.5 0.62 0.56 0.93 1.37 0.43 0.5 0.65 1.24 0.96 2.61 0.57 0.69 0.29 2.98 0.71 1.87 0.63 1.52 0.93 0.43 0.42 3.93 0.49 1.23 0.57 1.11 0.82 0.53 0.67 3.18 0.51 3.31" stroke-dashoffset="1.06"/>
<path d="M1810.52 420.43A167.92 167.92 0 0 1 1741.39 450.94" stroke="#fff" stroke-opacity="0.18" stroke-dasharray="0.72 0.55 0.49 2.19 0.71 1.73 0.28 2.08 0.9 1.03 0.41 2.53 0.42 0.55 0.31 2.56 0.91 3.69 0.69 5.08 0.89 1.02 0.54 8.68 0.96 2.66 0.72 1.26 0.32 1.22 0.42 2.6 0.74 2.59 0.93 0.3 0.4 0.54 0.53 5.93 0.6 3.99 0.39 1.31 0.85 1.1 0.8 2.4 0.74 0.37 0.52 9.9" stroke-dashoffset="1.13"/>
<path d="M1732.71 452.36A167.92 167.92 0 0 1 1654.35 444.47" stroke="#fff" stroke-opacity="0.18" stroke-dasharray="0.46 17.17 0.69 3.04 0.61 2.55 0.54 1.04 0.47 0.89 0.77 0.51 0.34 1.93 0.99 3.8 0.75 3.41 0.4 1.94 0.26 1.99 0.27 0.58 0.34 1.27 0.61 0.87 0.31 0.6 0.96 9.94 0.94 0.64 0.4 5.16 0.26 0.67 0.74 7.97 0.94 4.58" stroke-dashoffset="0.95"/>
<path d="M1646.14 441.34A167.92 167.92 0 0 1 1584.92 398.15" stroke="#fff" stroke-opacity="0.18" stroke-dasharray="0.8 6.65 0.92 8.42 0.82 3.85 0.78 1.56 0.68 6.41 0.68 0.36 0.59 5.01 0.78 1.82 0.95 3.55 0.42 3.08 0.9 0.32 0.95 1.6 0.89 0.33 0.49 1.13 0.41 2.77 0.85 2.71 0.93 0.58 0.47 1.48 0.84 3.38 0.99 5.04 0.65 3.39" stroke-dashoffset="2.45"/>
<path d="M1579.22 391.46A167.92 167.92 0 0 1 1547.12 327.23" stroke="#fff" stroke-opacity="0.18" stroke-dasharray="0.64 2.92 0.89 4.4 0.37 0.37 0.78 4.19 0.39 4.68 0.82 0.71 0.37 2.77 0.72 0.7 0.93 0.86 0.88 7 0.34 3.08 0.66 5.98 0.58 1.52 0.42 4.61 0.49 5.87 0.28 5.35 0.26 3.26 0.96 1.19 0.69 1.53" stroke-dashoffset="0.2"/>
<path d="M1545.19 318.65A167.92 167.92 0 0 1 1543.94 260.42" stroke="#fff" stroke-opacity="0.18" stroke-dasharray="0.88 1.87 0.85 0.38 0.37 0.9 0.86 0.35 0.27 1.39 0.54 4.61 0.89 0.93 0.81 1.32 0.82 2.78 0.3 1.76 0.57 1.71 0.67 3 0.55 1.99 0.87 2.93 0.39 0.64 0.45 7.25 0.54 5.16 0.97 3.06 0.53 3.44 0.63 7.31" stroke-dashoffset="1.5"/>
<path d="M1545.51 251.77A167.92 167.92 0 0 1 1567.35 197.24" stroke="#fff" stroke-opacity="0.18" stroke-dasharray="0.73 2.95 0.72 0.75 0.68 1.59 0.76 3.72 0.4 1.36 0.44 7.79 0.62 1.67 0.97 3.81 0.89 1.91 0.35 1.37 0.31 1.47 0.59 1.8 0.98 2.05 0.37 0.75 0.76 1.97 0.56 1.87 0.56 2.91 0.69 0.41 0.62 0.96 0.69 1.73 0.82 7.98" stroke-dashoffset="2.23"/>
<path d="M1572.19 189.9A167.92 167.92 0 0 1 1626.2 140.43" stroke="#fff" stroke-opacity="0.18" stroke-dasharray="0.71 1.93 0.33 3.31 0.4 1.4 0.69 1.01 0.9 2.12 0.98 0.35 0.6 1.2 0.68 2.7 0.69 6.76 0.58 1.36 0.81 2.16 0.45 6.15 0.42 0.48 0.65 5.85 0.89 4.2 0.71 1.95 0.47 0.71 0.58 4.42 0.67 9.47 0.85 2.1 0.69 1.54" stroke-dashoffset="2.72"/>
<path d="M1633.93 136.25A167.92 167.92 0 0 1 1701.11 118.31" stroke="#fff" stroke-opacity="0.18" stroke-dasharray="0.87 0.75 0.93 2.9 0.52 3.44 0.57 3.02 0.63 2.59 0.94 5.39 0.61 1.43 0.79 2.83 0.32 1.94 0.46 2.7 0.38 1.11 0.44 1.06 0.67 4.88 0.73 2.69 0.82 1.44 0.57 2.72 0.41 3.52 0.94 5.19 0.3 5.99 0.42 0.62 0.71 1.28" stroke-dashoffset="0.54"/>
</g>
<g stroke-width="21.6">
<path d="M1709.9 145.12A140.88 140.88 0 0 1 1795.78 174.32M1801.51 178.97A140.88 140.88 0 0 1 1843.7 241.9M1845.82 248.96A140.88 140.88 0 0 1 1845.07 325.7M1842.81 332.72A140.88 140.88 0 0 1 1800.11 394.21M1794.32 398.79A140.88 140.88 0 0 1 1736.32 424.38M1729.04 425.57A140.88 140.88 0 0 1 1663.3 418.95M1656.4 416.33A140.88 140.88 0 0 1 1605.05 380.09M1600.27 374.47A140.88 140.88 0 0 1 1573.33 320.59M1571.71 313.4A140.88 140.88 0 0 1 1570.66 264.54M1571.98 257.28A140.88 140.88 0 0 1 1590.31 211.54M1594.37 205.38A140.88 140.88 0 0 1 1639.67 163.87M1646.16 160.36A140.88 140.88 0 0 1 1702.53 145.31" stroke="#fbd8d3"/>
<path d="M1709.9 145.12A140.88 140.88 0 0 1 1730.15 146.58M1778.84 163.14A140.88 140.88 0 0 1 1795.78 174.32M1801.51 178.97A140.88 140.88 0 0 1 1813.64 190.69M1837.47 226.23A140.88 140.88 0 0 1 1843.7 241.9M1845.82 248.96A140.88 140.88 0 0 1 1849.31 265.69M1848.88 309.04A140.88 140.88 0 0 1 1845.07 325.7M1842.81 332.72A140.88 140.88 0 0 1 1836.36 348.08M1812.25 382.81A140.88 140.88 0 0 1 1800.11 394.21M1794.32 398.79A140.88 140.88 0 0 1 1782.65 406.64M1749.98 421.06A140.88 140.88 0 0 1 1736.32 424.38M1729.04 425.57A140.88 140.88 0 0 1 1714.43 426.81M1677.37 423.07A140.88 140.88 0 0 1 1663.3 418.95M1656.4 416.33A140.88 140.88 0 0 1 1643.79 410.4M1614.86 389.99A140.88 140.88 0 0 1 1605.05 380.09M1600.27 374.47A140.88 140.88 0 0 1 1592.38 363.7M1577.22 333.36A140.88 140.88 0 0 1 1573.33 320.59M1571.71 313.4A140.88 140.88 0 0 1 1570.02 302.73M1569.43 275.27A140.88 140.88 0 0 1 1570.66 264.54M1571.98 257.28A140.88 140.88 0 0 1 1574.61 246.71M1584.91 221A140.88 140.88 0 0 1 1590.31 211.54M1594.37 205.38A140.88 140.88 0 0 1 1602.7 194.6M1628.21 171.22A140.88 140.88 0 0 1 1639.67 163.87M1646.16 160.36A140.88 140.88 0 0 1 1657.94 155.05M1689.67 146.58A140.88 140.88 0 0 1 1702.53 145.31" stroke="#ee8676" stroke-opacity="0.2"/>
<path d="M1709.9 145.12A140.88 140.88 0 0 1 1718.21 145.37M1788.28 168.94A140.88 140.88 0 0 1 1795.78 174.32M1801.51 178.97A140.88 140.88 0 0 1 1806.64 183.59M1841.1 234.68A140.88 140.88 0 0 1 1843.7 241.9M1845.82 248.96A140.88 140.88 0 0 1 1847.49 255.75M1847.05 318.18A140.88 140.88 0 0 1 1845.07 325.7M1842.81 332.72A140.88 140.88 0 0 1 1840.39 339.1M1805.79 389.21A140.88 140.88 0 0 1 1800.11 394.21M1794.32 398.79A140.88 140.88 0 0 1 1789.64 402.14M1742.57 423.04A140.88 140.88 0 0 1 1736.32 424.38M1729.04 425.57A140.88 140.88 0 0 1 1723.08 426.26M1669.64 421.01A140.88 140.88 0 0 1 1663.3 418.95M1656.4 416.33A140.88 140.88 0 0 1 1651.17 414.06M1609.39 384.71A140.88 140.88 0 0 1 1605.05 380.09M1600.27 374.47A140.88 140.88 0 0 1 1596.92 370.16M1574.95 326.44A140.88 140.88 0 0 1 1573.33 320.59M1571.71 313.4A140.88 140.88 0 0 1 1570.92 309.05M1570 269.4A140.88 140.88 0 0 1 1570.66 264.54M1571.98 257.28A140.88 140.88 0 0 1 1572.96 252.93M1587.76 215.79A140.88 140.88 0 0 1 1590.31 211.54M1594.37 205.38A140.88 140.88 0 0 1 1597.65 200.87M1634.37 167.08A140.88 140.88 0 0 1 1639.67 163.87M1646.16 160.36A140.88 140.88 0 0 1 1650.92 158.06M1696.67 145.74A140.88 140.88 0 0 1 1702.53 145.31" stroke="#ee8676" stroke-opacity="0.2"/>
<path d="M1709.9 145.12A140.88 140.88 0 0 1 1795.78 174.32" stroke="#ee8676" stroke-opacity="0.12" stroke-dasharray="4.84 4.14 4.45 3.88 4.89 7.81 5.46 6.42 6.05 3.48 5.02 0.9 1.95 3.31 5.24 1.64 6.78 2.01 4.2 3.46 6.84 1.13" stroke-dashoffset="0.75"/>
<path d="M1801.51 178.97A140.88 140.88 0 0 1 1843.7 241.9" stroke="#ee8676" stroke-opacity="0.12" stroke-dasharray="4.99 2.55 3.39 1.01 6.54 3.22 4.68 1.71 6.65 0.86 5.34 0.64 4.42 2.27 6.73 3.19 6.11 0.45 2.8 21.82" stroke-dashoffset="1.11"/>
<path d="M1845.82 248.96A140.88 140.88 0 0 1 1845.07 325.7" stroke="#ee8676" stroke-opacity="0.12" stroke-dasharray="1.71 1.8 3.5 4.05 3.6 2.12 4.11 3.47 2.51 3.95 4.67 4.56 5.57 3.32 2.67 14.62 2.15 2.11 3.79 2.96 2.66 10.16" stroke-dashoffset="0.91"/>
<path d="M1842.81 332.72A140.88 140.88 0 0 1 1800.11 394.21" stroke="#ee8676" stroke-opacity="0.12" stroke-dasharray="4.51 5 2.22 3.12 2.23 4.21 5.52 9.93 6.67 0.9 4.02 5.79 3.56 14.74 4.22 10.48" stroke-dashoffset="0.2"/>
<path d="M1794.32 398.79A140.88 140.88 0 0 1 1736.32 424.38" stroke="#ee8676" stroke-opacity="0.12" stroke-dasharray="3.64 6.26 6.11 3.72 6.22 7.43 3.77 6.46 4.34 0.9 6.45 9.6" stroke-dashoffset="2.68"/>
<path d="M1729.04 425.57A140.88 140.88 0 0 1 1663.3 418.95" stroke="#ee8676" stroke-opacity="0.12" stroke-dasharray="2.79 7.8 1.71 3.76 3.16 3.82 3.61 4.29 3.89 7.41 5.12 1.93 2.59 1.66 3.3 3.07 4.27 7.54" stroke-dashoffset="2.95"/>
<path d="M1656.4 416.33A140.88 140.88 0 0 1 1605.05 380.09" stroke="#ee8676" stroke-opacity="0.12" stroke-dasharray="2.94 2.05 4.35 0.33 4.99 0.49 4.77 4.72 3.61 23.65 3.22 0.39 2.09 1.67 5.56 7.02" stroke-dashoffset="1.06"/>
<path d="M1600.27 374.47A140.88 140.88 0 0 1 1573.33 320.59" stroke="#ee8676" stroke-opacity="0.12" stroke-dasharray="6.36 1.19 2.76 4.53 4.43 8.11 3.2 11.9 4.98 6.15 4.66 1.49 4.6 14.62" stroke-dashoffset="0.05"/>
<path d="M1571.71 313.4A140.88 140.88 0 0 1 1570.66 264.54" stroke="#ee8676" stroke-opacity="0.12" stroke-dasharray="3.32 2.14 2.9 7.68 5.07 1.02 5.38 10.84 1.86 0.4 4.81 10.94" stroke-dashoffset="1.65"/>
<path d="M1571.98 257.28A140.88 140.88 0 0 1 1590.31 211.54" stroke="#ee8676" stroke-opacity="0.12" stroke-dasharray="4.28 2.91 4.62 12.47 4.79 7.15 4.06 11.05" stroke-dashoffset="2.31"/>
<path d="M1594.37 205.38A140.88 140.88 0 0 1 1639.67 163.87" stroke="#ee8676" stroke-opacity="0.12" stroke-dasharray="4.3 2.1 3.15 19.61 5.02 0.67 4.36 3.09 4.79 1.97 6.48 3.6 6.06 1.8" stroke-dashoffset="2.66"/>
<path d="M1646.16 160.36A140.88 140.88 0 0 1 1702.53 145.31" stroke="#ee8676" stroke-opacity="0.12" stroke-dasharray="4.5 4.24 3.89 14.55 4.59 4.12 3.5 3.36 2.99 3.24 2.95 0.7 3.51 0.44 5.15 0.8" stroke-dashoffset="2.72"/>
<path d="M1709.9 145.12A140.88 140.88 0 0 1 1795.78 174.32" stroke="#ee8676" stroke-opacity="0.31" stroke-dasharray="0.55 0.84 0.77 0.89 0.94 0.92 1.13 0.37 0.3 3.94 0.9 0.82 0.86 1.06 0.73 0.85 0.76 2.08 1.05 0.8 0.79 1.72 1.08 1.41 1.07 4.7 0.64 1.19 1.17 1.77 0.75 2.86 0.82 1.54 0.88 0.82 0.61 0.31 0.93 3.25 0.95 6.35 0.97 0.49 0.56 4.64 0.35 3.88 1.01 0.57 0.45 2.54 0.87 0.35 0.75 0.66 1.07 1.6 0.26 1.16 0.26 4.32 1.09 2.45 0.25 5.03 0.5 2.09" stroke-dashoffset="2.29"/>
<path d="M1801.51 178.97A140.88 140.88 0 0 1 1843.7 241.9" stroke="#ee8676" stroke-opacity="0.31" stroke-dasharray="0.78 0.51 0.48 2.53 0.37 1.1 1.14 1.19 0.39 2.09 0.58 2.95 0.6 3.3 1.03 0.63 0.77 1.3 0.37 4.44 0.57 1.91 0.31 5.42 1.18 2.26 0.37 2.15 0.7 1.39 0.46 0.58 1.05 1.88 0.96 2.58 0.63 1.66 0.54 2.11 0.66 2.91 0.53 1.12 0.33 0.37 0.45 0.33 0.65 1.11 1.09 0.37 1.19 0.47 1.04 1.05 0.48 1.9 0.59 0.33 0.37 2.23 0.93 8.85" stroke-dashoffset="0.76"/>
<path d="M1845.82 248.96A140.88 140.88 0 0 1 1845.07 325.7" stroke="#ee8676" stroke-opacity="0.31" stroke-dasharray="0.98 1.01 0.74 0.85 0.64 4.47 0.49 1.24 1.11 1.32 1.02 1.6 0.58 2.47 0.87 1.11 1.2 0.46 1.06 2.47 0.92 1.39 0.96 0.38 0.89 3.71 0.64 2.59 0.91 1.48 0.98 1.43 0.36 1.56 0.97 0.61 0.69 3.36 0.26 3.68 0.58 1.07 0.91 1.75 0.52 0.59 0.65 4.05 1.2 2.45 0.91 2.28 1.12 0.6 0.39 3.45 0.27 1.56" stroke-dashoffset="1.21"/>
<path d="M1842.81 332.72A140.88 140.88 0 0 1 1800.11 394.21" stroke="#ee8676" stroke-opacity="0.31" stroke-dasharray="1.12 1.97 0.46 0.41 0.7 1.66 0.69 1.78 0.31 1.06 1.04 0.88 0.43 0.63 1.14 3.76 0.63 0.98 0.6 3.94 1.11 5.47 1.06 2.24 0.36 5.15 0.41 2.58 0.59 0.36 0.88 0.8 1.09 0.64 0.88 1.28 0.3 0.86 0.54 2.84 0.98 4.96 0.41 0.7 0.6 0.96 0.45 2.67 0.26 1.61 0.38 0.94 0.53 1.36 1.14 2.57 0.66 8.1" stroke-dashoffset="0.76"/>
<path d="M1794.32 398.79A140.88 140.88 0 0 1 1736.32 424.38" stroke="#ee8676" stroke-opacity="0.31" stroke-dasharray="0.43 2.02 0.98 2.49 0.73 2.48 0.57 5.34 0.95 3.04 0.76 4.55 0.7 5.43 0.67 5.43 0.55 1.53 0.78 1.66 1.05 3.5 0.42 2.38 0.75 1.18 0.36 4.38 1.19 2.49 0.79 0.45 0.55 0.98 0.33 1.1 0.6 1.21" stroke-dashoffset="0.21"/>
<path d="M1729.04 425.57A140.88 140.88 0 0 1 1663.3 418.95" stroke="#ee8676" stroke-opacity="0.31" stroke-dasharray="0.38 5.44 0.78 0.75 0.68 1.07 0.71 0.63 0.96 4.89 0.85 5.75 1.02 1.61 0.75 2.3 0.6 0.43 0.68 3.19 0.89 0.37 1.04 0.38 0.74 0.63 0.54 0.75 0.83 2.41 1.09 1.5 0.31 0.37 0.33 0.53 0.42 0.9 0.39 3.53 0.59 1.41 1 0.64 0.73 0.37 0.71 4.78 0.79 0.91 0.85 1.49 0.72 2.02" stroke-dashoffset="2.13"/>
<path d="M1656.4 416.33A140.88 140.88 0 0 1 1605.05 380.09" stroke="#ee8676" stroke-opacity="0.31" stroke-dasharray="1.1 6.7 1.16 3.13 0.9 3.03 0.43 0.67 1.05 1.27 0.27 2.62 0.38 0.84 1.13 0.66 1.04 0.83 1 1.12 0.78 2.26 0.93 0.7 0.89 0.61 0.48 2.86 0.4 1.21 0.36 1.78 0.42 1.06 1.18 1.3 0.73 0.36 0.5 0.49 0.84 0.58 0.42 0.56 0.95 2.1 0.53 0.94 0.51 1.65 0.79 0.54 0.4 1.97 0.52 2.16" stroke-dashoffset="0.53"/>
<path d="M1600.27 374.47A140.88 140.88 0 0 1 1573.33 320.59" stroke="#ee8676" stroke-opacity="0.31" stroke-dasharray="0.34 0.42 1.06 1.61 0.27 1.05 0.85 0.72 1.04 0.31 0.75 1.75 0.43 7.69 0.77 0.54 0.97 0.35 0.9 3.36 0.86 0.34 0.31 3.31 1.05 0.83 1.13 3.15 0.35 3.98 0.26 0.97 0.45 0.7 0.72 0.38 1.17 0.7 0.9 1.04 1.12 1.7 0.72 2.73 0.78 1.32 0.41 3.03 0.85 1.36" stroke-dashoffset="2.97"/>
<path d="M1571.71 313.4A140.88 140.88 0 0 1 1570.66 264.54" stroke="#ee8676" stroke-opacity="0.31" stroke-dasharray="0.69 2.6 0.41 1.06 0.85 0.81 1.2 8.21 0.86 2.46 0.51 2.81 1.07 1.34 0.79 2.11 0.49 0.38 0.42 1.57 0.85 3.59 0.5 0.61 0.65 0.6 0.5 1.44 0.9 0.49 0.42 1.38 0.75 0.63 0.88 1.71 1.16 5.53" stroke-dashoffset="1.88"/>
<path d="M1571.98 257.28A140.88 140.88 0 0 1 1590.31 211.54" stroke="#ee8676" stroke-opacity="0.31" stroke-dasharray="0.33 1.56 0.51 0.86 0.32 2.3 0.87 0.85 0.47 8.61 0.78 2.33 0.48 5.15 0.93 1.51 0.36 1.28 0.27 0.7 0.99 0.5 0.45 1.01 1.17 0.61 0.65 1.59 0.29 1.71 0.32 0.95 0.56 10.23" stroke-dashoffset="1.31"/>
<path d="M1594.37 205.38A140.88 140.88 0 0 1 1639.67 163.87" stroke="#ee8676" stroke-opacity="0.31" stroke-dasharray="0.53 0.98 0.54 0.6 0.55 2.3 0.58 0.74 0.29 2.93 0.53 0.84 1.06 6.21 0.77 0.42 1.04 2.75 0.27 0.88 1.04 1.4 0.42 7.43 0.45 0.64 0.91 7.66 0.92 0.33 0.27 0.71 0.88 5.74 0.36 2.18 0.89 0.35 1.11 0.94 0.61 2.97" stroke-dashoffset="1.63"/>
<path d="M1646.16 160.36A140.88 140.88 0 0 1 1702.53 145.31" stroke="#ee8676" stroke-opacity="0.31" stroke-dasharray="0.84 0.4 0.84 0.57 1.03 2.83 0.87 2.06 1.18 3.3 0.93 1.06 0.26 17.4 0.31 0.37 0.82 8.57 0.67 0.7 0.27 0.6 0.59 1.03 0.51 3.89 1.2 6.82" stroke-dashoffset="0.59"/>
<path d="M1709.9 145.12A140.88 140.88 0 0 1 1795.78 174.32" stroke="#fff" stroke-opacity="0.5" stroke-dasharray="0.77 0.71 0.6 1.9 0.49 3.83 0.41 4.03 0.82 2.58 0.31 0.6 0.85 7.62 0.43 2.83 0.82 4.97 0.35 0.83 0.3 3.02 0.52 3.05 0.37 2.64 0.45 1.63 0.69 7.22 0.39 3.81 0.29 0.75 0.77 0.5 0.88 5.35 0.41 3.12 0.74 9.05 0.62 1.36 0.91 1.01 0.93 1.34 0.56 4.45" stroke-dashoffset="2.27"/>
<path d="M1801.51 178.97A140.88 140.88 0 0 1 1843.7 241.9" stroke="#fff" stroke-opacity="0.5" stroke-dasharray="0.39 2.77 0.99 1.48 0.67 2.75 0.79 1.44 0.54 0.75 0.72 1.22 0.84 0.4 0.82 0.7 0.9 4.28 0.52 0.54 0.41 0.84 0.98 4.08 0.27 0.32 0.67 1.69 0.66 4.53 0.88 0.63 0.98 1.71 0.6 0.68 0.43 0.77 0.46 2.11 0.44 1.02 0.33 0.46 0.93 1.63 0.59 0.62 0.99 0.33 0.84 0.4 0.47 1.83 0.59 3.1 0.68 3.08 0.3 1.1 0.46 1.81 0.56 0.56 0.35 0.44 0.29 2.7 0.97 2.37" stroke-dashoffset="0.59"/>
<path d="M1845.82 248.96A140.88 140.88 0 0 1 1845.07 325.7" stroke="#fff" stroke-opacity="0.5" stroke-dasharray="0.71 1.87 0.46 4.05 0.45 1.14 0.28 0.94 0.94 1.8 0.8 1.85 0.45 1.31 0.63 1.15 0.64 0.36 0.54 0.58 0.61 2.04 0.93 5.04 0.92 1.65 0.47 4.62 0.34 1.4 0.3 4.15 0.81 6.3 0.39 4.47 0.77 2.11 0.58 4.07 0.6 7.01 0.94 1.35 0.65 1.59 0.93 4.73" stroke-dashoffset="1.2"/>
<path d="M1842.81 332.72A140.88 140.88 0 0 1 1800.11 394.21" stroke="#fff" stroke-opacity="0.5" stroke-dasharray="0.53 1.18 0.75 2.82 0.72 1.99 0.75 0.31 0.61 3.02 0.8 4.18 0.42 6.31 0.98 2.53 0.87 0.8 0.39 0.86 0.65 5.45 0.51 6.53 0.87 0.4 0.27 14.5 0.62 3.77 0.9 1.13 0.26 4.93 0.95 1.47 0.75 0.33 0.95 2.47" stroke-dashoffset="2.93"/>
<path d="M1794.32 398.79A140.88 140.88 0 0 1 1736.32 424.38" stroke="#fff" stroke-opacity="0.5" stroke-dasharray="0.77 1.32 0.38 1.96 0.9 2.06 0.65 0.87 0.36 0.93 0.48 1.77 0.96 1.03 0.42 3.41 0.95 0.92 0.47 1.53 0.3 0.52 0.66 0.95 0.43 4.07 0.61 2.21 0.74 3.42 0.94 8.38 0.33 3.4 0.27 0.59 0.44 0.62 0.36 0.91 0.86 3.85 0.63 2.14 0.81 2.36 0.31 1.72" stroke-dashoffset="0.61"/>
<path d="M1729.04 425.57A140.88 140.88 0 0 1 1663.3 418.95" stroke="#fff" stroke-opacity="0.5" stroke-dasharray="0.6 9.04 0.4 1.2 0.69 2.78 0.48 1.46 0.62 6.41 0.29 5.38 0.67 6 0.54 2.72 0.27 0.88 0.74 1.22 0.64 9.66 0.67 2.84 0.67 0.97 0.99 1.4 0.27 1.57 0.56 0.83 0.57 0.47 0.96 1.99" stroke-dashoffset="0.86"/>
<path d="M1656.4 416.33A140.88 140.88 0 0 1 1605.05 380.09" stroke="#fff" stroke-opacity="0.5" stroke-dasharray="0.66 2.36 0.54 4.11 0.59 6.19 0.82 3.01 0.37 3.1 0.98 4.16 0.28 1.07 0.25 2.82 0.91 2.97 0.75 2.1 0.8 2.12 0.85 0.69 0.6 2.58 0.3 2.2 0.94 0.51 0.8 3.22 0.92 8.1 0.73 2.39" stroke-dashoffset="1.42"/>
<path d="M1600.27 374.47A140.88 140.88 0 0 1 1573.33 320.59" stroke="#fff" stroke-opacity="0.5" stroke-dasharray="0.58 2.42 0.5 3.99 0.66 1.61 0.64 3.14 0.88 4.18 0.78 0.94 0.25 0.6 0.31 1.93 0.31 1.77 0.82 1.64 0.9 1.33 0.61 1.01 0.35 2.28 0.34 0.67 0.47 3.3 0.98 0.86 0.43 8.34 0.69 3.96 1 2.78 0.44 9.51" stroke-dashoffset="2.68"/>
<path d="M1571.71 313.4A140.88 140.88 0 0 1 1570.66 264.54" stroke="#fff" stroke-opacity="0.5" stroke-dasharray="0.25 8.21 0.74 0.91 0.61 1.13 0.83 1.47 0.31 5.36 0.5 0.74 0.77 0.62 0.7 1.65 0.34 7.42 0.77 0.43 0.92 2.68 0.87 3.7 0.38 1.17 0.38 4.13 0.96 2.26" stroke-dashoffset="2"/>
<path d="M1571.98 257.28A140.88 140.88 0 0 1 1590.31 211.54" stroke="#fff" stroke-opacity="0.5" stroke-dasharray="0.98 1.99 0.58 1.06 0.99 0.6 0.39 4.68 0.27 0.81 0.65 0.92 0.54 0.36 0.75 0.48 0.47 0.55 0.77 0.86 0.67 0.38 0.67 1.26 0.93 0.8 0.47 4.97 0.3 1.85 0.61 1.09 0.38 1.89 0.27 0.32 0.46 1.39 0.44 3.15 0.56 2.46 0.69 3.15 0.95 2.19" stroke-dashoffset="2.08"/>
<path d="M1594.37 205.38A140.88 140.88 0 0 1 1639.67 163.87" stroke="#fff" stroke-opacity="0.5" stroke-dasharray="0.67 0.48 0.88 2.03 0.28 3.42 0.63 7.07 0.56 1.77 0.92 6.36 0.83 1.65 0.57 3.36 0.92 1.71 0.78 2.2 0.66 0.85 0.46 0.98 0.99 0.36 0.41 0.82 0.86 2.86 0.48 0.56 0.75 3.46 0.73 3.19 0.7 0.37 0.85 5.01" stroke-dashoffset="0.5"/>
<path d="M1646.16 160.36A140.88 140.88 0 0 1 1702.53 145.31" stroke="#fff" stroke-opacity="0.5" stroke-dasharray="0.54 9.76 0.98 4.21 0.88 0.69 0.91 4.28 0.4 5.89 0.86 6 0.92 0.52 0.38 4.07 0.38 1.28 0.84 4.38 0.55 1.52 0.77 12.82" stroke-dashoffset="1.88"/>
</g>
<g stroke-width="21.6">
<path d="M1709.9 172.16A113.84 113.84 0 0 1 1779.3 195.76M1783.93 199.52A113.84 113.84 0 0 1 1818.02 250.36M1819.74 256.07A113.84 113.84 0 0 1 1819.13 318.08M1817.3 323.75A113.84 113.84 0 0 1 1782.79 373.44M1778.12 377.14A113.84 113.84 0 0 1 1731.25 397.82M1725.37 398.78A113.84 113.84 0 0 1 1672.24 393.43M1666.67 391.31A113.84 113.84 0 0 1 1625.17 362.03M1621.31 357.49A113.84 113.84 0 0 1 1599.54 313.95M1598.23 308.14A113.84 113.84 0 0 1 1597.39 268.66M1598.45 262.79A113.84 113.84 0 0 1 1613.26 225.83M1616.54 220.85A113.84 113.84 0 0 1 1653.15 187.31M1658.4 184.48A113.84 113.84 0 0 1 1703.94 172.32" stroke="#efe3e0"/>
<path d="M1709.9 172.16A113.84 113.84 0 0 1 1779.3 195.76" stroke="#dcc1bb" stroke-opacity="0.12" stroke-dasharray="3.41 1.67 2.53 5.03 5.46 1.56 5.59 4.94 4.65 4.04 3.76 0.38 4.46 5.72 6.38 18.34" stroke-dashoffset="1.94"/>
<path d="M1783.93 199.52A113.84 113.84 0 0 1 1818.02 250.36" stroke="#dcc1bb" stroke-opacity="0.12" stroke-dasharray="2.38 10.09 3.78 16.84 6.69 0.77 1.79 0.55 5.21 3.69 4.93 2.26 4.76 0.8" stroke-dashoffset="0.62"/>
<path d="M1819.74 256.07A113.84 113.84 0 0 1 1819.13 318.08" stroke="#dcc1bb" stroke-opacity="0.12" stroke-dasharray="5.54 1.6 2.13 5.54 6.91 14.01 6.35 6.55 1.54 1.15 4.7 4.1 6.1 0.46" stroke-dashoffset="1.88"/>
<path d="M1817.3 323.75A113.84 113.84 0 0 1 1782.79 373.44" stroke="#dcc1bb" stroke-opacity="0.12" stroke-dasharray="1.9 7.33 1.99 3.64 5.75 21.33 5.88 7.92 3.14 5.39" stroke-dashoffset="1.62"/>
<path d="M1778.12 377.14A113.84 113.84 0 0 1 1731.25 397.82" stroke="#dcc1bb" stroke-opacity="0.12" stroke-dasharray="4.22 4.83 3.95 2.68 5.7 5.5 6.86 13.38 5.9 0.88" stroke-dashoffset="1.51"/>
<path d="M1725.37 398.78A113.84 113.84 0 0 1 1672.24 393.43" stroke="#dcc1bb" stroke-opacity="0.12" stroke-dasharray="4.23 8.1 6.5 1.4 1.56 10.49 6.87 2.36 4.81 2.73 3.61 5.37" stroke-dashoffset="2.08"/>
<path d="M1666.67 391.31A113.84 113.84 0 0 1 1625.17 362.03" stroke="#dcc1bb" stroke-opacity="0.12" stroke-dasharray="6.46 2.57 4.22 3.3 6.92 3.94 6.55 17.61" stroke-dashoffset="0.09"/>
<path d="M1621.31 357.49A113.84 113.84 0 0 1 1599.54 313.95" stroke="#dcc1bb" stroke-opacity="0.12" stroke-dasharray="5.74 0.89 4.24 5.27 1.93 4.62 5.3 2.44 4.46 2.82 2.34 1.77 6.68 5.36" stroke-dashoffset="1.62"/>
<path d="M1598.23 308.14A113.84 113.84 0 0 1 1597.39 268.66" stroke="#dcc1bb" stroke-opacity="0.12" stroke-dasharray="5.93 9.36 5.66 2.86 4.47 2.25 1.85 13.23" stroke-dashoffset="0.24"/>
<path d="M1598.45 262.79A113.84 113.84 0 0 1 1613.26 225.83" stroke="#dcc1bb" stroke-opacity="0.12" stroke-dasharray="3.55 9.85 3.21 12.42 1.62 1.11 3.96 5.35" stroke-dashoffset="2.38"/>
<path d="M1616.54 220.85A113.84 113.84 0 0 1 1653.15 187.31" stroke="#dcc1bb" stroke-opacity="0.12" stroke-dasharray="6.43 8.86 2.52 24.25 1.75 3.44 3.42 0.42" stroke-dashoffset="0.61"/>
<path d="M1658.4 184.48A113.84 113.84 0 0 1 1703.94 172.32" stroke="#dcc1bb" stroke-opacity="0.12" stroke-dasharray="6.97 17.84 3.39 46.06" stroke-dashoffset="2.22"/>
<path d="M1709.9 172.16A113.84 113.84 0 0 1 1779.3 195.76" stroke="#dcc1bb" stroke-opacity="0.3" stroke-dasharray="0.28 1.87 0.44 0.85 0.93 0.7 0.58 0.31 0.56 0.92 0.36 0.47 0.64 0.44 1.14 0.81 0.6 0.41 1.02 0.66 0.32 1.09 1.12 4.55 0.69 1.78 0.32 4.27 0.97 0.78 1.05 0.6 0.71 0.87 0.79 0.79 0.77 0.8 0.26 0.5 1 1.31 0.74 2.13 0.49 0.65 0.64 2.67 0.95 1.35 0.83 0.8 1.15 2.04 1.01 1.08 0.8 2.41 0.76 2.73 0.51 2.91 0.55 1.53 0.39 1.18 1.09 0.35 0.43 1.63 0.87 2.27" stroke-dashoffset="2.06"/>
<path d="M1783.93 199.52A113.84 113.84 0 0 1 1818.02 250.36" stroke="#dcc1bb" stroke-opacity="0.3" stroke-dasharray="0.93 1.87 0.4 1.64 0.52 0.31 0.73 6.56 0.69 2.73 0.84 0.36 0.77 7.88 0.87 0.9 1.11 2.18 1.14 3.51 0.8 1.37 0.75 0.95 1.06 0.53 1.19 1 0.67 1.9 0.55 1.89 0.3 3.76 0.35 3.81 1.07 2.93 0.96 0.65" stroke-dashoffset="1.7"/>
<path d="M1819.74 256.07A113.84 113.84 0 0 1 1819.13 318.08" stroke="#dcc1bb" stroke-opacity="0.3" stroke-dasharray="0.31 2.63 1 0.7 0.67 0.46 0.88 2.34 0.31 1.91 1.08 0.63 1.11 0.84 0.27 0.45 0.97 0.66 1.07 1.27 0.33 3.18 0.56 0.54 0.25 0.91 0.69 1.46 0.8 0.44 0.25 4.01 0.65 2.48 1.1 1.83 0.95 0.72 0.45 1.52 1.19 6.33 0.47 2.01 0.53 1.06 0.52 9.47" stroke-dashoffset="1.15"/>
<path d="M1817.3 323.75A113.84 113.84 0 0 1 1782.79 373.44" stroke="#dcc1bb" stroke-opacity="0.3" stroke-dasharray="0.69 0.45 1.06 0.45 1.04 0.77 0.47 0.37 0.59 5.6 0.59 0.99 0.96 0.74 0.97 6.08 1.06 0.37 0.99 2.95 1 1.77 0.35 2.22 0.8 1.43 0.98 0.64 0.61 2 1.1 8.22 1.09 0.82 0.65 1.56 0.69 0.44 0.6 4.85 0.61 3.89" stroke-dashoffset="2.67"/>
<path d="M1778.12 377.14A113.84 113.84 0 0 1 1731.25 397.82" stroke="#dcc1bb" stroke-opacity="0.3" stroke-dasharray="0.74 4.53 1.18 0.32 0.81 5.53 0.54 1.07 0.39 3.93 0.79 1.82 0.82 4.17 0.74 1.66 0.67 1 1.17 2.07 0.72 0.46 0.86 0.38 0.7 0.7 0.62 0.72 0.46 1.28 0.36 0.79 0.93 0.48 1.05 1.2 0.45 2.82 0.61 1.08 0.25 0.63 1.14 1.46" stroke-dashoffset="1.31"/>
<path d="M1725.37 398.78A113.84 113.84 0 0 1 1672.24 393.43" stroke="#dcc1bb" stroke-opacity="0.3" stroke-dasharray="0.81 0.46 0.39 3.67 0.85 0.95 1.07 0.89 0.67 2.91 1.06 0.86 1.18 0.7 0.5 1.53 0.78 1.62 0.69 2.87 0.49 1.27 0.89 4.06 0.49 1.05 0.7 0.83 0.74 5.08 0.47 3.32 1.09 1.44 0.58 0.51 0.77 3.47 0.61 0.8 1.04 0.59" stroke-dashoffset="1.69"/>
<path d="M1666.67 391.31A113.84 113.84 0 0 1 1625.17 362.03" stroke="#dcc1bb" stroke-opacity="0.3" stroke-dasharray="0.98 1.51 0.53 1.85 0.57 2.18 1.01 3.05 0.99 0.52 0.51 2.17 0.85 4.1 0.67 0.41 0.32 0.38 0.76 0.96 0.29 4.36 0.31 1.03 0.99 2.26 0.46 5.87 0.67 3.24 0.65 2.07 1.16 0.4 0.79 1.82 1.17 1.86" stroke-dashoffset="0.79"/>
<path d="M1621.31 357.49A113.84 113.84 0 0 1 1599.54 313.95" stroke="#dcc1bb" stroke-opacity="0.3" stroke-dasharray="0.38 1.67 0.41 1.03 1.16 0.64 0.44 2.18 0.73 4.36 0.56 2.71 0.64 9.06 1.12 0.67 0.6 1.39 0.7 1.82 0.91 0.57 0.87 3.25 0.64 0.83 0.49 1.89 0.36 0.7 0.54 2.28 0.96 1.63 0.39 1.04" stroke-dashoffset="0.18"/>
<path d="M1598.23 308.14A113.84 113.84 0 0 1 1597.39 268.66" stroke="#dcc1bb" stroke-opacity="0.3" stroke-dasharray="1.2 1.35 1.05 0.78 0.51 0.56 0.62 2.27 0.77 0.96 0.37 0.84 0.98 0.63 1.19 3.39 0.41 0.3 1.03 0.37 0.89 1.49 0.64 1.78 0.27 2.66 1.05 0.37 0.52 3.41 0.44 0.57 1.01 8.12" stroke-dashoffset="2.96"/>
<path d="M1598.45 262.79A113.84 113.84 0 0 1 1613.26 225.83" stroke="#dcc1bb" stroke-opacity="0.3" stroke-dasharray="0.43 0.54 0.26 0.51 0.56 5.78 0.97 0.64 0.63 1.65 0.4 0.4 0.43 0.91 0.29 6.55 1.17 1.39 0.66 1.67 1.04 1.2 1.12 5.64 0.51 1.77 1.16 0.92 1.19 1.48" stroke-dashoffset="2.01"/>
<path d="M1616.54 220.85A113.84 113.84 0 0 1 1653.15 187.31" stroke="#dcc1bb" stroke-opacity="0.3" stroke-dasharray="0.34 1.16 0.87 0.69 1.17 1.16 0.79 2.86 0.55 2.36 0.95 2.84 0.55 1 0.8 1.31 0.7 1.72 0.97 0.56 0.45 0.53 0.74 0.69 1.13 0.69 0.68 2.78 0.52 0.44 0.47 2.37 0.58 5.24 0.4 0.91 0.72 0.99 0.53 0.49 0.73 2.65 0.6 7.35" stroke-dashoffset="1.87"/>
<path d="M1658.4 184.48A113.84 113.84 0 0 1 1703.94 172.32" stroke="#dcc1bb" stroke-opacity="0.3" stroke-dasharray="0.59 1.07 0.51 0.47 0.7 1.6 1.01 0.44 0.28 4.35 0.59 2.49 1.08 0.86 0.42 2.88 0.54 1.49 0.25 1.79 0.67 0.7 0.43 4.74 1.1 0.93 0.55 1 0.58 1.12 1.16 0.33 0.6 1.65 0.83 0.99 0.94 1.25 0.39 4.41" stroke-dashoffset="0.62"/>
<path d="M1709.9 172.16A113.84 113.84 0 0 1 1779.3 195.76" stroke="#fff" stroke-opacity="0.28" stroke-dasharray="0.78 6.4 0.38 3.55 0.83 1.28 0.94 0.64 0.64 9.17 0.64 5.1 0.55 2.7 0.61 3.15 0.8 3.22 0.82 0.85 0.74 3.94 0.81 0.75 0.66 0.33 0.98 2.7 0.43 2.42 0.48 2.17 0.84 4.79 0.99 2.78 0.65 1.97 0.36 0.38 0.92 8.69" stroke-dashoffset="2.49"/>
<path d="M1783.93 199.52A113.84 113.84 0 0 1 1818.02 250.36" stroke="#fff" stroke-opacity="0.28" stroke-dasharray="0.39 2.56 0.4 1.2 0.84 6.46 0.26 3.78 0.78 3.05 0.36 1.29 0.81 0.82 0.38 1.8 0.38 1 0.37 0.85 0.33 1.52 0.5 0.65 0.38 1.49 0.3 1.11 0.28 3.39 0.34 1.76 0.35 2.94 0.98 3.1 0.31 0.8 0.37 5.28 0.31 3.61 0.83 4.43" stroke-dashoffset="1.28"/>
<path d="M1819.74 256.07A113.84 113.84 0 0 1 1819.13 318.08" stroke="#fff" stroke-opacity="0.28" stroke-dasharray="0.56 1.3 0.74 1.82 0.78 1.62 0.88 2.4 0.45 1.56 0.42 6.01 0.29 1.48 0.57 2.44 0.33 2.86 0.35 1.05 0.48 0.48 1 0.44 0.93 2.96 0.95 2.37 0.66 1.66 0.66 1.22 0.38 2.32 0.85 9 0.93 2.44 0.4 2.18 0.37 4.82" stroke-dashoffset="2.27"/>
<path d="M1817.3 323.75A113.84 113.84 0 0 1 1782.79 373.44" stroke="#fff" stroke-opacity="0.28" stroke-dasharray="0.53 1.2 0.92 1.62 0.31 2.84 0.57 0.59 0.89 0.84 0.39 2.03 0.44 1.23 0.59 6.42 0.69 1.6 0.87 6.32 0.94 0.36 0.85 3.74 0.78 3.29 0.74 0.83 0.95 3.94 0.43 2.05 0.39 0.92 0.72 0.65 0.26 2.51 0.71 5.79" stroke-dashoffset="0.08"/>
<path d="M1778.12 377.14A113.84 113.84 0 0 1 1731.25 397.82" stroke="#fff" stroke-opacity="0.28" stroke-dasharray="0.48 0.59 0.94 4.07 0.36 1.77 0.77 2.53 0.61 2.08 0.41 0.45 0.37 1.93 0.36 5.26 0.47 0.33 0.73 2.81 0.81 1.66 0.94 2.89 0.95 3.94 0.46 1.6 0.4 2.6 0.54 1.72 0.53 0.75 0.69 3.28 0.51 0.62" stroke-dashoffset="1.84"/>
<path d="M1725.37 398.78A113.84 113.84 0 0 1 1672.24 393.43" stroke="#fff" stroke-opacity="0.28" stroke-dasharray="0.72 2.13 0.87 6.82 0.82 2.4 0.95 2.21 0.64 0.83 0.49 1.34 0.45 1.04 0.39 0.55 0.67 1.62 0.85 3.27 0.95 5.85 0.33 2.77 0.94 0.5 0.35 0.35 0.38 7.05 0.91 0.65 0.25 0.56 0.9 1.2 0.68 1.32" stroke-dashoffset="1.26"/>
<path d="M1666.67 391.31A113.84 113.84 0 0 1 1625.17 362.03" stroke="#fff" stroke-opacity="0.28" stroke-dasharray="0.73 6.79 0.3 1.55 0.79 3.86 0.72 1.06 0.27 0.9 0.67 5.48 0.69 2.39 0.54 3.49 0.98 1.78 0.73 2.04 0.44 5.76 0.31 1.55 0.94 2.25 0.54 0.84 0.53 3.47" stroke-dashoffset="2.04"/>
<path d="M1621.31 357.49A113.84 113.84 0 0 1 1599.54 313.95" stroke="#fff" stroke-opacity="0.28" stroke-dasharray="0.72 7.2 0.53 1.07 0.72 6.41 0.78 4.78 0.87 0.35 0.73 0.95 0.76 3.86 0.85 0.79 0.53 0.69 0.87 3.11 0.67 2.13 0.8 1.69 0.38 7.38" stroke-dashoffset="2.32"/>
<path d="M1598.23 308.14A113.84 113.84 0 0 1 1597.39 268.66" stroke="#fff" stroke-opacity="0.28" stroke-dasharray="0.62 2.2 0.41 0.91 0.29 2.81 0.86 1 0.4 1.6 0.46 3.55 0.44 0.99 0.55 4.81 0.78 0.58 0.35 0.42 0.75 2.74 0.37 1.06 0.89 0.42 0.8 4.35 0.74 1.18 0.8 6.17" stroke-dashoffset="1.67"/>
<path d="M1598.45 262.79A113.84 113.84 0 0 1 1613.26 225.83" stroke="#fff" stroke-opacity="0.28" stroke-dasharray="0.72 2.41 0.95 8.68 0.75 1.84 0.34 1.84 0.57 2.92 0.61 0.94 0.4 3.48 0.68 3.68 0.39 1.66 0.34 0.74 0.51 1.04 0.97 0.56 0.63 0.52 0.91 0.55 0.89 1.17" stroke-dashoffset="1.07"/>
<path d="M1616.54 220.85A113.84 113.84 0 0 1 1653.15 187.31" stroke="#fff" stroke-opacity="0.28" stroke-dasharray="0.32 2.56 0.3 2.84 0.65 1.04 0.74 3.14 0.3 5.92 0.91 3.98 0.94 1.27 0.35 1.6 0.94 2.92 0.33 3.49 0.86 1.72 0.74 5.02 0.57 3.88 0.68 3.84" stroke-dashoffset="2.54"/>
<path d="M1658.4 184.48A113.84 113.84 0 0 1 1703.94 172.32" stroke="#fff" stroke-opacity="0.28" stroke-dasharray="0.36 0.78 0.69 1.28 0.47 0.3 0.58 14.44 0.56 0.86 0.53 2.41 0.27 0.73 0.64 1.34 0.77 0.62 0.3 5.9 0.81 2.67 0.7 0.79 0.36 1.65 0.76 1.73 0.63 0.49 0.96 0.93 0.54 4.06" stroke-dashoffset="2.84"/>
</g>
<g stroke-width="21.6">
<path d="M1709.9 199.2A86.8 86.8 0 0 1 1762.81 217.19M1766.34 220.06A86.8 86.8 0 0 1 1792.34 258.83M1793.65 263.18A86.8 86.8 0 0 1 1793.18 310.46M1791.79 314.78A86.8 86.8 0 0 1 1765.48 352.67M1761.91 355.49A86.8 86.8 0 0 1 1726.18 371.26M1721.69 372A86.8 86.8 0 0 1 1681.19 367.91M1676.94 366.3A86.8 86.8 0 0 1 1645.3 343.97M1642.35 340.51A86.8 86.8 0 0 1 1625.76 307.31M1624.76 302.88A86.8 86.8 0 0 1 1624.11 272.78M1624.92 268.3A86.8 86.8 0 0 1 1636.22 240.12M1638.72 236.33A86.8 86.8 0 0 1 1666.63 210.75M1670.63 208.59A86.8 86.8 0 0 1 1705.36 199.32" stroke="#f3e2d1"/>
<path d="M1709.9 199.2A86.8 86.8 0 0 1 1762.81 217.19" stroke="#e6c5a3" stroke-opacity="0.12" stroke-dasharray="3.52 3.3 6.12 3.65 2.15 1.52 3.36 0.31 1.85 11.51 6.09 9.12 3.17 2.44" stroke-dashoffset="2.82"/>
<path d="M1766.34 220.06A86.8 86.8 0 0 1 1792.34 258.83" stroke="#e6c5a3" stroke-opacity="0.12" stroke-dasharray="1.79 3.14 3.5 7.1 5.27 25.95 6.81 4.97" stroke-dashoffset="2.75"/>
<path d="M1793.65 263.18A86.8 86.8 0 0 1 1793.18 310.46" stroke="#e6c5a3" stroke-opacity="0.12" stroke-dasharray="4.79 1.46 4.3 1.86 6.5 8.39 2.06 5.54 5.04 7.67 2.3 4.66" stroke-dashoffset="0.33"/>
<path d="M1791.79 314.78A86.8 86.8 0 0 1 1765.48 352.67" stroke="#e6c5a3" stroke-opacity="0.12" stroke-dasharray="3.85 2.54 3.46 2.92 4.33 0.89 4.4 0.69 5.35 0.48 4.16 0.32 5.8 14.59" stroke-dashoffset="2.24"/>
<path d="M1761.91 355.49A86.8 86.8 0 0 1 1726.18 371.26" stroke="#e6c5a3" stroke-opacity="0.12" stroke-dasharray="4.01 3.4 5.65 0.7 3.45 3.57 2.45 3.36 3.43 1.05 4.74 3.16 2.19 4.13" stroke-dashoffset="0.68"/>
<path d="M1721.69 372A86.8 86.8 0 0 1 1681.19 367.91" stroke="#e6c5a3" stroke-opacity="0.12" stroke-dasharray="4.63 2.22 5.45 4.86 1.51 2.35 5.67 2.36 5.74 10.2" stroke-dashoffset="2.78"/>
<path d="M1676.94 366.3A86.8 86.8 0 0 1 1645.3 343.97" stroke="#e6c5a3" stroke-opacity="0.12" stroke-dasharray="5.63 3.08 4.14 0.75 3.12 1.82 5.89 7.98 4.97 7.51" stroke-dashoffset="1.29"/>
<path d="M1642.35 340.51A86.8 86.8 0 0 1 1625.76 307.31" stroke="#e6c5a3" stroke-opacity="0.12" stroke-dasharray="5.02 2.5 1.58 4 6.33 3.74 6.46 2.74 2.9 1.17 3.87 2.15" stroke-dashoffset="0.33"/>
<path d="M1624.76 302.88A86.8 86.8 0 0 1 1624.11 272.78" stroke="#e6c5a3" stroke-opacity="0.12" stroke-dasharray="3.22 15.6 5.79 3.03 2.79 3.73" stroke-dashoffset="1"/>
<path d="M1624.92 268.3A86.8 86.8 0 0 1 1636.22 240.12" stroke="#e6c5a3" stroke-opacity="0.12" stroke-dasharray="4.91 1.95 4.92 7.58 3.04 1.55 4.62 4.55" stroke-dashoffset="2.64"/>
<path d="M1638.72 236.33A86.8 86.8 0 0 1 1666.63 210.75" stroke="#e6c5a3" stroke-opacity="0.12" stroke-dasharray="5.97 3.4 4.22 8.05 4.66 0.94 3.6 0.91 5.19 7.88" stroke-dashoffset="1.91"/>
<path d="M1670.63 208.59A86.8 86.8 0 0 1 1705.36 199.32" stroke="#e6c5a3" stroke-opacity="0.12" stroke-dasharray="1.8 2.9 1.6 6.05 5.64 1.42 5.44 0.55 2.3 13.36" stroke-dashoffset="0.65"/>
<path d="M1709.9 199.2A86.8 86.8 0 0 1 1762.81 217.19" stroke="#e6c5a3" stroke-opacity="0.3" stroke-dasharray="0.87 4.93 0.98 1.33 0.66 1.17 0.4 2.91 0.74 2.75 0.71 0.76 0.5 0.51 0.93 1.48 0.62 6.62 0.6 1.05 0.46 0.85 0.49 1.52 0.65 1.38 1.04 1.03 0.83 1.52 1.15 1.84 1.13 1.06 0.43 0.7 1.03 0.51 0.53 3.5 0.31 2.37 0.62 0.73 1.15 3.64" stroke-dashoffset="0.64"/>
<path d="M1766.34 220.06A86.8 86.8 0 0 1 1792.34 258.83" stroke="#e6c5a3" stroke-opacity="0.3" stroke-dasharray="0.38 1.68 0.32 5.26 0.56 0.95 0.3 1.44 0.78 0.53 0.92 1.52 1.03 4.59 1.08 1.28 0.58 2.02 0.64 1.33 0.48 0.57 0.35 2.01 1.12 7.14 0.5 0.69 0.33 0.49 1.03 1.02 0.6 0.67 0.92 0.66 1.16 0.34 1.13 1.2" stroke-dashoffset="1.33"/>
<path d="M1793.65 263.18A86.8 86.8 0 0 1 1793.18 310.46" stroke="#e6c5a3" stroke-opacity="0.3" stroke-dasharray="0.73 0.76 1.12 1.54 0.77 3.79 0.88 3.4 0.36 0.9 0.45 1.52 0.5 4.17 0.45 1.14 0.63 0.95 0.92 1.45 1.01 1.04 1.04 3.35 0.63 5 1.13 0.73 0.77 3.78 0.47 3.74" stroke-dashoffset="0.91"/>
<path d="M1791.79 314.78A86.8 86.8 0 0 1 1765.48 352.67" stroke="#e6c5a3" stroke-opacity="0.3" stroke-dasharray="1.03 1.11 1.15 3.86 0.61 0.32 0.84 1.72 0.53 4.51 0.65 1.58 0.46 2.53 0.76 0.57 1.14 0.85 0.38 2.48 0.65 3.08 0.65 1.67 0.93 3.82 0.41 0.5 0.71 0.58 1 1.01 0.59 0.45 0.51 1.07 0.5 0.7 0.52 2.49" stroke-dashoffset="0.37"/>
<path d="M1761.91 355.49A86.8 86.8 0 0 1 1726.18 371.26" stroke="#e6c5a3" stroke-opacity="0.3" stroke-dasharray="0.73 2.08 0.27 3.21 0.97 0.78 0.31 0.43 1.08 0.37 0.83 1.8 0.88 1.31 0.68 1.36 0.97 0.48 0.51 1.46 0.64 1.91 0.62 6.15 0.45 4.62 0.27 3.15 0.35 0.88" stroke-dashoffset="1.27"/>
<path d="M1721.69 372A86.8 86.8 0 0 1 1681.19 367.91" stroke="#e6c5a3" stroke-opacity="0.3" stroke-dasharray="1.11 0.54 0.73 2.96 0.71 2.48 1.2 3.06 0.49 0.97 0.77 2.66 1.18 3.5 0.99 1.9 0.93 3.79 1.01 0.62 0.46 1.19 1.17 0.94 1.02 0.89 0.92 3.79" stroke-dashoffset="2.97"/>
<path d="M1676.94 366.3A86.8 86.8 0 0 1 1645.3 343.97" stroke="#e6c5a3" stroke-opacity="0.3" stroke-dasharray="0.79 1.84 0.41 3.53 0.45 0.53 1.07 1.56 0.69 0.66 1.13 2.27 1.07 1.14 0.71 1.52 0.34 0.33 0.81 1.05 1.05 2.75 0.89 1.75 0.48 1.78 0.88 0.81 0.69 0.42 0.89 1.26 0.46 2.41 1.01 0.72" stroke-dashoffset="0.02"/>
<path d="M1642.35 340.51A86.8 86.8 0 0 1 1625.76 307.31" stroke="#e6c5a3" stroke-opacity="0.3" stroke-dasharray="0.8 5.46 0.33 3.06 0.83 2.37 0.26 1.16 0.29 5.31 1.19 2.42 0.81 2.83 0.37 7.38 0.62 1.25 0.26 0.44" stroke-dashoffset="2.78"/>
<path d="M1624.76 302.88A86.8 86.8 0 0 1 1624.11 272.78" stroke="#e6c5a3" stroke-opacity="0.3" stroke-dasharray="0.44 1.49 0.94 2.53 0.67 2.3 1.04 0.69 0.62 1.76 0.91 1.73 0.28 0.78 0.59 3.72 0.84 0.84 0.79 0.9 1.17 2.32 1.09 1.14 0.37 2.94" stroke-dashoffset="0.54"/>
<path d="M1624.92 268.3A86.8 86.8 0 0 1 1636.22 240.12" stroke="#e6c5a3" stroke-opacity="0.3" stroke-dasharray="1.06 2.78 1.07 1.74 0.86 0.35 0.52 0.52 0.31 1.59 0.31 1.46 0.4 0.65 1.01 7.65 0.85 1.92 0.42 1.24 1.1 0.43 0.61 0.77 0.46 0.58" stroke-dashoffset="2.2"/>
<path d="M1638.72 236.33A86.8 86.8 0 0 1 1666.63 210.75" stroke="#e6c5a3" stroke-opacity="0.3" stroke-dasharray="0.57 7.49 0.56 2.39 0.6 2.8 0.31 7.3 0.49 2.59 0.56 0.33 0.76 0.53 0.99 0.71 0.3 1.62 0.81 2.04 0.93 0.39 1.11 3.1" stroke-dashoffset="2.24"/>
<path d="M1670.63 208.59A86.8 86.8 0 0 1 1705.36 199.32" stroke="#e6c5a3" stroke-opacity="0.3" stroke-dasharray="0.26 0.88 0.44 3.94 0.51 1.16 0.45 2.53 0.36 1.37 0.97 1.06 0.46 1.52 0.43 2.51 1.02 0.76 0.3 1.09 0.26 3.51 1.16 1.83 0.75 1.81 0.59 1.62 0.83 3.5" stroke-dashoffset="0.89"/>
<path d="M1709.9 199.2A86.8 86.8 0 0 1 1762.81 217.19" stroke="#fff" stroke-opacity="0.28" stroke-dasharray="0.36 1.65 0.29 1.16 0.63 4.74 0.69 10.3 0.84 9.94 0.91 1.22 0.38 3.05 0.8 1.5 0.87 2.68 0.86 0.3 0.88 5.16 0.43 4.51 0.45 4.66" stroke-dashoffset="2.5"/>
<path d="M1766.34 220.06A86.8 86.8 0 0 1 1792.34 258.83" stroke="#fff" stroke-opacity="0.28" stroke-dasharray="0.87 0.53 0.4 2.13 0.43 1.4 0.97 5.89 0.37 0.72 0.83 2.23 0.26 7.72 0.39 0.51 0.91 4.33 0.33 2.28 0.96 12.97" stroke-dashoffset="2.72"/>
<path d="M1793.65 263.18A86.8 86.8 0 0 1 1793.18 310.46" stroke="#fff" stroke-opacity="0.28" stroke-dasharray="0.88 6.65 0.55 3.15 0.89 4.25 0.7 4.51 0.82 6.18 0.93 5.05 0.39 1.26 0.62 0.31 0.46 5.02 0.98 1.85 0.64 0.57 0.65 6.5" stroke-dashoffset="0.93"/>
<path d="M1791.79 314.78A86.8 86.8 0 0 1 1765.48 352.67" stroke="#fff" stroke-opacity="0.28" stroke-dasharray="0.74 4.2 0.59 1.6 0.79 0.75 0.5 0.9 0.3 0.94 0.87 3.48 0.55 0.58 0.63 1.08 0.72 4.77 0.52 1.21 0.87 4.77 0.77 1.24 0.94 0.45 0.99 3.25 0.3 0.73 0.85 6.57" stroke-dashoffset="0.3"/>
<path d="M1761.91 355.49A86.8 86.8 0 0 1 1726.18 371.26" stroke="#fff" stroke-opacity="0.28" stroke-dasharray="0.71 4.78 0.75 6.35 0.91 0.75 0.31 5.43 0.43 5.11 0.97 1.42 0.82 0.84 0.63 0.6 0.72 0.65 0.57 0.36 0.98 2.5 0.5 0.89 0.84 1.85" stroke-dashoffset="1.7"/>
<path d="M1721.69 372A86.8 86.8 0 0 1 1681.19 367.91" stroke="#fff" stroke-opacity="0.28" stroke-dasharray="0.28 1.35 0.6 4.52 0.4 0.42 0.65 0.86 0.28 0.56 0.61 1.58 0.45 3.1 0.29 1.1 0.62 0.94 0.97 1.25 0.59 7.21 0.64 0.91 0.61 11.17" stroke-dashoffset="2.49"/>
<path d="M1676.94 366.3A86.8 86.8 0 0 1 1645.3 343.97" stroke="#fff" stroke-opacity="0.28" stroke-dasharray="0.48 0.48 0.94 1.12 0.31 1.55 0.82 1.37 0.85 6.69 0.75 5.21 0.69 0.5 0.76 0.98 0.86 5.54 0.6 3.11 0.29 2.27 0.74 6.07" stroke-dashoffset="0.21"/>
<path d="M1642.35 340.51A86.8 86.8 0 0 1 1625.76 307.31" stroke="#fff" stroke-opacity="0.28" stroke-dasharray="0.4 3.59 0.71 1.67 0.98 0.47 0.9 0.57 0.43 2.77 0.29 3.63 0.48 3.96 0.7 0.98 0.84 6.06 0.84 0.53 0.58 0.46 0.59 1.06 0.65 4.95" stroke-dashoffset="2.23"/>
<path d="M1624.76 302.88A86.8 86.8 0 0 1 1624.11 272.78" stroke="#fff" stroke-opacity="0.28" stroke-dasharray="0.85 0.43 0.61 1.54 0.79 5.31 0.26 4.86 0.5 0.38 0.71 2.06 0.97 4.04 0.6 3.78 0.92 1.97" stroke-dashoffset="0.95"/>
<path d="M1624.92 268.3A86.8 86.8 0 0 1 1636.22 240.12" stroke="#fff" stroke-opacity="0.28" stroke-dasharray="0.74 4.68 0.78 2.52 0.37 3.3 0.7 3.26 0.59 0.39 0.44 2.36 0.37 1.21 0.56 0.65 0.46 1.67 0.93 3.22 0.33 1.44" stroke-dashoffset="2.43"/>
<path d="M1638.72 236.33A86.8 86.8 0 0 1 1666.63 210.75" stroke="#fff" stroke-opacity="0.28" stroke-dasharray="0.25 3.13 0.79 0.96 0.26 1.15 0.5 2.81 0.31 0.72 0.79 0.39 0.7 1.37 0.5 1.51 0.51 3.94 0.94 2.24 0.76 4.58 0.33 1.75 0.27 3.54 0.92 0.64 0.57 2.53" stroke-dashoffset="1.6"/>
<path d="M1670.63 208.59A86.8 86.8 0 0 1 1705.36 199.32" stroke="#fff" stroke-opacity="0.28" stroke-dasharray="0.29 1.51 0.5 2.42 0.92 0.49 0.66 1.72 0.54 0.79 0.59 0.59 0.76 1.1 0.9 0.94 0.41 0.78 0.8 4.52 0.9 1.97 0.73 1.31 0.65 0.58 0.9 1.57 0.61 0.55 0.64 0.8 0.99 0.48 0.52 0.49 0.4 1.9" stroke-dashoffset="0.2"/>
</g>
<path d="M1763.54 81.73L1769.03 60.83M1877.65 157.68L1894.8 144.55M1522.54 383.48L1503.38 393.45M1501.06 317.46L1479.7 320.67M1561.98 135.25L1546.85 119.83M1650.44 83.34L1644.36 62.62M1675.85 77.56L1672.37 56.25" stroke="#4a8ac6" stroke-width="0.8"/>
<path d="M1756.27 107.77L1761.71 86.87M1855.91 173.77L1873.04 160.61" stroke="#3fab92" stroke-width="0.8"/>
<path d="M1920.99 292.69L1942.58 293.37M1896.37 385.17L1915.44 395.31M1801.93 476.09L1811.34 495.53M1688.96 496.16L1686.82 517.65M1594.76 463.05L1582.98 481.16M1510.32 216.9L1489.91 209.83M1750.95 493.17L1755.14 514.36M1892.98 180.7L1911.7 169.93M1789.48 90.37L1797.62 70.36M1875.27 417.37L1892.18 430.81" stroke="#8db4da" stroke-width="0.8"/>
<path d="M1893.98 291.41L1915.57 292.05M1872.69 372.1L1891.79 382.2M1790.53 451.57L1799.98 470.99M1692.06 469.29L1689.97 490.79M1609.85 440.61L1598.11 458.75M1546.72 371.37L1527.59 381.39M1527.86 313.84L1506.51 317.11M1535.74 226.14L1515.31 219.12M1580.62 154.85L1565.46 139.46M1657.65 109.41L1651.52 88.7M1682.14 103.94L1678.88 82.59" stroke="#86cdb9" stroke-width="0.8"/>
<path d="M1636.62 87.92L1629.13 67.66" stroke="#5b95cc" stroke-width="0.8"/>
<path d="M1658 81.28L1652.69 60.34" stroke="#7eaad6" stroke-width="0.8"/>
<path d="M1511.78 212.83L1491.52 205.35M1735.42 495.65L1738.03 517.09" stroke="#6c9fd1" stroke-width="0.8"/>
<path d="M1804.06 96.95L1813.69 77.62" stroke="#9dbfe0" stroke-width="0.8"/>
<path d="M1893.78 296.15L1915.35 297.34" stroke="#6fc3ad" stroke-width="0.8"/>
<path d="M1769.63 55L1771.08 49.38" stroke="#ff2a12" stroke-width="2.2"/>
<path d="M1898.86 140.31L1903.45 136.77" stroke="#ff2a12" stroke-width="1.3"/>
<path d="M1948.41 292.65L1954.2 292.82" stroke="#ff2a12" stroke-width="1.3"/>
<path d="M1920.99 397.23L1926.12 399.94" stroke="#ff2a12" stroke-width="1.3"/>
<path d="M1814.68 500.36L1817.23 505.57" stroke="#ff2a12" stroke-width="1.3"/>
<path d="M1687.14 523.51L1686.59 529.29" stroke="#ff2a12" stroke-width="1.3"/>
<path d="M1580.58 486.51L1577.43 491.39" stroke="#ff2a12" stroke-width="1.3"/>
<path d="M1498.66 396.93L1493.52 399.63" stroke="#ff2a12" stroke-width="1.3"/>
<path d="M1474.1 322.43L1468.37 323.32" stroke="#ff2a12" stroke-width="1.3"/>
<path d="M1484.14 208.79L1478.65 206.91" stroke="#ff2a12" stroke-width="1.3"/>
<path d="M1542.14 116.33L1538.07 112.2" stroke="#ff2a12" stroke-width="1.3"/>
<path d="M1641.86 57.31L1640.2 51.75" stroke="#ff2a12" stroke-width="1.3"/>
<path d="M1709.9 20.5A265.5 265.5 0 0 1 1871.75 75.54M1709.9 20.5L1709.9 13.9M1725.98 20.99L1726.22 16.99M1742 22.45L1742.48 18.48M1757.9 24.88L1758.63 20.94M1773.63 28.26L1774.59 24.38M1789.12 32.6L1791.09 26.3M1804.33 37.86L1805.75 34.12M1819.18 44.03L1820.83 40.39M1833.64 51.1L1835.5 47.56M1847.64 59.02L1849.71 55.6M1861.13 67.78L1864.89 62.36M1882.55 84.3A265.5 265.5 0 0 1 1962.06 202.89M1882.55 84.3L1886.84 79.28M1894.45 95.12L1897.23 92.25M1905.67 106.65L1908.62 103.95M1916.17 118.84L1919.28 116.32M1925.92 131.64L1929.17 129.31M1934.87 145L1940.46 141.5M1942.99 158.89L1946.51 156.97M1950.26 173.24L1953.89 171.54M1956.65 188L1960.37 186.53M1966.06 216.2A265.5 265.5 0 0 1 1964.64 360.81M1966.06 216.2L1972.43 214.46M1969.82 231.84L1973.73 231.03M1972.62 247.68L1976.58 247.11M1974.46 263.66L1978.44 263.33M1975.33 279.73L1979.32 279.63M1975.22 295.82L1981.81 296.06M1974.14 311.87L1978.12 312.26M1972.09 327.82L1976.04 328.45M1969.07 343.63L1972.98 344.49M1965.11 359.22L1968.95 360.32M1960.38 374.04A265.5 265.5 0 0 1 1879.9 489.94M1960.38 374.04L1966.6 376.23M1954.58 389.05L1958.27 390.61M1947.89 403.68L1951.48 405.46M1940.33 417.88L1943.8 419.87M1931.92 431.59L1935.26 433.79M1922.69 444.77L1927.98 448.72M1912.69 457.37L1915.74 459.95M1901.94 469.34L1904.83 472.1M1890.48 480.63L1893.2 483.56M1868.99 498.55A265.5 265.5 0 0 1 1759.69 546.79M1868.99 498.55L1872.95 503.84M1855.83 507.8L1858.03 511.14M1842.13 516.23L1844.12 519.7M1827.94 523.82L1829.72 527.4M1813.32 530.53L1814.88 534.21M1798.32 536.34L1800.52 542.57M1783 541.24L1784.1 545.08M1767.4 545.2L1768.27 549.1M1745.97 549.04A265.5 265.5 0 0 1 1622.07 536.55M1745.97 549.04L1746.87 555.58M1729.98 550.74L1730.28 554.73M1713.9 551.47L1713.97 555.47M1697.82 551.23L1697.64 555.22M1681.78 550.01L1681.35 553.98M1665.84 547.82L1664.74 554.33M1650.06 544.67L1649.16 548.57M1634.51 540.57L1633.37 544.41M1609.08 531.61A265.5 265.5 0 0 1 1512.3 463.32M1609.08 531.61L1606.57 537.72M1594.39 525.06L1592.65 528.66M1580.12 517.62L1578.17 521.11M1566.33 509.34L1564.17 512.7M1553.07 500.23L1550.71 503.46M1540.38 490.34L1536.17 495.42M1528.32 479.7L1525.58 482.62M1516.92 468.34L1514.01 471.09M1503.29 452.74A265.5 265.5 0 0 1 1452.53 351.19M1503.29 452.74L1498.15 456.88M1493.57 439.92L1490.31 442.24M1484.64 426.53L1481.25 428.65M1476.54 412.63L1473.03 414.54M1469.3 398.27L1465.68 399.96M1462.95 383.49L1456.81 385.91M1457.49 368.35L1453.69 369.59M1452.97 352.91L1449.1 353.92M1449.47 337.63A265.5 265.5 0 0 1 1447.5 245.55M1449.47 337.63L1442.99 338.91M1446.82 321.76L1442.86 322.3M1445.14 305.76L1441.15 306.06M1444.43 289.69L1440.43 289.75M1444.69 273.61L1440.69 273.42M1445.93 257.57L1439.36 256.86M1449.98 231.87A265.5 265.5 0 0 1 1484.52 145.67M1449.98 231.87L1443.51 230.53M1453.73 216.23L1449.87 215.18M1458.43 200.84L1454.64 199.56M1464.05 185.77L1460.34 184.26M1470.57 171.06L1466.96 169.33M1477.97 156.78L1472.2 153.57M1492.17 134.06A265.5 265.5 0 0 1 1577.55 55.84M1492.17 134.06L1486.76 130.29M1501.77 121.15L1498.64 118.67M1512.14 108.85L1509.16 106.18M1523.23 97.2L1520.42 94.36M1535.01 86.24L1532.37 83.23M1547.43 76.02L1543.39 70.8M1560.44 66.56L1558.19 63.26M1574.01 57.91L1571.96 54.48M1589.78 49.23A265.5 265.5 0 0 1 1696 20.86M1589.78 49.23L1586.8 43.34M1604.34 42.39L1602.75 38.72M1619.29 36.44L1617.93 32.68M1634.57 31.41L1633.44 27.57M1650.13 27.32L1649.23 23.42M1665.91 24.17L1664.81 17.66M1681.84 21.99L1681.42 18.01" stroke="#1c6ab3" stroke-width="1.1"/>
</g>
<g id="pcl" font-size="13.5" fill="#1c6ab3">
<text transform="translate(1709.9,11.4) rotate(-90)" text-anchor="start" dy="0.36em">0</text>
<text transform="translate(1791.84,23.91) rotate(-72.64)" text-anchor="start" dy="0.36em">20</text>
<text transform="translate(1866.31,60.3) rotate(-55.28)" text-anchor="start" dy="0.36em">40</text>
<text transform="translate(1888.46,77.39) rotate(-49.44)" text-anchor="start" dy="0.36em">0</text>
<text transform="translate(1942.58,140.17) rotate(-32.08)" text-anchor="start" dy="0.36em">20</text>
<text transform="translate(1974.84,213.81) rotate(-15.24)" text-anchor="start" dy="0.36em">0</text>
<text transform="translate(1984.31,296.15) rotate(2.12)" text-anchor="start" dy="0.36em">20</text>
<text transform="translate(1968.96,377.06) rotate(19.37)" text-anchor="start" dy="0.36em">0</text>
<text transform="translate(1929.99,450.22) rotate(36.73)" text-anchor="start" dy="0.36em">20</text>
<text transform="translate(1874.45,505.84) rotate(53.19)" text-anchor="start" dy="0.36em">0</text>
<text transform="translate(1801.35,544.92) rotate(70.55)" text-anchor="start" dy="0.36em">20</text>
<text transform="translate(1747.21,558.05) rotate(82.19)" text-anchor="start" dy="0.36em">0</text>
<text transform="translate(1664.33,556.79) rotate(-80.45)" text-anchor="end" dy="0.36em">20</text>
<text transform="translate(1605.63,540.03) rotate(-67.68)" text-anchor="end" dy="0.36em">0</text>
<text transform="translate(1534.57,497.34) rotate(-50.32)" text-anchor="end" dy="0.36em">20</text>
<text transform="translate(1496.21,458.45) rotate(-38.9)" text-anchor="end" dy="0.36em">0</text>
<text transform="translate(1454.48,386.83) rotate(-21.54)" text-anchor="end" dy="0.36em">20</text>
<text transform="translate(1440.54,339.4) rotate(-11.21)" text-anchor="end" dy="0.36em">0</text>
<text transform="translate(1436.88,256.59) rotate(6.15)" text-anchor="end" dy="0.36em">20</text>
<text transform="translate(1441.07,230.02) rotate(11.76)" text-anchor="end" dy="0.36em">0</text>
<text transform="translate(1470.02,152.35) rotate(29.12)" text-anchor="end" dy="0.36em">20</text>
<text transform="translate(1484.71,128.86) rotate(34.91)" text-anchor="end" dy="0.36em">0</text>
<text transform="translate(1541.86,68.82) rotate(52.27)" text-anchor="end" dy="0.36em">20</text>
<text transform="translate(1585.66,41.11) rotate(63.1)" text-anchor="end" dy="0.36em">0</text>
<text transform="translate(1664.4,15.2) rotate(80.46)" text-anchor="end" dy="0.36em">20</text>
</g>
<g id="pcn" font-size="16.6" font-weight="bold" text-anchor="middle">
<text transform="translate(1792.74,42.4) rotate(18.78)" dy="0.36em">chr01</text>
<text transform="translate(1923.61,142.71) rotate(56.16)" dy="0.36em">chr02</text>
<text transform="translate(1967.19,288.52) rotate(270.56)" dy="0.36em">chr03</text>
<text transform="translate(1921.24,432.76) rotate(304.78)" dy="0.36em">chr04</text>
<text transform="translate(1813.78,521.4) rotate(336.19)" dy="0.36em">chr05</text>
<text transform="translate(1684.1,542) rotate(365.75)" dy="0.36em">chr06</text>
<text transform="translate(1561.56,496.23) rotate(395.21)" dy="0.36em">chr07</text>
<text transform="translate(1479.75,401.04) rotate(423.44)" dy="0.36em">chr08</text>
<text transform="translate(1452.66,291.5) rotate(448.77)" dy="0.36em">chr09</text>
<text transform="translate(1471.06,190.3) rotate(291.84)" dy="0.36em">chr10</text>
<text transform="translate(1536.09,96.28) rotate(317.5)" dy="0.36em">chr11</text>
<text transform="translate(1643.52,37.41) rotate(345.05)" dy="0.36em">chr12</text>
</g>
<rect x="1558.8" y="595.65" width="23.6" height="23.5" fill="#ff0000"/>
<text x="1597.2" y="614.3" font-size="24.6">Regions of Centromere</text>
<rect x="1558.8" y="646.05" width="23.6" height="23.5" fill="#0560ad"/>
<text x="1597.2" y="664.7" font-size="24.6">Density of eccDNAs</text>
<rect x="1558.8" y="696.45" width="23.6" height="23.5" fill="#00a087"/>
<text x="1597.2" y="715.1" font-size="24.6">Density of TEs</text>
<rect x="1558.8" y="746.65" width="23.6" height="23.5" fill="#a19cb0"/>
<text x="1597.2" y="765.3" font-size="24.6">Density of methylated positions</text>
<rect x="1558.8" y="797.25" width="23.6" height="23.5" fill="#e64b35"/>
<text x="1597.2" y="815.9" font-size="24.6">Density of genes</text>
<rect x="1558.8" y="847.45" width="23.6" height="23.5" fill="#cda59e"/>
<text x="1597.2" y="866.1" font-size="24.6">Density of non-coding RNAs</text>
<rect x="1558.8" y="897.95" width="23.6" height="23.5" fill="#dba87b"/>
<text x="1597.2" y="916.6" font-size="24.6">Density of motifs</text>
<g id="pd">
<path d="M245.6 559.1A179 179 0 0 1 414.77 796.61L340.11 770.79A100 100 0 0 0 245.6 638.1Z" fill="#e64b35"/>
<path d="M414.77 796.61A179 179 0 0 1 289.03 911.75L269.86 835.11A100 100 0 0 0 340.11 770.79Z" fill="#ef8030"/>
<path d="M289.03 911.75A179 179 0 0 1 191.36 908.68L215.3 833.4A100 100 0 0 0 269.86 835.11Z" fill="#f5bc05"/>
<path d="M191.36 908.68A179 179 0 0 1 245.6 559.1L245.6 638.1A100 100 0 0 0 215.3 833.4Z" fill="#a6a6a6"/>
<path d="M245.6 639.1L245.6 558.1M339.16 770.46L415.71 796.94M269.62 834.14L289.27 912.72M215.6 832.44L191.05 909.64" stroke="#fff" stroke-width="4.4" fill="none"/>
<text x="362.9" y="644.3" font-size="28.7" text-anchor="middle">gene</text>
<text x="363.5" y="683.8" font-size="24.8" text-anchor="middle">(30.3%)</text>
<text x="110.7" y="705.3" font-size="28.7" text-anchor="middle">intergenic</text>
<text x="110.7" y="743.4" font-size="24.8" text-anchor="middle">(45.1%)</text>
<text x="355.8" y="824.7" font-size="28.7" text-anchor="middle">up2kb</text>
<text x="355.8" y="863.3" font-size="24.8" text-anchor="middle">(15.8%)</text>
<text x="240.4" y="869.3" font-size="28.7" text-anchor="middle">down2kb</text>
<text x="241.6" y="908.5" font-size="24.8" text-anchor="middle">(8.8%)</text>
<text x="245.6" y="731.1" font-size="28.6" text-anchor="middle">total</text>
<text x="245.6" y="765.4" font-size="28.6" text-anchor="middle">96,757</text>
</g><g id="pe">
<path d="M742.8 559.1A179 179 0 1 1 729.32 916.59L735.27 837.82A100 100 0 1 0 742.8 638.1Z" fill="#00a087"/>
<path d="M729.32 916.59A179 179 0 0 1 742.8 559.1L742.8 638.1A100 100 0 0 0 735.27 837.82Z" fill="#a6a6a6"/>
<path d="M742.8 639.1L742.8 558.1M735.34 836.82L729.24 917.59" stroke="#fff" stroke-width="4.4" fill="none"/>
<text x="605.7" y="721.6" font-size="28.7" text-anchor="middle">other</text>
<text x="606.4" y="759.1" font-size="24.8" text-anchor="middle">(48.8%)</text>
<text x="878.6" y="739.7" font-size="28.7" text-anchor="middle">TE</text>
<text x="879.6" y="779.1" font-size="24.8" text-anchor="middle">(51.2%)</text>
<text x="741.9" y="731.1" font-size="28.6" text-anchor="middle">total</text>
<text x="741.9" y="765.4" font-size="28.6" text-anchor="middle">96,757</text>
</g><g id="pf">
<path d="M1231.3 559.1A179 179 0 0 1 1333.77 884.87L1288.54 820.1A100 100 0 0 0 1231.3 638.1Z" fill="#cda59e"/>
<path d="M1333.77 884.87A179 179 0 1 1 1231.3 559.1L1231.3 638.1A100 100 0 1 0 1288.54 820.1Z" fill="#a6a6a6"/>
<path d="M1231.3 639.1L1231.3 558.1M1287.97 819.28L1334.34 885.69" stroke="#fff" stroke-width="4.4" fill="none"/>
<text x="1366.1" y="668.1" font-size="28.7" text-anchor="middle">non-coding</text>
<text x="1366.4" y="702.4" font-size="28.7" text-anchor="middle">RNA</text>
<text x="1366.3" y="743.4" font-size="24.8" text-anchor="middle">(40.3%)</text>
<text x="1098.8" y="768.3" font-size="28.7" text-anchor="middle">other</text>
<text x="1098.8" y="806" font-size="24.8" text-anchor="middle">(59.7%)</text>
<text x="1233" y="731.1" font-size="28.6" text-anchor="middle">total</text>
<text x="1233" y="765.4" font-size="28.6" text-anchor="middle">96,757</text>
</g>
<g id="pg">
<rect x="19" y="998.5" width="446" height="445.2" fill="#ebebeb"/>
<path d="M241.4 1221.8L341.1 1049.11M241.4 1221.8L440.8 1221.8M241.4 1221.8L341.1 1394.49M241.4 1221.8L141.7 1394.49M241.4 1221.8L42 1221.8M241.4 1221.8L141.7 1049.11" stroke="#fff" stroke-width="2.5" fill="none"/>
<path d="M241.4 1221.8L241.4 1022.4M241.4 1221.8L414.09 1122.1M241.4 1221.8L414.09 1321.5M241.4 1221.8L241.4 1421.2M241.4 1221.8L68.71 1321.5M241.4 1221.8L68.71 1122.1" stroke="#fff" stroke-width="5" fill="none"/>
<circle cx="241.4" cy="1221.8" r="39.88" stroke="#fff" stroke-width="5" fill="none"/>
<circle cx="241.4" cy="1221.8" r="79.76" stroke="#fff" stroke-width="5" fill="none"/>
<circle cx="241.4" cy="1221.8" r="119.64" stroke="#fff" stroke-width="5" fill="none"/>
<circle cx="241.4" cy="1221.8" r="159.52" stroke="#fff" stroke-width="5" fill="none"/>
<circle cx="241.4" cy="1221.8" r="199.4" stroke="#fff" stroke-width="5" fill="none"/>
<polygon points="241.4,1189.56 381.35,1141 307.36,1259.88 241.4,1285.07 227.09,1230.06 199.87,1197.82" fill="#f8a0a0" fill-opacity="0.35" stroke="#000" stroke-width="2.2" stroke-linejoin="round"/>
<circle cx="241.4" cy="1189.56" r="8.5" fill="#fb7278" stroke="#000" stroke-width="2.2"/>
<circle cx="381.35" cy="1141" r="8.5" fill="#fb7278" stroke="#000" stroke-width="2.2"/>
<circle cx="307.36" cy="1259.88" r="8.5" fill="#fb7278" stroke="#000" stroke-width="2.2"/>
<circle cx="241.4" cy="1285.07" r="8.5" fill="#fb7278" stroke="#000" stroke-width="2.2"/>
<circle cx="227.09" cy="1230.06" r="8.5" fill="#fb7278" stroke="#000" stroke-width="2.2"/>
<circle cx="199.87" cy="1197.82" r="8.5" fill="#fb7278" stroke="#000" stroke-width="2.2"/>
<text x="240.4" y="1106.3" font-size="28.7" text-anchor="middle">5’UTR</text>
<text x="240.6" y="1135.5" font-size="24.9" text-anchor="middle">(8.0%)</text>
<text x="397.8" y="1096" font-size="28.7" text-anchor="middle">CDS</text>
<text x="398.4" y="1124.5" font-size="24.9" text-anchor="middle">(40.1%)</text>
<text x="384.8" y="1275.8" font-size="28.7" text-anchor="middle">3’UTR</text>
<text x="384.5" y="1304.7" font-size="24.9" text-anchor="middle">(18.9%)</text>
<text x="240.6" y="1359.6" font-size="28.7" text-anchor="middle">CDS+3’UTR</text>
<text x="240.6" y="1389.3" font-size="24.9" text-anchor="middle">(15.7%)</text>
<text x="108" y="1168.5" font-size="28.7" text-anchor="middle">5’UTR+CDS</text>
<text x="109.1" y="1198.9" font-size="24.9" text-anchor="middle">(11.9%)</text>
<text x="128.2" y="1252.2" font-size="28.7" text-anchor="middle">5’UTR+CDS</text>
<text x="129" y="1287.5" font-size="28.7" text-anchor="middle">+3’UTR</text>
<text x="128.9" y="1321.2" font-size="24.9" text-anchor="middle">(4.1%)</text>
</g>
<g id="ph">
<g stroke="#000" stroke-width="2.2" fill-opacity="0.6">
<circle cx="669.1" cy="1139.1" r="147.6" fill="#e64b35"/>
<circle cx="814.3" cy="1139.1" r="147.6" fill="#00a087"/>
<circle cx="743" cy="1265.4" r="147.6" fill="#cda59e"/>
</g>
<g fill="none" stroke="#000" stroke-width="2.2">
<circle cx="669.1" cy="1139.1" r="147.6"/>
<circle cx="814.3" cy="1139.1" r="147.6"/>
<circle cx="743" cy="1265.4" r="147.6"/>
</g>
<text x="494" y="1020.5" font-size="28.9">Genes</text>
<text x="958.2" y="1020.5" font-size="28.9" text-anchor="end">TEs</text>
<text x="741" y="1441.8" font-size="28.9" text-anchor="middle">Non-conding RNAs</text>
<text x="742.6" y="1075.9" font-size="24.8" text-anchor="middle">4893</text>
<text x="606.9" y="1113.3" font-size="24.8" text-anchor="middle">17174</text>
<text x="880.2" y="1113.3" font-size="24.8" text-anchor="middle">21111</text>
<text x="742.6" y="1192.7" font-size="24.8" text-anchor="middle">3504</text>
<text x="641.4" y="1251.6" font-size="24.8" text-anchor="middle">3702</text>
<text x="844.5" y="1251.6" font-size="24.8" text-anchor="middle">20004</text>
<text x="740.4" y="1351.9" font-size="24.8" text-anchor="middle">11760</text>
</g>
<g id="pi">
<g stroke="#000" stroke-width="2.2" fill-opacity="0.6">
<circle cx="1177.6" cy="1142.8" r="146.8" fill="#ef8030"/>
<circle cx="1322.5" cy="1142.8" r="146.8" fill="#00a087"/>
<circle cx="1250.2" cy="1267.95" r="146.8" fill="#cda59e"/>
</g>
<g fill="none" stroke="#000" stroke-width="2.2">
<circle cx="1177.6" cy="1142.8" r="146.8"/>
<circle cx="1322.5" cy="1142.8" r="146.8"/>
<circle cx="1250.2" cy="1267.95" r="146.8"/>
</g>
<text x="1014" y="1021.6" font-size="28.9">up2kb</text>
<text x="1456.5" y="1021.6" font-size="28.9" text-anchor="end">TEs</text>
<text x="1249" y="1443.8" font-size="28.9" text-anchor="middle">Non-conding RNAs</text>
<text x="1250.2" y="1080.3" font-size="24.8" text-anchor="middle">2345</text>
<text x="1113.4" y="1116.9" font-size="24.8" text-anchor="middle">3888</text>
<text x="1388.2" y="1116.9" font-size="24.8" text-anchor="middle">23659</text>
<text x="1250.2" y="1195.6" font-size="24.8" text-anchor="middle">5668</text>
<text x="1149.2" y="1254.9" font-size="24.8" text-anchor="middle">3385</text>
<text x="1352.9" y="1254.9" font-size="24.8" text-anchor="middle">17840</text>
<text x="1247.5" y="1354.8" font-size="24.8" text-anchor="middle">12077</text>
</g>
<g id="pj">
<g stroke="#000" stroke-width="2.2" fill-opacity="0.6">
<circle cx="1694.7" cy="1142.9" r="146" fill="#f5bc05"/>
<circle cx="1838.2" cy="1142.9" r="146" fill="#00a087"/>
<circle cx="1766.1" cy="1268.2" r="146" fill="#cda59e"/>
</g>
<g fill="none" stroke="#000" stroke-width="2.2">
<circle cx="1694.7" cy="1142.9" r="146"/>
<circle cx="1838.2" cy="1142.9" r="146"/>
<circle cx="1766.1" cy="1268.2" r="146"/>
</g>
<text x="1489.5" y="1022.3" font-size="28.9">down2kb</text>
<text x="1978.8" y="1022.3" font-size="28.9" text-anchor="end">TEs</text>
<text x="1768" y="1444" font-size="28.9" text-anchor="middle">Non-conding RNAs</text>
<text x="1767.2" y="1084.1" font-size="24.8" text-anchor="middle">1376</text>
<text x="1630.3" y="1121.8" font-size="24.8" text-anchor="middle">2509</text>
<text x="1903.1" y="1121.8" font-size="24.8" text-anchor="middle">24628</text>
<text x="1766.5" y="1201.3" font-size="24.8" text-anchor="middle">2843</text>
<text x="1666.5" y="1257.3" font-size="24.8" text-anchor="middle">1797</text>
<text x="1867.4" y="1257.3" font-size="24.8" text-anchor="middle">20665</text>
<text x="1767.6" y="1356.9" font-size="24.8" text-anchor="middle">13665</text>
</g>
</svg>
</body></html>
